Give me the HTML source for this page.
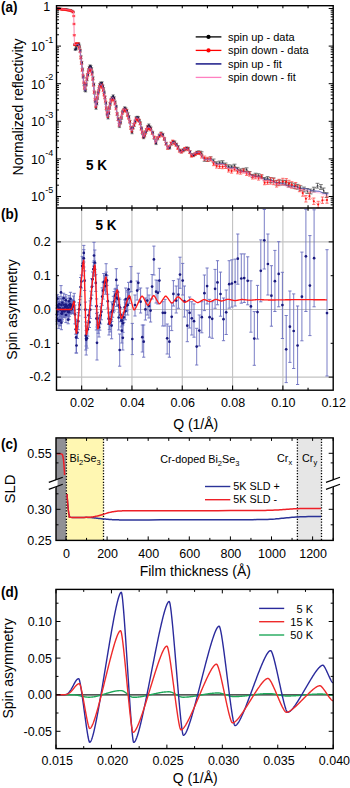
<!DOCTYPE html>
<html><head><meta charset="utf-8"><style>
html,body{margin:0;padding:0;background:#fff;width:350px;height:788px;overflow:hidden}
svg{display:block}
text{font-family:"Liberation Sans", sans-serif}
</style></head><body>
<svg width="350" height="788" viewBox="0 0 350 788">
<line x1="81.65" y1="208" x2="81.65" y2="390.2" stroke="#c2c2c2" stroke-width="1.1" />
<line x1="131.96" y1="208" x2="131.96" y2="390.2" stroke="#c2c2c2" stroke-width="1.1" />
<line x1="182.27" y1="208" x2="182.27" y2="390.2" stroke="#c2c2c2" stroke-width="1.1" />
<line x1="232.58" y1="208" x2="232.58" y2="390.2" stroke="#c2c2c2" stroke-width="1.1" />
<line x1="282.89" y1="208" x2="282.89" y2="390.2" stroke="#c2c2c2" stroke-width="1.1" />
<line x1="56.5" y1="241.9" x2="333.2" y2="241.9" stroke="#c2c2c2" stroke-width="1.1" />
<line x1="56.5" y1="309.5" x2="333.2" y2="309.5" stroke="#c2c2c2" stroke-width="1.1" />
<line x1="56.5" y1="377.1" x2="333.2" y2="377.1" stroke="#c2c2c2" stroke-width="1.1" />
<path d="M74.4,44.6 L74.73,44.59 L75.07,44.57 L75.43,44.55 L75.79,44.51 L76.16,44.47 L76.54,44.43 L76.91,44.39 L77.27,44.35 L77.63,44.33 L77.97,44.31 L78.3,44.3 L78.63,44.67 L78.98,45.73 L79.36,47.39 L79.75,49.58 L80.16,52.21 L80.57,55.21 L81,58.49 L81.42,61.97 L81.84,65.58 L82.25,69.22 L82.65,72.83 L83.03,76.31 L83.4,79.59 L83.73,82.59 L84.04,85.22 L84.32,87.41 L84.55,89.07 L84.75,90.13 L84.9,90.5 L85.04,90.21 L85.22,89.38 L85.44,88.11 L85.69,86.47 L85.97,84.54 L86.28,82.4 L86.62,80.15 L86.98,77.85 L87.37,75.6 L87.78,73.46 L88.21,71.53 L88.66,69.89 L89.13,68.62 L89.61,67.79 L90.1,67.5 L90.58,67.89 L91.04,68.99 L91.5,70.71 L91.94,72.96 L92.37,75.64 L92.78,78.65 L93.17,81.89 L93.54,85.28 L93.89,88.72 L94.22,92.11 L94.53,95.35 L94.81,98.36 L95.07,101.04 L95.3,103.29 L95.49,105.01 L95.66,106.11 L95.8,106.5 L95.94,106.21 L96.12,105.41 L96.33,104.16 L96.57,102.55 L96.85,100.67 L97.15,98.58 L97.49,96.37 L97.84,94.13 L98.22,91.92 L98.63,89.83 L99.05,87.95 L99.49,86.34 L99.94,85.09 L100.42,84.29 L100.9,84 L101.39,84.24 L101.86,84.92 L102.33,86 L102.78,87.43 L103.22,89.16 L103.65,91.13 L104.07,93.3 L104.47,95.62 L104.85,98.03 L105.22,100.5 L105.57,102.97 L105.89,105.38 L106.2,107.7 L106.49,109.87 L106.75,111.84 L106.99,113.57 L107.21,115 L107.4,116.08 L107.56,116.76 L107.7,117 L107.85,116.67 L108.04,115.75 L108.28,114.35 L108.55,112.58 L108.86,110.53 L109.2,108.33 L109.57,106.07 L109.97,103.87 L110.39,101.82 L110.84,100.05 L111.31,98.65 L111.8,97.73 L112.3,97.4 L112.78,97.59 L113.24,98.14 L113.7,99 L114.15,100.15 L114.59,101.53 L115.01,103.13 L115.42,104.89 L115.82,106.79 L116.2,108.77 L116.57,110.82 L116.92,112.88 L117.25,114.93 L117.56,116.91 L117.86,118.81 L118.13,120.57 L118.39,122.17 L118.62,123.55 L118.82,124.7 L119.01,125.56 L119.17,126.11 L119.3,126.3 L119.44,126.08 L119.62,125.45 L119.83,124.48 L120.07,123.23 L120.35,121.76 L120.65,120.14 L120.99,118.42 L121.34,116.68 L121.72,114.96 L122.13,113.34 L122.55,111.87 L122.99,110.62 L123.44,109.65 L123.92,109.02 L124.4,108.8 L124.88,108.93 L125.35,109.32 L125.82,109.93 L126.27,110.73 L126.71,111.72 L127.14,112.85 L127.56,114.11 L127.97,115.47 L128.36,116.91 L128.74,118.39 L129.1,119.9 L129.44,121.41 L129.77,122.89 L130.08,124.33 L130.37,125.69 L130.64,126.95 L130.89,128.08 L131.12,129.07 L131.32,129.87 L131.51,130.48 L131.67,130.87 L131.8,131 L131.94,130.83 L132.12,130.36 L132.34,129.63 L132.59,128.68 L132.87,127.58 L133.18,126.35 L133.52,125.06 L133.88,123.74 L134.27,122.45 L134.68,121.22 L135.11,120.12 L135.56,119.17 L136.03,118.44 L136.51,117.97 L137,117.8 L137.48,117.95 L137.95,118.4 L138.41,119.09 L138.86,120.01 L139.3,121.11 L139.72,122.36 L140.12,123.73 L140.51,125.18 L140.88,126.69 L141.24,128.21 L141.57,129.72 L141.89,131.17 L142.18,132.54 L142.44,133.79 L142.69,134.89 L142.91,135.81 L143.1,136.5 L143.26,136.95 L143.4,137.1 L143.54,136.97 L143.72,136.61 L143.94,136.06 L144.19,135.35 L144.47,134.51 L144.78,133.58 L145.12,132.6 L145.48,131.6 L145.87,130.62 L146.28,129.69 L146.71,128.85 L147.16,128.14 L147.63,127.59 L148.11,127.23 L148.6,127.1 L149.08,127.2 L149.56,127.5 L150.02,127.98 L150.48,128.6 L150.92,129.36 L151.35,130.23 L151.77,131.2 L152.17,132.23 L152.56,133.32 L152.93,134.44 L153.28,135.56 L153.62,136.68 L153.94,137.77 L154.24,138.8 L154.52,139.77 L154.77,140.64 L155.01,141.4 L155.22,142.02 L155.4,142.5 L155.56,142.8 L155.7,142.9 L155.85,142.77 L156.03,142.39 L156.26,141.81 L156.52,141.08 L156.81,140.22 L157.13,139.28 L157.49,138.3 L157.87,137.32 L158.27,136.38 L158.7,135.52 L159.15,134.79 L159.62,134.21 L160.1,133.83 L160.6,133.7 L161.08,133.79 L161.55,134.05 L162.02,134.46 L162.47,135 L162.91,135.66 L163.34,136.42 L163.76,137.27 L164.17,138.18 L164.56,139.14 L164.94,140.14 L165.3,141.15 L165.64,142.16 L165.97,143.16 L166.28,144.12 L166.57,145.03 L166.84,145.88 L167.09,146.64 L167.32,147.3 L167.52,147.84 L167.71,148.25 L167.87,148.51 L168,148.6 L168.15,148.51 L168.33,148.25 L168.56,147.86 L168.82,147.35 L169.11,146.76 L169.43,146.12 L169.79,145.45 L170.17,144.78 L170.57,144.14 L171,143.55 L171.45,143.04 L171.92,142.65 L172.4,142.39 L172.9,142.3 L173.38,142.36 L173.85,142.52 L174.31,142.77 L174.76,143.11 L175.21,143.52 L175.64,144 L176.06,144.54 L176.47,145.12 L176.86,145.73 L177.24,146.37 L177.61,147.02 L177.96,147.68 L178.3,148.33 L178.62,148.97 L178.92,149.58 L179.2,150.16 L179.46,150.7 L179.71,151.18 L179.93,151.59 L180.13,151.93 L180.31,152.18 L180.47,152.34 L180.6,152.4 L180.74,152.36 L180.91,152.25 L181.1,152.09 L181.33,151.87 L181.59,151.61 L181.87,151.31 L182.18,151 L182.51,150.67 L182.86,150.33 L183.23,150 L183.62,149.69 L184.03,149.39 L184.46,149.13 L184.9,148.91 L185.36,148.75 L185.82,148.64 L186.3,148.6 L186.78,148.67 L187.24,148.86 L187.7,149.15 L188.14,149.54 L188.57,150 L188.98,150.51 L189.37,151.07 L189.74,151.65 L190.09,152.25 L190.42,152.83 L190.73,153.39 L191.01,153.9 L191.27,154.36 L191.5,154.75 L191.69,155.04 L191.86,155.23 L192,155.3 L192.14,155.28 L192.31,155.21 L192.51,155.1 L192.73,154.96 L192.99,154.79 L193.26,154.59 L193.56,154.38 L193.88,154.15 L194.23,153.92 L194.59,153.68 L194.98,153.45 L195.38,153.22 L195.8,153.01 L196.23,152.81 L196.68,152.64 L197.14,152.5 L197.62,152.39 L198.1,152.32 L198.6,152.3 L199.07,152.37 L199.51,152.55 L199.92,152.84 L200.31,153.22 L200.68,153.68 L201.04,154.2 L201.37,154.76 L201.69,155.35 L202,155.96 L202.31,156.56 L202.6,157.15 L202.88,157.72 L203.17,158.23 L203.45,158.69 L203.73,159.07 L204.01,159.36 L204.3,159.55 L204.6,159.61 L204.91,159.61 L205.22,159.59 L205.54,159.57 L205.88,159.53 L206.21,159.5 L206.56,159.45 L206.9,159.41 L207.25,159.36 L207.6,159.31 L207.95,159.26 L208.3,159.21 L208.64,159.16 L208.99,159.12 L209.32,159.08 L209.66,159.05 L209.98,159.02 L210.29,159.01 L210.6,159 L210.91,159.05 L211.22,159.18 L211.54,159.38 L211.88,159.65 L212.21,159.97 L212.56,160.33 L212.9,160.73 L213.25,161.14 L213.6,161.57 L213.95,161.99 L214.3,162.41 L214.64,162.8 L214.99,163.16 L215.32,163.48 L215.66,163.75 L215.98,163.96 L216.29,164.09 L216.6,164.13 L216.91,164.13 L217.22,164.11 L217.54,164.09 L217.88,164.07 L218.21,164.04 L218.56,164 L218.9,163.96 L219.25,163.92 L219.6,163.88 L219.95,163.84 L220.3,163.8 L220.64,163.76 L220.99,163.73 L221.32,163.69 L221.66,163.67 L221.98,163.65 L222.29,163.64 L222.6,163.63 L222.91,163.67 L223.22,163.77 L223.54,163.93 L223.88,164.14 L224.21,164.39 L224.56,164.67 L224.9,164.98 L225.25,165.31 L225.6,165.64 L225.95,165.97 L226.3,166.3 L226.64,166.6 L226.99,166.89 L227.32,167.14 L227.66,167.35 L227.98,167.51 L228.29,167.61 L228.6,167.64 L228.91,167.65 L229.22,167.65 L229.54,167.65 L229.88,167.65 L230.21,167.66 L230.56,167.66 L230.9,167.67 L231.25,167.67 L231.6,167.68 L231.95,167.68 L232.3,167.69 L232.64,167.69 L232.99,167.7 L233.32,167.7 L233.66,167.71 L233.98,167.71 L234.29,167.71 L234.6,167.71 L234.91,167.74 L235.22,167.82 L235.54,167.96 L235.88,168.13 L236.21,168.34 L236.56,168.57 L236.9,168.83 L237.25,169.1 L237.6,169.37 L237.95,169.65 L238.3,169.92 L238.64,170.18 L238.99,170.41 L239.32,170.62 L239.66,170.79 L239.98,170.92 L240.29,171.01 L240.6,171.04 L240.91,171.05 L241.22,171.07 L241.54,171.11 L241.88,171.15 L242.21,171.21 L242.56,171.27 L242.9,171.34 L243.25,171.41 L243.6,171.49 L243.95,171.56 L244.3,171.63 L244.64,171.7 L244.99,171.76 L245.32,171.82 L245.66,171.87 L245.98,171.9 L246.29,171.92 L246.6,171.93 L246.91,171.96 L247.22,172.06 L247.54,172.21 L247.88,172.4 L248.21,172.64 L248.56,172.9 L248.9,173.19 L249.25,173.49 L249.6,173.8 L249.95,174.11 L250.3,174.41 L250.64,174.7 L250.99,174.96 L251.32,175.2 L251.66,175.39 L251.98,175.54 L252.29,175.64 L252.6,175.67 L252.91,175.68 L253.22,175.69 L253.54,175.72 L253.88,175.76 L254.21,175.81 L254.56,175.86 L254.9,175.92 L255.25,175.97 L255.6,176.04 L255.95,176.1 L256.3,176.16 L256.64,176.21 L256.99,176.26 L257.32,176.31 L257.66,176.35 L257.98,176.38 L258.29,176.4 L258.6,176.4 L258.91,176.43 L259.22,176.5 L259.54,176.61 L259.88,176.75 L260.21,176.93 L260.56,177.12 L260.9,177.34 L261.25,177.56 L261.6,177.79 L261.95,178.02 L262.3,178.25 L262.64,178.46 L262.99,178.66 L263.32,178.83 L263.66,178.98 L263.98,179.09 L264.29,179.16 L264.6,179.18 L264.91,179.19 L265.22,179.21 L265.54,179.24 L265.88,179.28 L266.21,179.33 L266.56,179.38 L266.9,179.44 L267.25,179.5 L267.6,179.56 L267.95,179.62 L268.3,179.69 L268.64,179.74 L268.99,179.8 L269.32,179.85 L269.66,179.89 L269.98,179.92 L270.29,179.93 L270.6,179.94 L270.91,179.96 L271.22,180.03 L271.54,180.14 L271.88,180.27 L272.21,180.44 L272.56,180.63 L272.9,180.83 L273.25,181.04 L273.6,181.26 L273.95,181.48 L274.3,181.69 L274.64,181.9 L274.99,182.08 L275.32,182.25 L275.66,182.38 L275.98,182.49 L276.29,182.56 L276.6,182.58 L276.91,182.59 L277.22,182.61 L277.54,182.65 L277.88,182.69 L278.21,182.75 L278.56,182.81 L278.9,182.88 L279.25,182.95 L279.6,183.03 L279.95,183.1 L280.3,183.17 L280.64,183.24 L280.99,183.31 L281.32,183.36 L281.66,183.41 L281.98,183.45 L282.29,183.47 L282.6,183.48 L282.91,183.5 L283.22,183.56 L283.54,183.65 L283.88,183.77 L284.21,183.92 L284.56,184.09 L284.9,184.27 L285.25,184.46 L285.6,184.66 L285.95,184.85 L286.3,185.04 L286.64,185.22 L286.99,185.39 L287.32,185.54 L287.66,185.66 L287.98,185.76 L288.29,185.81 L288.6,185.84 L288.91,185.84 L289.22,185.85 L289.54,185.87 L289.88,185.89 L290.21,185.92 L290.56,185.95 L290.9,185.98 L291.25,186.02 L291.6,186.06 L291.95,186.09 L292.3,186.13 L292.64,186.16 L292.99,186.19 L293.32,186.22 L293.66,186.24 L293.98,186.26 L294.29,186.27 L294.6,186.27 L294.91,186.29 L295.22,186.34 L295.54,186.42 L295.88,186.52 L296.21,186.64 L296.56,186.78 L296.9,186.93 L297.25,187.09 L297.6,187.25 L297.95,187.41 L298.3,187.57 L298.64,187.72 L298.99,187.86 L299.32,187.98 L299.66,188.08 L299.98,188.16 L300.29,188.21 L300.6,188.23 L300.91,188.23 L301.22,188.24 L301.54,188.26 L301.88,188.28 L302.21,188.31 L302.56,188.35 L302.9,188.38 L303.25,188.42 L303.6,188.46 L303.95,188.49 L304.3,188.53 L304.64,188.57 L304.99,188.6 L305.32,188.63 L305.66,188.65 L305.98,188.67 L306.29,188.68 L306.6,188.69 L306.91,188.7 L307.22,188.76 L307.54,188.84 L307.88,188.95 L308.21,189.08 L308.56,189.23 L308.9,189.39 L309.25,189.56 L309.6,189.73 L309.95,189.9 L310.3,190.07 L310.64,190.23 L310.99,190.38 L311.32,190.51 L311.66,190.62 L311.98,190.7 L312.29,190.75 L312.6,190.77 L312.91,190.78 L313.22,190.79 L313.54,190.81 L313.88,190.84 L314.21,190.87 L314.56,190.91 L314.9,190.95 L315.25,190.99 L315.6,191.03 L315.95,191.08 L316.3,191.12 L316.64,191.16 L316.99,191.19 L317.32,191.23 L317.66,191.25 L317.98,191.27 L318.29,191.29 L318.6,191.29 L318.91,191.31 L319.22,191.37 L319.54,191.45 L319.88,191.56 L320.21,191.7 L320.56,191.85 L320.9,192.01 L321.25,192.19 L321.6,192.36 L321.95,192.54 L322.3,192.71 L322.64,192.88 L322.99,193.03 L323.32,193.16 L323.66,193.28 L323.98,193.36 L324.29,193.42 L324.6,193.44 L324.91,193.44 L325.22,193.45 L325.54,193.47 L325.88,193.5 L326.21,193.53 L326.56,193.56 L326.9,193.6 L327.25,193.64 L327.6,193.68 L327.95,193.72 L328.3,193.76" fill="none" stroke="#3a3aa8" stroke-width="0.8" stroke-linejoin="round" />
<path d="M57.6,7.72V9.12M56,7.72H59.2M56,9.12H59.2M58.9,7.89V9.29M57.3,7.89H60.5M57.3,9.29H60.5M60.2,8.1V9.5M58.6,8.1H61.8M58.6,9.5H61.8M61.5,8.33V9.73M59.9,8.33H63.1M59.9,9.73H63.1M62.8,8.52V9.92M61.2,8.52H64.4M61.2,9.92H64.4M64.1,8.6V10M62.5,8.6H65.7M62.5,10H65.7M65.4,8.73V10.13M63.8,8.73H67M63.8,10.13H67M66.7,8.95V10.35M65.1,8.95H68.3M65.1,10.35H68.3M68,9.2V10.6M66.4,9.2H69.6M66.4,10.6H69.6M69.3,9.4V10.8M67.7,9.4H70.9M67.7,10.8H70.9M70.6,9.5V10.9M69,9.5H72.2M69,10.9H72.2M71.9,10.25V11.65M70.3,10.25H73.5M70.3,11.65H73.5M73.2,11.18V12.58M71.6,11.18H74.8M71.6,12.58H74.8M74.7,43.89V45.29M73.1,43.89H76.3M73.1,45.29H76.3M75.2,48.8V50.2M73.6,48.8H76.8M73.6,50.2H76.8M75.45,43.84V45.24M73.85,43.84H77.05M73.85,45.24H77.05M76.3,47.3V49.9M74.7,47.3H77.9M74.7,49.9H77.9M76.57,43.71V46.31M74.97,43.71H78.17M74.97,46.31H78.17M77.32,43.87V46.47M75.72,43.87H78.92M75.72,46.47H78.92M78.07,42.52V45.12M76.47,42.52H79.67M76.47,45.12H79.67M78.82,43.27V45.87M77.22,43.27H80.42M77.22,45.87H80.42M79.57,44.91V47.51M77.97,44.91H81.17M77.97,47.51H81.17M80.32,49.21V51.81M78.72,49.21H81.92M78.72,51.81H81.92M81.07,55.75V58.35M79.47,55.75H82.67M79.47,58.35H82.67M81.82,61.32V63.92M80.22,61.32H83.42M80.22,63.92H83.42M82.57,68.1V70.7M80.97,68.1H84.17M80.97,70.7H84.17M83.32,75.59V78.19M81.72,75.59H84.92M81.72,78.19H84.92M84.07,82.84V85.44M82.47,82.84H85.67M82.47,85.44H85.67M84.82,88.59V91.19M83.22,88.59H86.42M83.22,91.19H86.42M85.57,89.35V91.95M83.97,89.35H87.17M83.97,91.95H87.17M86.32,83.32V85.92M84.72,83.32H87.92M84.72,85.92H87.92M87.07,78.15V80.75M85.47,78.15H88.67M85.47,80.75H88.67M87.82,73.34V75.94M86.22,73.34H89.42M86.22,75.94H89.42M88.57,69.09V71.69M86.97,69.09H90.17M86.97,71.69H90.17M89.32,66.33V68.93M87.72,66.33H90.92M87.72,68.93H90.92M90.07,64.85V67.45M88.47,64.85H91.67M88.47,67.45H91.67M90.82,65.52V68.12M89.22,65.52H92.42M89.22,68.12H92.42M91.57,67.57V70.17M89.97,67.57H93.17M89.97,70.17H93.17M92.32,71.25V73.85M90.72,71.25H93.92M90.72,73.85H93.92M93.07,76.84V79.44M91.47,76.84H94.67M91.47,79.44H94.67M93.82,83.05V85.65M92.22,83.05H95.42M92.22,85.65H95.42M94.57,91.56V94.16M92.97,91.56H96.17M92.97,94.16H96.17M95.32,100.12V102.72M93.72,100.12H96.92M93.72,102.72H96.92M96.07,106.72V109.32M94.47,106.72H97.67M94.47,109.32H97.67M96.82,102.38V104.98M95.22,102.38H98.42M95.22,104.98H98.42M97.57,97.04V99.64M95.97,97.04H99.17M95.97,99.64H99.17M98.32,91.18V93.78M96.72,91.18H99.92M96.72,93.78H99.92M99.07,87.58V90.18M97.47,87.58H100.67M97.47,90.18H100.67M99.82,83.58V86.18M98.22,83.58H101.42M98.22,86.18H101.42M100.57,82.03V84.63M98.97,82.03H102.17M98.97,84.63H102.17M101.32,82.57V85.17M99.72,82.57H102.92M99.72,85.17H102.92M102.07,81.81V84.41M100.47,81.81H103.67M100.47,84.41H103.67M102.82,85V87.6M101.22,85H104.42M101.22,87.6H104.42M103.57,87.64V90.24M101.97,87.64H105.17M101.97,90.24H105.17M104.32,91.2V93.8M102.72,91.2H105.92M102.72,93.8H105.92M105.07,96.25V98.85M103.47,96.25H106.67M103.47,98.85H106.67M105.82,101.68V104.28M104.22,101.68H107.42M104.22,104.28H107.42M106.57,107.81V110.41M104.97,107.81H108.17M104.97,110.41H108.17M107.32,113.11V115.71M105.72,113.11H108.92M105.72,115.71H108.92M108.07,116.39V118.99M106.47,116.39H109.67M106.47,118.99H109.67M108.82,112.04V114.64M107.22,112.04H110.42M107.22,114.64H110.42M109.57,106.59V109.19M107.97,106.59H111.17M107.97,109.19H111.17M110.32,102.37V104.97M108.72,102.37H111.92M108.72,104.97H111.92M111.07,98.45V101.05M109.47,98.45H112.67M109.47,101.05H112.67M112.12,96.46V99.06M110.52,96.46H113.72M110.52,99.06H113.72M113.17,94.83V97.43M111.57,94.83H114.77M111.57,97.43H114.77M114.22,96.78V99.38M112.62,96.78H115.82M112.62,99.38H115.82M115.27,100.99V103.59M113.67,100.99H116.87M113.67,103.59H116.87M116.32,105.35V107.95M114.72,105.35H117.92M114.72,107.95H117.92M117.37,113.12V115.72M115.77,113.12H118.97M115.77,115.72H118.97M118.42,117.88V120.48M116.82,117.88H120.02M116.82,120.48H120.02M119.47,124.98V127.58M117.87,124.98H121.07M117.87,127.58H121.07M120.52,121.34V123.94M118.92,121.34H122.12M118.92,123.94H122.12M121.57,116.75V119.35M119.97,116.75H123.17M119.97,119.35H123.17M122.62,110.56V113.16M121.02,110.56H124.22M121.02,113.16H124.22M123.67,108.88V111.48M122.07,108.88H125.27M122.07,111.48H125.27M124.72,106.78V109.38M123.12,106.78H126.32M123.12,109.38H126.32M125.77,107.72V110.32M124.17,107.72H127.37M124.17,110.32H127.37M126.82,109.29V111.89M125.22,109.29H128.42M125.22,111.89H128.42M127.87,112.67V115.27M126.27,112.67H129.47M126.27,115.27H129.47M128.92,115.57V118.17M127.32,115.57H130.52M127.32,118.17H130.52M129.97,120.48V123.08M128.37,120.48H131.57M128.37,123.08H131.57M131.02,126.78V129.38M129.42,126.78H132.62M129.42,129.38H132.62M132.07,131.15V133.75M130.47,131.15H133.67M130.47,133.75H133.67M133.12,126.1V128.7M131.52,126.1H134.72M131.52,128.7H134.72M134.17,123.74V126.34M132.57,123.74H135.77M132.57,126.34H135.77M135.22,120.05V122.65M133.62,120.05H136.82M133.62,122.65H136.82M136.27,116.62V119.22M134.67,116.62H137.87M134.67,119.22H137.87M137.32,116.22V118.82M135.72,116.22H138.92M135.72,118.82H138.92M138.37,116.56V119.16M136.77,116.56H139.97M136.77,119.16H139.97M139.42,119.48V122.08M137.82,119.48H141.02M137.82,122.08H141.02M140.47,121.94V124.54M138.87,121.94H142.07M138.87,124.54H142.07M141.52,126.97V129.57M139.92,126.97H143.12M139.92,129.57H143.12M142.57,131.85V134.45M140.97,131.85H144.17M140.97,134.45H144.17M143.62,136.11V138.71M142.02,136.11H145.22M142.02,138.71H145.22M144.67,134.2V136.8M143.07,134.2H146.27M143.07,136.8H146.27M145.72,130.71V133.31M144.12,130.71H147.32M144.12,133.31H147.32M146.77,128.8V131.4M145.17,128.8H148.37M145.17,131.4H148.37M147.82,125.35V127.95M146.22,125.35H149.42M146.22,127.95H149.42M148.87,123.91V126.51M147.27,123.91H150.47M147.27,126.51H150.47M149.92,125.82V128.42M148.32,125.82H151.52M148.32,128.42H151.52M150.97,127.02V129.62M149.37,127.02H152.57M149.37,129.62H152.57M152.67,131.24V133.84M151.07,131.24H154.27M151.07,133.84H154.27M154.37,136.8V139.4M152.77,136.8H155.97M152.77,139.4H155.97M156.07,141.98V144.58M154.47,141.98H157.67M154.47,144.58H157.67M157.77,137.23V139.83M156.17,137.23H159.37M156.17,139.83H159.37M159.47,134.02V136.62M157.87,134.02H161.07M157.87,136.62H161.07M161.17,131.95V134.55M159.57,131.95H162.77M159.57,134.55H162.77M162.87,133.34V135.94M161.27,133.34H164.47M161.27,135.94H164.47M164.57,137.84V140.44M162.97,137.84H166.17M162.97,140.44H166.17M166.27,142.32V144.92M164.67,142.32H167.87M164.67,144.92H167.87M167.97,146.4V149M166.37,146.4H169.57M166.37,149H169.57M169.67,146.43V149.03M168.07,146.43H171.27M168.07,149.03H171.27M171.37,142.54V145.14M169.77,142.54H172.97M169.77,145.14H172.97M173.07,140.58V143.18M171.47,140.58H174.67M171.47,143.18H174.67M174.77,140.92V143.52M173.17,140.92H176.37M173.17,143.52H176.37M176.47,143.18V145.78M174.87,143.18H178.07M174.87,145.78H178.07M178.17,145.61V148.21M176.57,145.61H179.77M176.57,148.21H179.77M179.87,149.17V151.77M178.27,149.17H181.47M178.27,151.77H181.47M181.57,150.26V152.86M179.97,150.26H183.17M179.97,152.86H183.17M183.27,148.71V151.31M181.67,148.71H184.87M181.67,151.31H184.87M184.97,148.23V150.83M183.37,148.23H186.57M183.37,150.83H186.57M186.67,146.97V149.57M185.07,146.97H188.27M185.07,149.57H188.27M188.37,147.34V149.94M186.77,147.34H189.97M186.77,149.94H189.97M190.07,150.67V153.27M188.47,150.67H191.67M188.47,153.27H191.67M191.77,153.66V156.26M190.17,153.66H193.37M190.17,156.26H193.37M193.47,153.99V156.59M191.87,153.99H195.07M191.87,156.59H195.07M195.17,152.85V155.45M193.57,152.85H196.77M193.57,155.45H196.77M196.87,151.27V153.87M195.27,151.27H198.47M195.27,153.87H198.47M198.57,150.83V153.43M196.97,150.83H200.17M196.97,153.43H200.17" stroke="#555" stroke-width="0.65" fill="none"/>
<path d="M200.27,151.16V154.36M198.37,151.16H202.17M198.37,154.36H202.17M201.6,151.83V155.03M199.7,151.83H203.5M199.7,155.03H203.5M204.6,158.07V161.27M202.7,158.07H206.5M202.7,161.27H206.5M207.6,158.23V161.43M205.7,158.23H209.5M205.7,161.43H209.5M210.6,156.85V160.05M208.7,156.85H212.5M208.7,160.05H212.5M213.6,159.05V162.25M211.7,159.05H215.5M211.7,162.25H215.5M216.6,161.8V165M214.7,161.8H218.5M214.7,165H218.5M219.6,161.07V164.27M217.7,161.07H221.5M217.7,164.27H221.5M222.6,160.72V163.92M220.7,160.72H224.5M220.7,163.92H224.5M225.6,163.02V166.22M223.7,163.02H227.5M223.7,166.22H227.5M228.6,164.83V168.03M226.7,164.83H230.5M226.7,168.03H230.5M231.6,165.13V168.33M229.7,165.13H233.5M229.7,168.33H233.5M234.6,164.2V167.4M232.7,164.2H236.5M232.7,167.4H236.5M237.6,167.37V170.57M235.7,167.37H239.5M235.7,170.57H239.5M240.6,168.91V172.11M238.7,168.91H242.5M238.7,172.11H242.5M243.6,168.34V171.54M241.7,168.34H245.5M241.7,171.54H245.5M246.6,167.85V171.05M244.7,167.85H248.5M244.7,171.05H248.5M249.6,171.5V174.7M247.7,171.5H251.5M247.7,174.7H251.5M252.6,174.39V177.59M250.7,174.39H254.5M250.7,177.59H254.5M255.6,173.23V176.43M253.7,173.23H257.5M253.7,176.43H257.5M258.6,173.78V176.98M256.7,173.78H260.5M256.7,176.98H260.5M261.6,175.07V178.27M259.7,175.07H263.5M259.7,178.27H263.5M264.6,177.53V180.73M262.7,177.53H266.5M262.7,180.73H266.5M267.6,176.61V179.81M265.7,176.61H269.5M265.7,179.81H269.5M270.6,177.7V182.5M268.7,177.7H272.5M268.7,182.5H272.5M273.6,177.95V182.75M271.7,177.95H275.5M271.7,182.75H275.5M276.6,180.34V185.14M274.7,180.34H278.5M274.7,185.14H278.5M279.6,180.03V184.83M277.7,180.03H281.5M277.7,184.83H281.5M282.6,180.27V185.07M280.7,180.27H284.5M280.7,185.07H284.5M285.6,180.42V185.22M283.7,180.42H287.5M283.7,185.22H287.5M288.6,182.31V187.11M286.7,182.31H290.5M286.7,187.11H290.5M291.6,182.84V187.64M289.7,182.84H293.5M289.7,187.64H293.5M294.6,183.78V188.58M292.7,183.78H296.5M292.7,188.58H296.5M297.6,184.4V189.2M295.7,184.4H299.5M295.7,189.2H299.5M300.5,185.8V190.6M298.6,185.8H302.4M298.6,190.6H302.4M304,187.1V191.9M302.1,187.1H305.9M302.1,191.9H305.9M307.3,188.6V193.4M305.4,188.6H309.2M305.4,193.4H309.2M310.6,189.1V193.9M308.7,189.1H312.5M308.7,193.9H312.5M313.8,187.2V192M311.9,187.2H315.7M311.9,192H315.7M317.5,183.3V188.1M315.6,183.3H319.4M315.6,188.1H319.4M320.9,184.6V189.4M319,184.6H322.8M319,189.4H322.8M323.6,188V192.8M321.7,188H325.5M321.7,192.8H325.5M326.6,192.7V197.5M324.7,192.7H328.5M324.7,197.5H328.5" stroke="#444" stroke-width="0.7" fill="none"/>
<path d="M57.6,8.42 L58.9,8.59 L60.2,8.8 L61.5,9.03 L62.8,9.22 L64.1,9.3 L65.4,9.43 L66.7,9.65 L68,9.9 L69.3,10.1 L70.6,10.2 L71.9,10.95 L73.2,11.88" fill="none" stroke="#333" stroke-width="0.45" stroke-linejoin="round" />
<path d="M75.2,49.5 L75.45,44.54 L76.3,48.6 L76.57,45.01 L77.32,45.17 L78.07,43.82 L78.82,44.57 L79.57,46.21 L80.32,50.51 L81.07,57.05 L81.82,62.62 L82.57,69.4 L83.32,76.89 L84.07,84.14 L84.82,89.89 L85.57,90.65 L86.32,84.62 L87.07,79.45 L87.82,74.64 L88.57,70.39 L89.32,67.63 L90.07,66.15 L90.82,66.82 L91.57,68.87 L92.32,72.55 L93.07,78.14 L93.82,84.35 L94.57,92.86 L95.32,101.42 L96.07,108.02 L96.82,103.68 L97.57,98.34 L98.32,92.48 L99.07,88.88 L99.82,84.88 L100.57,83.33 L101.32,83.87 L102.07,83.11 L102.82,86.3 L103.57,88.94 L104.32,92.5 L105.07,97.55 L105.82,102.98 L106.57,109.11 L107.32,114.41 L108.07,117.69 L108.82,113.34 L109.57,107.89 L110.32,103.67 L111.07,99.75 L112.12,97.76 L113.17,96.13 L114.22,98.08 L115.27,102.29 L116.32,106.65 L117.37,114.42 L118.42,119.18 L119.47,126.28 L120.52,122.64 L121.57,118.05 L122.62,111.86 L123.67,110.18 L124.72,108.08 L125.77,109.02 L126.82,110.59 L127.87,113.97 L128.92,116.87 L129.97,121.78 L131.02,128.08 L132.07,132.45 L133.12,127.4 L134.17,125.04 L135.22,121.35 L136.27,117.92 L137.32,117.52 L138.37,117.86 L139.42,120.78 L140.47,123.24 L141.52,128.27 L142.57,133.15 L143.62,137.41 L144.67,135.5 L145.72,132.01 L146.77,130.1 L147.82,126.65 L148.87,125.21 L149.92,127.12 L150.97,128.32 L152.67,132.54 L154.37,138.1 L156.07,143.28 L157.77,138.53 L159.47,135.32 L161.17,133.25 L162.87,134.64 L164.57,139.14 L166.27,143.62 L167.97,147.7 L169.67,147.73 L171.37,143.84 L173.07,141.88 L174.77,142.22 L176.47,144.48 L178.17,146.91 L179.87,150.47 L181.57,151.56 L183.27,150.01 L184.97,149.53 L186.67,148.27 L188.37,148.64 L190.07,151.97 L191.77,154.96 L193.47,155.29 L195.17,154.15 L196.87,152.57 L198.57,152.13 L200.27,152.76 L201.6,153.43 L204.6,159.67 L207.6,159.83 L210.6,158.45 L213.6,160.65 L216.6,163.4 L219.6,162.67 L222.6,162.32 L225.6,164.62 L228.6,166.43 L231.6,166.73 L234.6,165.8 L237.6,168.97 L240.6,170.51 L243.6,169.94 L246.6,169.45 L249.6,173.1 L252.6,175.99 L255.6,174.83 L258.6,175.38 L261.6,176.67 L264.6,179.13 L267.6,178.21 L270.6,180.1 L273.6,180.35 L276.6,182.74 L279.6,182.43 L282.6,182.67 L285.6,182.82 L288.6,184.71 L291.6,185.24 L294.6,186.18 L297.6,186.8 L300.5,188.2 L304,189.5 L307.3,191 L310.6,191.5 L313.8,189.6 L317.5,185.7 L320.9,187 L323.6,190.4 L326.6,195.1" fill="none" stroke="#333" stroke-width="0.45" stroke-linejoin="round" />
<g fill="#161640"><circle cx="57.6" cy="8.42" r="1.05"/><circle cx="58.9" cy="8.59" r="1.05"/><circle cx="60.2" cy="8.8" r="1.05"/><circle cx="61.5" cy="9.03" r="1.05"/><circle cx="62.8" cy="9.22" r="1.05"/><circle cx="64.1" cy="9.3" r="1.05"/><circle cx="65.4" cy="9.43" r="1.05"/><circle cx="66.7" cy="9.65" r="1.05"/><circle cx="68" cy="9.9" r="1.05"/><circle cx="69.3" cy="10.1" r="1.05"/><circle cx="70.6" cy="10.2" r="1.05"/><circle cx="71.9" cy="10.95" r="1.05"/><circle cx="73.2" cy="11.88" r="1.05"/><circle cx="74.7" cy="44.59" r="1.05"/><circle cx="75.2" cy="49.5" r="1.05"/><circle cx="75.45" cy="44.54" r="1.05"/><circle cx="76.3" cy="48.6" r="1.05"/><circle cx="76.57" cy="45.01" r="1.05"/><circle cx="77.32" cy="45.17" r="1.05"/><circle cx="78.07" cy="43.82" r="1.05"/><circle cx="78.82" cy="44.57" r="1.05"/><circle cx="79.57" cy="46.21" r="1.05"/><circle cx="80.32" cy="50.51" r="1.05"/><circle cx="81.07" cy="57.05" r="1.05"/><circle cx="81.82" cy="62.62" r="1.05"/><circle cx="82.57" cy="69.4" r="1.05"/><circle cx="83.32" cy="76.89" r="1.05"/><circle cx="84.07" cy="84.14" r="1.05"/><circle cx="84.82" cy="89.89" r="1.05"/><circle cx="85.57" cy="90.65" r="1.05"/><circle cx="86.32" cy="84.62" r="1.05"/><circle cx="87.07" cy="79.45" r="1.05"/><circle cx="87.82" cy="74.64" r="1.05"/><circle cx="88.57" cy="70.39" r="1.05"/><circle cx="89.32" cy="67.63" r="1.05"/><circle cx="90.07" cy="66.15" r="1.05"/><circle cx="90.82" cy="66.82" r="1.05"/><circle cx="91.57" cy="68.87" r="1.05"/><circle cx="92.32" cy="72.55" r="1.05"/><circle cx="93.07" cy="78.14" r="1.05"/><circle cx="93.82" cy="84.35" r="1.05"/><circle cx="94.57" cy="92.86" r="1.05"/><circle cx="95.32" cy="101.42" r="1.05"/><circle cx="96.07" cy="108.02" r="1.05"/><circle cx="96.82" cy="103.68" r="1.05"/><circle cx="97.57" cy="98.34" r="1.05"/><circle cx="98.32" cy="92.48" r="1.05"/><circle cx="99.07" cy="88.88" r="1.05"/><circle cx="99.82" cy="84.88" r="1.05"/><circle cx="100.57" cy="83.33" r="1.05"/><circle cx="101.32" cy="83.87" r="1.05"/><circle cx="102.07" cy="83.11" r="1.05"/><circle cx="102.82" cy="86.3" r="1.05"/><circle cx="103.57" cy="88.94" r="1.05"/><circle cx="104.32" cy="92.5" r="1.05"/><circle cx="105.07" cy="97.55" r="1.05"/><circle cx="105.82" cy="102.98" r="1.05"/><circle cx="106.57" cy="109.11" r="1.05"/><circle cx="107.32" cy="114.41" r="1.05"/><circle cx="108.07" cy="117.69" r="1.05"/><circle cx="108.82" cy="113.34" r="1.05"/><circle cx="109.57" cy="107.89" r="1.05"/><circle cx="110.32" cy="103.67" r="1.05"/><circle cx="111.07" cy="99.75" r="1.05"/><circle cx="112.12" cy="97.76" r="1.05"/><circle cx="113.17" cy="96.13" r="1.05"/><circle cx="114.22" cy="98.08" r="1.05"/><circle cx="115.27" cy="102.29" r="1.05"/><circle cx="116.32" cy="106.65" r="1.05"/><circle cx="117.37" cy="114.42" r="1.05"/><circle cx="118.42" cy="119.18" r="1.05"/><circle cx="119.47" cy="126.28" r="1.05"/><circle cx="120.52" cy="122.64" r="1.05"/><circle cx="121.57" cy="118.05" r="1.05"/><circle cx="122.62" cy="111.86" r="1.05"/><circle cx="123.67" cy="110.18" r="1.05"/><circle cx="124.72" cy="108.08" r="1.05"/><circle cx="125.77" cy="109.02" r="1.05"/><circle cx="126.82" cy="110.59" r="1.05"/><circle cx="127.87" cy="113.97" r="1.05"/><circle cx="128.92" cy="116.87" r="1.05"/><circle cx="129.97" cy="121.78" r="1.05"/><circle cx="131.02" cy="128.08" r="1.05"/><circle cx="132.07" cy="132.45" r="1.05"/><circle cx="133.12" cy="127.4" r="1.05"/><circle cx="134.17" cy="125.04" r="1.05"/><circle cx="135.22" cy="121.35" r="1.05"/><circle cx="136.27" cy="117.92" r="1.05"/><circle cx="137.32" cy="117.52" r="1.05"/><circle cx="138.37" cy="117.86" r="1.05"/><circle cx="139.42" cy="120.78" r="1.05"/><circle cx="140.47" cy="123.24" r="1.05"/><circle cx="141.52" cy="128.27" r="1.05"/><circle cx="142.57" cy="133.15" r="1.05"/><circle cx="143.62" cy="137.41" r="1.05"/><circle cx="144.67" cy="135.5" r="1.05"/><circle cx="145.72" cy="132.01" r="1.05"/><circle cx="146.77" cy="130.1" r="1.05"/><circle cx="147.82" cy="126.65" r="1.05"/><circle cx="148.87" cy="125.21" r="1.05"/><circle cx="149.92" cy="127.12" r="1.05"/><circle cx="150.97" cy="128.32" r="1.05"/><circle cx="152.67" cy="132.54" r="1.05"/><circle cx="154.37" cy="138.1" r="1.05"/><circle cx="156.07" cy="143.28" r="1.05"/><circle cx="157.77" cy="138.53" r="1.05"/><circle cx="159.47" cy="135.32" r="1.05"/><circle cx="161.17" cy="133.25" r="1.05"/><circle cx="162.87" cy="134.64" r="1.05"/><circle cx="164.57" cy="139.14" r="1.05"/><circle cx="166.27" cy="143.62" r="1.05"/><circle cx="167.97" cy="147.7" r="1.05"/><circle cx="169.67" cy="147.73" r="1.05"/><circle cx="171.37" cy="143.84" r="1.05"/><circle cx="173.07" cy="141.88" r="1.05"/><circle cx="174.77" cy="142.22" r="1.05"/><circle cx="176.47" cy="144.48" r="1.05"/><circle cx="178.17" cy="146.91" r="1.05"/><circle cx="179.87" cy="150.47" r="1.05"/><circle cx="181.57" cy="151.56" r="1.05"/><circle cx="183.27" cy="150.01" r="1.05"/><circle cx="184.97" cy="149.53" r="1.05"/><circle cx="186.67" cy="148.27" r="1.05"/><circle cx="188.37" cy="148.64" r="1.05"/><circle cx="190.07" cy="151.97" r="1.05"/><circle cx="191.77" cy="154.96" r="1.05"/><circle cx="193.47" cy="155.29" r="1.05"/><circle cx="195.17" cy="154.15" r="1.05"/><circle cx="196.87" cy="152.57" r="1.05"/><circle cx="198.57" cy="152.13" r="1.05"/></g>
<g fill="#333340"><circle cx="200.27" cy="152.76" r="0.75"/><circle cx="201.6" cy="153.43" r="0.75"/><circle cx="204.6" cy="159.67" r="0.75"/><circle cx="207.6" cy="159.83" r="0.75"/><circle cx="210.6" cy="158.45" r="0.75"/><circle cx="213.6" cy="160.65" r="0.75"/><circle cx="216.6" cy="163.4" r="0.75"/><circle cx="219.6" cy="162.67" r="0.75"/><circle cx="222.6" cy="162.32" r="0.75"/><circle cx="225.6" cy="164.62" r="0.75"/><circle cx="228.6" cy="166.43" r="0.75"/><circle cx="231.6" cy="166.73" r="0.75"/><circle cx="234.6" cy="165.8" r="0.75"/><circle cx="237.6" cy="168.97" r="0.75"/><circle cx="240.6" cy="170.51" r="0.75"/><circle cx="243.6" cy="169.94" r="0.75"/><circle cx="246.6" cy="169.45" r="0.75"/><circle cx="249.6" cy="173.1" r="0.75"/><circle cx="252.6" cy="175.99" r="0.75"/><circle cx="255.6" cy="174.83" r="0.75"/><circle cx="258.6" cy="175.38" r="0.75"/><circle cx="261.6" cy="176.67" r="0.75"/><circle cx="264.6" cy="179.13" r="0.75"/><circle cx="267.6" cy="178.21" r="0.75"/><circle cx="270.6" cy="180.1" r="0.75"/><circle cx="273.6" cy="180.35" r="0.75"/><circle cx="276.6" cy="182.74" r="0.75"/><circle cx="279.6" cy="182.43" r="0.75"/><circle cx="282.6" cy="182.67" r="0.75"/><circle cx="285.6" cy="182.82" r="0.75"/><circle cx="288.6" cy="184.71" r="0.75"/><circle cx="291.6" cy="185.24" r="0.75"/><circle cx="294.6" cy="186.18" r="0.75"/><circle cx="297.6" cy="186.8" r="0.75"/><circle cx="300.5" cy="188.2" r="0.75"/><circle cx="304" cy="189.5" r="0.75"/><circle cx="307.3" cy="191" r="0.75"/><circle cx="310.6" cy="191.5" r="0.75"/><circle cx="313.8" cy="189.6" r="0.75"/><circle cx="317.5" cy="185.7" r="0.75"/><circle cx="320.9" cy="187" r="0.75"/><circle cx="323.6" cy="190.4" r="0.75"/><circle cx="326.6" cy="195.1" r="0.75"/></g>
<path d="M57.6,8.02V9.42M56,8.02H59.2M56,9.42H59.2M58.9,8.19V9.59M57.3,8.19H60.5M57.3,9.59H60.5M60.2,8.4V9.8M58.6,8.4H61.8M58.6,9.8H61.8M61.5,8.63V10.03M59.9,8.63H63.1M59.9,10.03H63.1M62.8,8.82V10.22M61.2,8.82H64.4M61.2,10.22H64.4M64.1,8.9V10.3M62.5,8.9H65.7M62.5,10.3H65.7M65.4,9.03V10.43M63.8,9.03H67M63.8,10.43H67M66.7,9.25V10.65M65.1,9.25H68.3M65.1,10.65H68.3M68,9.5V10.9M66.4,9.5H69.6M66.4,10.9H69.6M69.3,9.7V11.1M67.7,9.7H70.9M67.7,11.1H70.9M70.6,9.8V11.2M69,9.8H72.2M69,11.2H72.2M71.9,10.55V11.95M70.3,10.55H73.5M70.3,11.95H73.5M73.2,11.48V12.88M71.6,11.48H74.8M71.6,12.88H74.8M73.7,15.3V16.7M72.1,15.3H75.3M72.1,16.7H75.3M74,23.3V24.7M72.4,23.3H75.6M72.4,24.7H75.6M74.3,34.5V35.9M72.7,34.5H75.9M72.7,35.9H75.9M74.7,44.19V45.59M73.1,44.19H76.3M73.1,45.59H76.3M75.45,44.14V45.54M73.85,44.14H77.05M73.85,45.54H77.05M76.2,42.5V45.1M74.6,42.5H77.8M74.6,45.1H77.8M76.95,42.67V45.27M75.35,42.67H78.55M75.35,45.27H78.55M77.7,43.69V46.29M76.1,43.69H79.3M76.1,46.29H79.3M78.45,42.84V45.44M76.85,42.84H80.05M76.85,45.44H80.05M79.2,46.36V48.96M77.6,46.36H80.8M77.6,48.96H80.8M79.95,49.67V52.27M78.35,49.67H81.55M78.35,52.27H81.55M80.7,56.39V58.99M79.1,56.39H82.3M79.1,58.99H82.3M81.45,61.86V64.46M79.85,61.86H83.05M79.85,64.46H83.05M82.2,68.66V71.26M80.6,68.66H83.8M80.6,71.26H83.8M82.95,74.31V76.91M81.35,74.31H84.55M81.35,76.91H84.55M83.7,81.13V83.73M82.1,81.13H85.3M82.1,83.73H85.3M84.45,86.52V89.12M82.85,86.52H86.05M82.85,89.12H86.05M85.2,86.91V89.51M83.6,86.91H86.8M83.6,89.51H86.8M85.95,82.78V85.38M84.35,82.78H87.55M84.35,85.38H87.55M86.7,77.5V80.1M85.1,77.5H88.3M85.1,80.1H88.3M87.45,73.84V76.44M85.85,73.84H89.05M85.85,76.44H89.05M88.2,71.06V73.66M86.6,71.06H89.8M86.6,73.66H89.8M88.95,68.55V71.15M87.35,68.55H90.55M87.35,71.15H90.55M89.7,67.23V69.83M88.1,67.23H91.3M88.1,69.83H91.3M90.45,68.58V71.18M88.85,68.58H92.05M88.85,71.18H92.05M91.2,69.5V72.1M89.6,69.5H92.8M89.6,72.1H92.8M91.95,72.62V75.22M90.35,72.62H93.55M90.35,75.22H93.55M92.7,77.82V80.42M91.1,77.82H94.3M91.1,80.42H94.3M93.45,83.64V86.24M91.85,83.64H95.05M91.85,86.24H95.05M94.2,90.8V93.4M92.6,90.8H95.8M92.6,93.4H95.8M94.95,98.34V100.94M93.35,98.34H96.55M93.35,100.94H96.55M95.7,105.13V107.73M94.1,105.13H97.3M94.1,107.73H97.3M96.45,101.19V103.79M94.85,101.19H98.05M94.85,103.79H98.05M97.2,96.53V99.13M95.6,96.53H98.8M95.6,99.13H98.8M97.95,92.37V94.97M96.35,92.37H99.55M96.35,94.97H99.55M98.7,89.33V91.93M97.1,89.33H100.3M97.1,91.93H100.3M99.45,85.58V88.18M97.85,85.58H101.05M97.85,88.18H101.05M100.2,83.81V86.41M98.6,83.81H101.8M98.6,86.41H101.8M100.95,84.74V87.34M99.35,84.74H102.55M99.35,87.34H102.55M101.7,83.68V86.28M100.1,83.68H103.3M100.1,86.28H103.3M102.45,85.9V88.5M100.85,85.9H104.05M100.85,88.5H104.05M103.2,88.98V91.58M101.6,88.98H104.8M101.6,91.58H104.8M103.95,93.22V95.82M102.35,93.22H105.55M102.35,95.82H105.55M104.7,96.01V98.61M103.1,96.01H106.3M103.1,98.61H106.3M105.45,100.2V102.8M103.85,100.2H107.05M103.85,102.8H107.05M106.2,106.88V109.48M104.6,106.88H107.8M104.6,109.48H107.8M106.95,111.61V114.21M105.35,111.61H108.55M105.35,114.21H108.55M107.7,114.8V117.4M106.1,114.8H109.3M106.1,117.4H109.3M108.45,111.48V114.08M106.85,111.48H110.05M106.85,114.08H110.05M109.2,106.83V109.43M107.6,106.83H110.8M107.6,109.43H110.8M109.95,102.87V105.47M108.35,102.87H111.55M108.35,105.47H111.55M110.7,99.48V102.08M109.1,99.48H112.3M109.1,102.08H112.3M111.75,97.87V100.47M110.15,97.87H113.35M110.15,100.47H113.35M112.8,97.78V100.38M111.2,97.78H114.4M111.2,100.38H114.4M113.85,98.62V101.22M112.25,98.62H115.45M112.25,101.22H115.45M114.9,102.21V104.81M113.3,102.21H116.5M113.3,104.81H116.5M115.95,107.17V109.77M114.35,107.17H117.55M114.35,109.77H117.55M117,112.45V115.05M115.4,112.45H118.6M115.4,115.05H118.6M118.05,117.78V120.38M116.45,117.78H119.65M116.45,120.38H119.65M119.1,123.56V126.16M117.5,123.56H120.7M117.5,126.16H120.7M120.15,121.27V123.87M118.55,121.27H121.75M118.55,123.87H121.75M121.2,115.94V118.54M119.6,115.94H122.8M119.6,118.54H122.8M122.25,111.89V114.49M120.65,111.89H123.85M120.65,114.49H123.85M123.3,109.48V112.08M121.7,109.48H124.9M121.7,112.08H124.9M124.35,108.25V110.85M122.75,108.25H125.95M122.75,110.85H125.95M125.4,108.87V111.47M123.8,108.87H127M123.8,111.47H127M126.45,109.68V112.28M124.85,109.68H128.05M124.85,112.28H128.05M127.5,113.92V116.52M125.9,113.92H129.1M125.9,116.52H129.1M128.55,116.6V119.2M126.95,116.6H130.15M126.95,119.2H130.15M129.6,120.14V122.74M128,120.14H131.2M128,122.74H131.2M130.65,126.47V129.07M129.05,126.47H132.25M129.05,129.07H132.25M131.7,129.51V132.11M130.1,129.51H133.3M130.1,132.11H133.3M132.75,126.69V129.29M131.15,126.69H134.35M131.15,129.29H134.35M133.8,123.59V126.19M132.2,123.59H135.4M132.2,126.19H135.4M134.85,121.17V123.77M133.25,121.17H136.45M133.25,123.77H136.45M135.9,118.02V120.62M134.3,118.02H137.5M134.3,120.62H137.5M136.95,117.87V120.47M135.35,117.87H138.55M135.35,120.47H138.55M138,118.79V121.39M136.4,118.79H139.6M136.4,121.39H139.6M139.05,119.18V121.78M137.45,119.18H140.65M137.45,121.78H140.65M140.1,122.22V124.82M138.5,122.22H141.7M138.5,124.82H141.7M141.15,127.52V130.12M139.55,127.52H142.75M139.55,130.12H142.75M142.2,130.8V133.4M140.6,130.8H143.8M140.6,133.4H143.8M143.25,135.28V137.88M141.65,135.28H144.85M141.65,137.88H144.85M144.3,134.39V136.99M142.7,134.39H145.9M142.7,136.99H145.9M145.35,131.57V134.17M143.75,131.57H146.95M143.75,134.17H146.95M146.4,128.61V131.21M144.8,128.61H148M144.8,131.21H148M147.45,126.08V128.68M145.85,126.08H149.05M145.85,128.68H149.05M148.5,127.44V130.04M146.9,127.44H150.1M146.9,130.04H150.1M149.55,126.96V129.56M147.95,126.96H151.15M147.95,129.56H151.15M150.6,128.21V130.81M149,128.21H152.2M149,130.81H152.2M152.3,131.75V134.35M150.7,131.75H153.9M150.7,134.35H153.9M154,136.02V138.62M152.4,136.02H155.6M152.4,138.62H155.6M155.7,140.79V143.39M154.1,140.79H157.3M154.1,143.39H157.3M157.4,136.63V139.23M155.8,136.63H159M155.8,139.23H159M159.1,135.03V137.63M157.5,135.03H160.7M157.5,137.63H160.7M160.8,132.59V135.19M159.2,132.59H162.4M159.2,135.19H162.4M162.5,134.14V136.74M160.9,134.14H164.1M160.9,136.74H164.1M164.2,137.35V139.95M162.6,137.35H165.8M162.6,139.95H165.8M165.9,142.39V144.99M164.3,142.39H167.5M164.3,144.99H167.5M167.6,146.69V149.29M166,146.69H169.2M166,149.29H169.2M169.3,145.44V148.04M167.7,145.44H170.9M167.7,148.04H170.9M171,142.04V144.64M169.4,142.04H172.6M169.4,144.64H172.6M172.7,140.07V142.67M171.1,140.07H174.3M171.1,142.67H174.3M174.4,142.13V144.73M172.8,142.13H176M172.8,144.73H176M176.1,143.68V146.28M174.5,143.68H177.7M174.5,146.28H177.7M177.8,146.83V149.43M176.2,146.83H179.4M176.2,149.43H179.4M179.5,149.57V152.17M177.9,149.57H181.1M177.9,152.17H181.1M181.2,150.5V153.1M179.6,150.5H182.8M179.6,153.1H182.8M182.9,149.37V151.97M181.3,149.37H184.5M181.3,151.97H184.5M184.6,147.48V150.08M183,147.48H186.2M183,150.08H186.2M186.3,147.26V149.86M184.7,147.26H187.9M184.7,149.86H187.9M188,148.06V150.66M186.4,148.06H189.6M186.4,150.66H189.6M189.7,150.8V153.4M188.1,150.8H191.3M188.1,153.4H191.3M191.4,154.55V157.15M189.8,154.55H193M189.8,157.15H193M193.1,154V156.6M191.5,154H194.7M191.5,156.6H194.7M194.8,153.08V155.68M193.2,153.08H196.4M193.2,155.68H196.4M196.5,151.87V154.47M194.9,151.87H198.1M194.9,154.47H198.1M198.2,151.55V154.15M196.6,151.55H199.8M196.6,154.15H199.8M199.9,151.84V154.44M198.3,151.84H201.5M198.3,154.44H201.5M201.6,154.03V158.03M200,154.03H203.2M200,158.03H203.2M204.6,156.09V160.09M203,156.09H206.2M203,160.09H206.2M207.6,157.29V161.29M206,157.29H209.2M206,161.29H209.2M210.6,156.97V160.97M209,156.97H212.2M209,160.97H212.2M213.6,161.67V165.67M212,161.67H215.2M212,165.67H215.2M216.6,164.07V168.07M215,164.07H218.2M215,168.07H218.2M219.6,164.44V168.44M218,164.44H221.2M218,168.44H221.2M222.6,164.71V168.71M221,164.71H224.2M221,168.71H224.2M225.6,164.51V168.51M224,164.51H227.2M224,168.51H227.2M228.6,168.04V172.04M227,168.04H230.2M227,172.04H230.2M231.6,169.12V173.12M230,169.12H233.2M230,173.12H233.2M234.6,167.04V171.04M233,167.04H236.2M233,171.04H236.2M237.6,169.8V173.8M236,169.8H239.2M236,173.8H239.2M240.6,170.11V174.11M239,170.11H242.2M239,174.11H242.2M243.6,168.99V172.99M242,168.99H245.2M242,172.99H245.2M246.6,171.4V175.4M245,171.4H248.2M245,175.4H248.2M249.6,172.11V176.11M248,172.11H251.2M248,176.11H251.2M252.6,175.03V179.03M251,175.03H254.2M251,179.03H254.2M255.6,174.81V178.81M254,174.81H257.2M254,178.81H257.2M258.6,176.08V180.08M257,176.08H260.2M257,180.08H260.2M261.6,174.68V178.68M260,174.68H263.2M260,178.68H263.2M264.6,180.74V184.74M263,180.74H266.2M263,184.74H266.2M267.6,180.34V184.34M266,180.34H269.2M266,184.34H269.2M270.6,177.68V184.08M269,177.68H272.2M269,184.08H272.2M273.6,178.3V184.7M272,178.3H275.2M272,184.7H275.2M276.6,180.65V187.05M275,180.65H278.2M275,187.05H278.2M279,179.3V185.7M277.4,179.3H280.6M277.4,185.7H280.6M282.8,178.3V184.7M281.2,178.3H284.4M281.2,184.7H284.4M286.3,178.6V185M284.7,178.6H287.9M284.7,185H287.9M289,180.3V186.7M287.4,180.3H290.6M287.4,186.7H290.6M291.8,181.7V188.1M290.2,181.7H293.4M290.2,188.1H293.4M295.7,182.5V188.9M294.1,182.5H297.3M294.1,188.9H297.3M299.5,185.3V191.7M297.9,185.3H301.1M297.9,191.7H301.1M302.7,189.8V196.2M301.1,189.8H304.3M301.1,196.2H304.3M305.9,195.6V202M304.3,195.6H307.5M304.3,202H307.5M309.5,192.8V199.2M307.9,192.8H311.1M307.9,199.2H311.1M313.8,198V204.4M312.2,198H315.4M312.2,204.4H315.4M318.2,201.3V207.7M316.6,201.3H319.8M316.6,207.7H319.8M322.4,197V203.4M320.8,197H324M320.8,203.4H324M327,196.8V203.2M325.4,196.8H328.6M325.4,203.2H328.6" stroke="#ff3838" stroke-width="0.7" fill="none"/>
<path d="M57.6,8.72 L58.9,8.89 L60.2,9.1 L61.5,9.33 L62.8,9.52 L64.1,9.6 L65.4,9.73 L66.7,9.95 L68,10.2 L69.3,10.4 L70.6,10.5 L71.9,11.25 L73.2,12.18 L73.7,16 L74,24 L74.3,35.2 L74.7,44.89 L75.45,44.84 L76.2,43.8 L76.95,43.97 L77.7,44.99 L78.45,44.14 L79.2,47.66 L79.95,50.97 L80.7,57.69 L81.45,63.16 L82.2,69.96 L82.95,75.61 L83.7,82.43 L84.45,87.82 L85.2,88.21 L85.95,84.08 L86.7,78.8 L87.45,75.14 L88.2,72.36 L88.95,69.85 L89.7,68.53 L90.45,69.88 L91.2,70.8 L91.95,73.92 L92.7,79.12 L93.45,84.94 L94.2,92.1 L94.95,99.64 L95.7,106.43 L96.45,102.49 L97.2,97.83 L97.95,93.67 L98.7,90.63 L99.45,86.88 L100.2,85.11 L100.95,86.04 L101.7,84.98 L102.45,87.2 L103.2,90.28 L103.95,94.52 L104.7,97.31 L105.45,101.5 L106.2,108.18 L106.95,112.91 L107.7,116.1 L108.45,112.78 L109.2,108.13 L109.95,104.17 L110.7,100.78 L111.75,99.17 L112.8,99.08 L113.85,99.92 L114.9,103.51 L115.95,108.47 L117,113.75 L118.05,119.08 L119.1,124.86 L120.15,122.57 L121.2,117.24 L122.25,113.19 L123.3,110.78 L124.35,109.55 L125.4,110.17 L126.45,110.98 L127.5,115.22 L128.55,117.9 L129.6,121.44 L130.65,127.77 L131.7,130.81 L132.75,127.99 L133.8,124.89 L134.85,122.47 L135.9,119.32 L136.95,119.17 L138,120.09 L139.05,120.48 L140.1,123.52 L141.15,128.82 L142.2,132.1 L143.25,136.58 L144.3,135.69 L145.35,132.87 L146.4,129.91 L147.45,127.38 L148.5,128.74 L149.55,128.26 L150.6,129.51 L152.3,133.05 L154,137.32 L155.7,142.09 L157.4,137.93 L159.1,136.33 L160.8,133.89 L162.5,135.44 L164.2,138.65 L165.9,143.69 L167.6,147.99 L169.3,146.74 L171,143.34 L172.7,141.37 L174.4,143.43 L176.1,144.98 L177.8,148.13 L179.5,150.87 L181.2,151.8 L182.9,150.67 L184.6,148.78 L186.3,148.56 L188,149.36 L189.7,152.1 L191.4,155.85 L193.1,155.3 L194.8,154.38 L196.5,153.17 L198.2,152.85 L199.9,153.14 L201.6,156.03 L204.6,158.09 L207.6,159.29 L210.6,158.97 L213.6,163.67 L216.6,166.07 L219.6,166.44 L222.6,166.71 L225.6,166.51 L228.6,170.04 L231.6,171.12 L234.6,169.04 L237.6,171.8 L240.6,172.11 L243.6,170.99 L246.6,173.4 L249.6,174.11 L252.6,177.03 L255.6,176.81 L258.6,178.08 L261.6,176.68 L264.6,182.74 L267.6,182.34 L270.6,180.88 L273.6,181.5 L276.6,183.85 L279,182.5 L282.8,181.5 L286.3,181.8 L289,183.5 L291.8,184.9 L295.7,185.7 L299.5,188.5 L302.7,193 L305.9,198.8 L309.5,196 L313.8,201.2 L318.2,204.5 L322.4,200.2 L327,200" fill="none" stroke="#ff5a5a" stroke-width="0.5" stroke-linejoin="round" />
<g fill="#ff1010"><circle cx="57.6" cy="8.72" r="1.05"/><circle cx="58.9" cy="8.89" r="1.05"/><circle cx="60.2" cy="9.1" r="1.05"/><circle cx="61.5" cy="9.33" r="1.05"/><circle cx="62.8" cy="9.52" r="1.05"/><circle cx="64.1" cy="9.6" r="1.05"/><circle cx="65.4" cy="9.73" r="1.05"/><circle cx="66.7" cy="9.95" r="1.05"/><circle cx="68" cy="10.2" r="1.05"/><circle cx="69.3" cy="10.4" r="1.05"/><circle cx="70.6" cy="10.5" r="1.05"/><circle cx="71.9" cy="11.25" r="1.05"/><circle cx="73.2" cy="12.18" r="1.05"/><circle cx="73.7" cy="16" r="1.05"/><circle cx="74" cy="24" r="1.05"/><circle cx="74.3" cy="35.2" r="1.05"/><circle cx="74.7" cy="44.89" r="1.05"/><circle cx="75.45" cy="44.84" r="1.05"/><circle cx="76.2" cy="43.8" r="1.05"/><circle cx="76.95" cy="43.97" r="1.05"/><circle cx="77.7" cy="44.99" r="1.05"/><circle cx="78.45" cy="44.14" r="1.05"/><circle cx="79.2" cy="47.66" r="1.05"/><circle cx="79.95" cy="50.97" r="1.05"/><circle cx="80.7" cy="57.69" r="1.05"/><circle cx="81.45" cy="63.16" r="1.05"/><circle cx="82.2" cy="69.96" r="1.05"/><circle cx="82.95" cy="75.61" r="1.05"/><circle cx="83.7" cy="82.43" r="1.05"/><circle cx="84.45" cy="87.82" r="1.05"/><circle cx="85.2" cy="88.21" r="1.05"/><circle cx="85.95" cy="84.08" r="1.05"/><circle cx="86.7" cy="78.8" r="1.05"/><circle cx="87.45" cy="75.14" r="1.05"/><circle cx="88.2" cy="72.36" r="1.05"/><circle cx="88.95" cy="69.85" r="1.05"/><circle cx="89.7" cy="68.53" r="1.05"/><circle cx="90.45" cy="69.88" r="1.05"/><circle cx="91.2" cy="70.8" r="1.05"/><circle cx="91.95" cy="73.92" r="1.05"/><circle cx="92.7" cy="79.12" r="1.05"/><circle cx="93.45" cy="84.94" r="1.05"/><circle cx="94.2" cy="92.1" r="1.05"/><circle cx="94.95" cy="99.64" r="1.05"/><circle cx="95.7" cy="106.43" r="1.05"/><circle cx="96.45" cy="102.49" r="1.05"/><circle cx="97.2" cy="97.83" r="1.05"/><circle cx="97.95" cy="93.67" r="1.05"/><circle cx="98.7" cy="90.63" r="1.05"/><circle cx="99.45" cy="86.88" r="1.05"/><circle cx="100.2" cy="85.11" r="1.05"/><circle cx="100.95" cy="86.04" r="1.05"/><circle cx="101.7" cy="84.98" r="1.05"/><circle cx="102.45" cy="87.2" r="1.05"/><circle cx="103.2" cy="90.28" r="1.05"/><circle cx="103.95" cy="94.52" r="1.05"/><circle cx="104.7" cy="97.31" r="1.05"/><circle cx="105.45" cy="101.5" r="1.05"/><circle cx="106.2" cy="108.18" r="1.05"/><circle cx="106.95" cy="112.91" r="1.05"/><circle cx="107.7" cy="116.1" r="1.05"/><circle cx="108.45" cy="112.78" r="1.05"/><circle cx="109.2" cy="108.13" r="1.05"/><circle cx="109.95" cy="104.17" r="1.05"/><circle cx="110.7" cy="100.78" r="1.05"/><circle cx="111.75" cy="99.17" r="1.05"/><circle cx="112.8" cy="99.08" r="1.05"/><circle cx="113.85" cy="99.92" r="1.05"/><circle cx="114.9" cy="103.51" r="1.05"/><circle cx="115.95" cy="108.47" r="1.05"/><circle cx="117" cy="113.75" r="1.05"/><circle cx="118.05" cy="119.08" r="1.05"/><circle cx="119.1" cy="124.86" r="1.05"/><circle cx="120.15" cy="122.57" r="1.05"/><circle cx="121.2" cy="117.24" r="1.05"/><circle cx="122.25" cy="113.19" r="1.05"/><circle cx="123.3" cy="110.78" r="1.05"/><circle cx="124.35" cy="109.55" r="1.05"/><circle cx="125.4" cy="110.17" r="1.05"/><circle cx="126.45" cy="110.98" r="1.05"/><circle cx="127.5" cy="115.22" r="1.05"/><circle cx="128.55" cy="117.9" r="1.05"/><circle cx="129.6" cy="121.44" r="1.05"/><circle cx="130.65" cy="127.77" r="1.05"/><circle cx="131.7" cy="130.81" r="1.05"/><circle cx="132.75" cy="127.99" r="1.05"/><circle cx="133.8" cy="124.89" r="1.05"/><circle cx="134.85" cy="122.47" r="1.05"/><circle cx="135.9" cy="119.32" r="1.05"/><circle cx="136.95" cy="119.17" r="1.05"/><circle cx="138" cy="120.09" r="1.05"/><circle cx="139.05" cy="120.48" r="1.05"/><circle cx="140.1" cy="123.52" r="1.05"/><circle cx="141.15" cy="128.82" r="1.05"/><circle cx="142.2" cy="132.1" r="1.05"/><circle cx="143.25" cy="136.58" r="1.05"/><circle cx="144.3" cy="135.69" r="1.05"/><circle cx="145.35" cy="132.87" r="1.05"/><circle cx="146.4" cy="129.91" r="1.05"/><circle cx="147.45" cy="127.38" r="1.05"/><circle cx="148.5" cy="128.74" r="1.05"/><circle cx="149.55" cy="128.26" r="1.05"/><circle cx="150.6" cy="129.51" r="1.05"/><circle cx="152.3" cy="133.05" r="1.05"/><circle cx="154" cy="137.32" r="1.05"/><circle cx="155.7" cy="142.09" r="1.05"/><circle cx="157.4" cy="137.93" r="1.05"/><circle cx="159.1" cy="136.33" r="1.05"/><circle cx="160.8" cy="133.89" r="1.05"/><circle cx="162.5" cy="135.44" r="1.05"/><circle cx="164.2" cy="138.65" r="1.05"/><circle cx="165.9" cy="143.69" r="1.05"/><circle cx="167.6" cy="147.99" r="1.05"/><circle cx="169.3" cy="146.74" r="1.05"/><circle cx="171" cy="143.34" r="1.05"/><circle cx="172.7" cy="141.37" r="1.05"/><circle cx="174.4" cy="143.43" r="1.05"/><circle cx="176.1" cy="144.98" r="1.05"/><circle cx="177.8" cy="148.13" r="1.05"/><circle cx="179.5" cy="150.87" r="1.05"/><circle cx="181.2" cy="151.8" r="1.05"/><circle cx="182.9" cy="150.67" r="1.05"/><circle cx="184.6" cy="148.78" r="1.05"/><circle cx="186.3" cy="148.56" r="1.05"/><circle cx="188" cy="149.36" r="1.05"/><circle cx="189.7" cy="152.1" r="1.05"/><circle cx="191.4" cy="155.85" r="1.05"/><circle cx="193.1" cy="155.3" r="1.05"/><circle cx="194.8" cy="154.38" r="1.05"/><circle cx="196.5" cy="153.17" r="1.05"/><circle cx="198.2" cy="152.85" r="1.05"/><circle cx="199.9" cy="153.14" r="1.05"/><circle cx="201.6" cy="156.03" r="1.05"/><circle cx="204.6" cy="158.09" r="1.05"/><circle cx="207.6" cy="159.29" r="1.05"/><circle cx="210.6" cy="158.97" r="1.05"/><circle cx="213.6" cy="163.67" r="1.05"/><circle cx="216.6" cy="166.07" r="1.05"/><circle cx="219.6" cy="166.44" r="1.05"/><circle cx="222.6" cy="166.71" r="1.05"/><circle cx="225.6" cy="166.51" r="1.05"/><circle cx="228.6" cy="170.04" r="1.05"/><circle cx="231.6" cy="171.12" r="1.05"/><circle cx="234.6" cy="169.04" r="1.05"/><circle cx="237.6" cy="171.8" r="1.05"/><circle cx="240.6" cy="172.11" r="1.05"/><circle cx="243.6" cy="170.99" r="1.05"/><circle cx="246.6" cy="173.4" r="1.05"/><circle cx="249.6" cy="174.11" r="1.05"/><circle cx="252.6" cy="177.03" r="1.05"/><circle cx="255.6" cy="176.81" r="1.05"/><circle cx="258.6" cy="178.08" r="1.05"/><circle cx="261.6" cy="176.68" r="1.05"/><circle cx="264.6" cy="182.74" r="1.05"/><circle cx="267.6" cy="182.34" r="1.05"/><circle cx="270.6" cy="180.88" r="1.05"/><circle cx="273.6" cy="181.5" r="1.05"/><circle cx="276.6" cy="183.85" r="1.05"/><circle cx="279" cy="182.5" r="1.05"/><circle cx="282.8" cy="181.5" r="1.05"/><circle cx="286.3" cy="181.8" r="1.05"/><circle cx="289" cy="183.5" r="1.05"/><circle cx="291.8" cy="184.9" r="1.05"/><circle cx="295.7" cy="185.7" r="1.05"/><circle cx="299.5" cy="188.5" r="1.05"/><circle cx="302.7" cy="193" r="1.05"/><circle cx="305.9" cy="198.8" r="1.05"/><circle cx="309.5" cy="196" r="1.05"/><circle cx="313.8" cy="201.2" r="1.05"/><circle cx="318.2" cy="204.5" r="1.05"/><circle cx="322.4" cy="200.2" r="1.05"/><circle cx="327" cy="200" r="1.05"/></g>
<g fill="#1c1c50"><circle cx="76.3" cy="48.6" r="0.95"/><circle cx="77.32" cy="45.17" r="0.95"/><circle cx="78.82" cy="44.57" r="0.95"/><circle cx="80.32" cy="50.51" r="0.95"/><circle cx="81.82" cy="62.62" r="0.95"/><circle cx="83.32" cy="76.89" r="0.95"/><circle cx="84.82" cy="89.89" r="0.95"/><circle cx="86.32" cy="84.62" r="0.95"/><circle cx="87.82" cy="74.64" r="0.95"/><circle cx="89.32" cy="67.63" r="0.95"/><circle cx="90.82" cy="66.82" r="0.95"/><circle cx="92.32" cy="72.55" r="0.95"/><circle cx="93.82" cy="84.35" r="0.95"/><circle cx="95.32" cy="101.42" r="0.95"/><circle cx="96.82" cy="103.68" r="0.95"/><circle cx="98.32" cy="92.48" r="0.95"/><circle cx="99.82" cy="84.88" r="0.95"/><circle cx="101.32" cy="83.87" r="0.95"/><circle cx="102.82" cy="86.3" r="0.95"/><circle cx="104.32" cy="92.5" r="0.95"/><circle cx="105.82" cy="102.98" r="0.95"/><circle cx="107.32" cy="114.41" r="0.95"/><circle cx="108.82" cy="113.34" r="0.95"/><circle cx="110.32" cy="103.67" r="0.95"/><circle cx="112.12" cy="97.76" r="0.95"/><circle cx="114.22" cy="98.08" r="0.95"/><circle cx="116.32" cy="106.65" r="0.95"/><circle cx="118.42" cy="119.18" r="0.95"/><circle cx="120.52" cy="122.64" r="0.95"/><circle cx="122.62" cy="111.86" r="0.95"/><circle cx="124.72" cy="108.08" r="0.95"/><circle cx="126.82" cy="110.59" r="0.95"/><circle cx="128.92" cy="116.87" r="0.95"/><circle cx="131.02" cy="128.08" r="0.95"/><circle cx="133.12" cy="127.4" r="0.95"/><circle cx="135.22" cy="121.35" r="0.95"/><circle cx="137.32" cy="117.52" r="0.95"/><circle cx="139.42" cy="120.78" r="0.95"/><circle cx="141.52" cy="128.27" r="0.95"/><circle cx="143.62" cy="137.41" r="0.95"/><circle cx="145.72" cy="132.01" r="0.95"/><circle cx="147.82" cy="126.65" r="0.95"/><circle cx="149.92" cy="127.12" r="0.95"/><circle cx="152.67" cy="132.54" r="0.95"/><circle cx="156.07" cy="143.28" r="0.95"/><circle cx="159.47" cy="135.32" r="0.95"/><circle cx="162.87" cy="134.64" r="0.95"/><circle cx="166.27" cy="143.62" r="0.95"/><circle cx="169.67" cy="147.73" r="0.95"/><circle cx="173.07" cy="141.88" r="0.95"/><circle cx="176.47" cy="144.48" r="0.95"/><circle cx="179.87" cy="150.47" r="0.95"/><circle cx="183.27" cy="150.01" r="0.95"/><circle cx="186.67" cy="148.27" r="0.95"/><circle cx="190.07" cy="151.97" r="0.95"/><circle cx="193.47" cy="155.29" r="0.95"/><circle cx="196.87" cy="152.57" r="0.95"/></g>
<path d="M57,8.4 L57.3,8.41 L57.62,8.42 L57.94,8.45 L58.27,8.49 L58.6,8.53 L58.94,8.58 L59.28,8.63 L59.63,8.69 L59.98,8.75 L60.33,8.82 L60.67,8.88 L61.02,8.95 L61.37,9.01 L61.72,9.07 L62.06,9.12 L62.4,9.17 L62.73,9.21 L63.06,9.25 L63.38,9.28 L63.7,9.29 L64,9.3 L64.31,9.31 L64.64,9.33 L64.97,9.36 L65.31,9.4 L65.65,9.45 L66,9.51 L66.35,9.58 L66.71,9.64 L67.07,9.71 L67.43,9.79 L67.79,9.86 L68.15,9.92 L68.5,9.99 L68.85,10.05 L69.19,10.1 L69.53,10.14 L69.86,10.17 L70.19,10.19 L70.5,10.2 L70.82,10.28 L71.17,10.48 L71.53,10.72 L71.88,10.92 L72.2,11 L72.51,11.16 L72.85,11.5 L73.19,11.84 L73.5,12 L73.72,17.09 L73.95,28.3 L74.18,39.51 L74.4,44.6 L74.73,44.59 L75.07,44.57 L75.43,44.55 L75.79,44.51 L76.16,44.47 L76.54,44.43 L76.91,44.39 L77.27,44.35 L77.63,44.33 L77.97,44.31 L78.3,44.3 L78.63,44.67 L78.98,45.73 L79.36,47.39 L79.75,49.58 L80.16,52.21 L80.57,55.21 L81,58.49 L81.42,61.97 L81.84,65.58 L82.25,69.22 L82.65,72.83 L83.03,76.31 L83.4,79.59 L83.73,82.59 L84.04,85.22 L84.32,87.41 L84.55,89.07 L84.75,90.13 L84.9,90.5 L85.04,90.21 L85.22,89.38 L85.44,88.11 L85.69,86.47 L85.97,84.54 L86.28,82.4 L86.62,80.15 L86.98,77.85 L87.37,75.6 L87.78,73.46 L88.21,71.53 L88.66,69.89 L89.13,68.62 L89.61,67.79 L90.1,67.5 L90.58,67.89 L91.04,68.99 L91.5,70.71 L91.94,72.96 L92.37,75.64 L92.78,78.65 L93.17,81.89 L93.54,85.28 L93.89,88.72 L94.22,92.11 L94.53,95.35 L94.81,98.36 L95.07,101.04 L95.3,103.29 L95.49,105.01 L95.66,106.11 L95.8,106.5 L95.94,106.21 L96.12,105.41 L96.33,104.16 L96.57,102.55 L96.85,100.67 L97.15,98.58 L97.49,96.37 L97.84,94.13 L98.22,91.92 L98.63,89.83 L99.05,87.95 L99.49,86.34 L99.94,85.09 L100.42,84.29 L100.9,84 L101.39,84.24 L101.86,84.92 L102.33,86 L102.78,87.43 L103.22,89.16 L103.65,91.13 L104.07,93.3 L104.47,95.62 L104.85,98.03 L105.22,100.5 L105.57,102.97 L105.89,105.38 L106.2,107.7 L106.49,109.87 L106.75,111.84 L106.99,113.57 L107.21,115 L107.4,116.08 L107.56,116.76 L107.7,117 L107.85,116.67 L108.04,115.75 L108.28,114.35 L108.55,112.58 L108.86,110.53 L109.2,108.33 L109.57,106.07 L109.97,103.87 L110.39,101.82 L110.84,100.05 L111.31,98.65 L111.8,97.73 L112.3,97.4 L112.78,97.59 L113.24,98.14 L113.7,99 L114.15,100.15 L114.59,101.53 L115.01,103.13 L115.42,104.89 L115.82,106.79 L116.2,108.77 L116.57,110.82 L116.92,112.88 L117.25,114.93 L117.56,116.91 L117.86,118.81 L118.13,120.57 L118.39,122.17 L118.62,123.55 L118.82,124.7 L119.01,125.56 L119.17,126.11 L119.3,126.3 L119.44,126.08 L119.62,125.45 L119.83,124.48 L120.07,123.23 L120.35,121.76 L120.65,120.14 L120.99,118.42 L121.34,116.68 L121.72,114.96 L122.13,113.34 L122.55,111.87 L122.99,110.62 L123.44,109.65 L123.92,109.02 L124.4,108.8 L124.88,108.93 L125.35,109.32 L125.82,109.93 L126.27,110.73 L126.71,111.72 L127.14,112.85 L127.56,114.11 L127.97,115.47 L128.36,116.91 L128.74,118.39 L129.1,119.9 L129.44,121.41 L129.77,122.89 L130.08,124.33 L130.37,125.69 L130.64,126.95 L130.89,128.08 L131.12,129.07 L131.32,129.87 L131.51,130.48 L131.67,130.87 L131.8,131 L131.94,130.83 L132.12,130.36 L132.34,129.63 L132.59,128.68 L132.87,127.58 L133.18,126.35 L133.52,125.06 L133.88,123.74 L134.27,122.45 L134.68,121.22 L135.11,120.12 L135.56,119.17 L136.03,118.44 L136.51,117.97 L137,117.8 L137.48,117.95 L137.95,118.4 L138.41,119.09 L138.86,120.01 L139.3,121.11 L139.72,122.36 L140.12,123.73 L140.51,125.18 L140.88,126.69 L141.24,128.21 L141.57,129.72 L141.89,131.17 L142.18,132.54 L142.44,133.79 L142.69,134.89 L142.91,135.81 L143.1,136.5 L143.26,136.95 L143.4,137.1 L143.54,136.97 L143.72,136.61 L143.94,136.06 L144.19,135.35 L144.47,134.51 L144.78,133.58 L145.12,132.6 L145.48,131.6 L145.87,130.62 L146.28,129.69 L146.71,128.85 L147.16,128.14 L147.63,127.59 L148.11,127.23 L148.6,127.1 L149.08,127.2 L149.56,127.5 L150.02,127.98 L150.48,128.6 L150.92,129.36 L151.35,130.23 L151.77,131.2 L152.17,132.23 L152.56,133.32 L152.93,134.44 L153.28,135.56 L153.62,136.68 L153.94,137.77 L154.24,138.8 L154.52,139.77 L154.77,140.64 L155.01,141.4 L155.22,142.02 L155.4,142.5 L155.56,142.8 L155.7,142.9 L155.85,142.77 L156.03,142.39 L156.26,141.81 L156.52,141.08 L156.81,140.22 L157.13,139.28 L157.49,138.3 L157.87,137.32 L158.27,136.38 L158.7,135.52 L159.15,134.79 L159.62,134.21 L160.1,133.83 L160.6,133.7 L161.08,133.79 L161.55,134.05 L162.02,134.46 L162.47,135 L162.91,135.66 L163.34,136.42 L163.76,137.27 L164.17,138.18 L164.56,139.14 L164.94,140.14 L165.3,141.15 L165.64,142.16 L165.97,143.16 L166.28,144.12 L166.57,145.03 L166.84,145.88 L167.09,146.64 L167.32,147.3 L167.52,147.84 L167.71,148.25 L167.87,148.51 L168,148.6 L168.15,148.51 L168.33,148.25 L168.56,147.86 L168.82,147.35 L169.11,146.76 L169.43,146.12 L169.79,145.45 L170.17,144.78 L170.57,144.14 L171,143.55 L171.45,143.04 L171.92,142.65 L172.4,142.39 L172.9,142.3 L173.38,142.36 L173.85,142.52 L174.31,142.77 L174.76,143.11 L175.21,143.52 L175.64,144 L176.06,144.54 L176.47,145.12 L176.86,145.73 L177.24,146.37 L177.61,147.02 L177.96,147.68 L178.3,148.33 L178.62,148.97 L178.92,149.58 L179.2,150.16 L179.46,150.7 L179.71,151.18 L179.93,151.59 L180.13,151.93 L180.31,152.18 L180.47,152.34 L180.6,152.4 L180.74,152.36 L180.91,152.25 L181.1,152.09 L181.33,151.87 L181.59,151.61 L181.87,151.31 L182.18,151 L182.51,150.67 L182.86,150.33 L183.23,150 L183.62,149.69 L184.03,149.39 L184.46,149.13 L184.9,148.91 L185.36,148.75 L185.82,148.64 L186.3,148.6 L186.78,148.67 L187.24,148.86 L187.7,149.15 L188.14,149.54 L188.57,150 L188.98,150.51 L189.37,151.07 L189.74,151.65 L190.09,152.25 L190.42,152.83 L190.73,153.39 L191.01,153.9 L191.27,154.36 L191.5,154.75 L191.69,155.04 L191.86,155.23 L192,155.3 L192.14,155.28 L192.31,155.21 L192.51,155.1 L192.73,154.96 L192.99,154.79 L193.26,154.59 L193.56,154.38 L193.88,154.15 L194.23,153.92 L194.59,153.68 L194.98,153.45 L195.38,153.22 L195.8,153.01 L196.23,152.81 L196.68,152.64 L197.14,152.5 L197.62,152.39 L198.1,152.32 L198.6,152.3 L199.07,152.37 L199.51,152.55 L199.92,152.84 L200.31,153.23 L200.68,153.7 L201.04,154.22 L201.37,154.79 L201.69,155.39 L202,156.01 L202.31,156.62 L202.6,157.22 L202.88,157.79 L203.17,158.31 L203.45,158.77 L203.73,159.16 L204.01,159.46 L204.3,159.65 L204.6,159.73 L204.91,159.73 L205.22,159.72 L205.54,159.7 L205.88,159.68 L206.21,159.65 L206.56,159.62 L206.9,159.58 L207.25,159.54 L207.6,159.5 L207.95,159.46 L208.3,159.42 L208.64,159.38 L208.99,159.34 L209.32,159.31 L209.66,159.29 L209.98,159.27 L210.29,159.27 L210.6,159.27 L210.91,159.32 L211.22,159.46 L211.54,159.67 L211.88,159.95 L212.21,160.28 L212.56,160.65 L212.9,161.05 L213.25,161.47 L213.6,161.91 L213.95,162.34 L214.3,162.77 L214.64,163.17 L214.99,163.54 L215.32,163.87 L215.66,164.14 L215.98,164.36 L216.29,164.49 L216.6,164.55 L216.91,164.55 L217.22,164.54 L217.54,164.53 L217.88,164.52 L218.21,164.49 L218.56,164.47 L218.9,164.44 L219.25,164.4 L219.6,164.37 L219.95,164.34 L220.3,164.31 L220.64,164.28 L220.99,164.25 L221.32,164.23 L221.66,164.21 L221.98,164.2 L222.29,164.19 L222.6,164.2 L222.91,164.24 L223.22,164.35 L223.54,164.52 L223.88,164.74 L224.21,164.99 L224.56,165.29 L224.9,165.6 L225.25,165.94 L225.6,166.28 L225.95,166.62 L226.3,166.95 L226.64,167.27 L226.99,167.56 L227.32,167.82 L227.66,168.04 L227.98,168.21 L228.29,168.32 L228.6,168.36 L228.91,168.37 L229.22,168.38 L229.54,168.39 L229.88,168.4 L230.21,168.41 L230.56,168.43 L230.9,168.44 L231.25,168.45 L231.6,168.47 L231.95,168.48 L232.3,168.5 L232.64,168.51 L232.99,168.52 L233.32,168.54 L233.66,168.55 L233.98,168.56 L234.29,168.57 L234.6,168.58 L234.91,168.61 L235.22,168.71 L235.54,168.85 L235.88,169.03 L236.21,169.24 L236.56,169.49 L236.9,169.75 L237.25,170.03 L237.6,170.31 L237.95,170.6 L238.3,170.88 L238.64,171.14 L238.99,171.39 L239.32,171.6 L239.66,171.78 L239.98,171.92 L240.29,172.02 L240.6,172.05 L240.91,172.07 L241.22,172.1 L241.54,172.14 L241.88,172.2 L242.21,172.26 L242.56,172.33 L242.9,172.41 L243.25,172.49 L243.6,172.58 L243.95,172.66 L244.3,172.74 L244.64,172.82 L244.99,172.89 L245.32,172.95 L245.66,173.01 L245.98,173.05 L246.29,173.08 L246.6,173.1 L246.91,173.14 L247.22,173.24 L247.54,173.4 L247.88,173.6 L248.21,173.84 L248.56,174.11 L248.9,174.41 L249.25,174.72 L249.6,175.04 L249.95,175.36 L250.3,175.67 L250.64,175.97 L250.99,176.24 L251.32,176.48 L251.66,176.68 L251.98,176.84 L252.29,176.94 L252.6,176.98 L252.91,177 L253.22,177.02 L253.54,177.06 L253.88,177.11 L254.21,177.16 L254.56,177.22 L254.9,177.29 L255.25,177.36 L255.6,177.43 L255.95,177.5 L256.3,177.56 L256.64,177.63 L256.99,177.69 L257.32,177.74 L257.66,177.79 L257.98,177.83 L258.29,177.85 L258.6,177.87 L258.91,177.9 L259.22,177.98 L259.54,178.1 L259.88,178.25 L260.21,178.43 L260.56,178.62 L260.9,178.84 L261.25,179.06 L261.6,179.29 L261.95,179.52 L262.3,179.75 L262.64,179.96 L262.99,180.16 L263.32,180.33 L263.66,180.48 L263.98,180.59 L264.29,180.66 L264.6,180.68 L264.91,180.69 L265.22,180.71 L265.54,180.74 L265.88,180.78 L266.21,180.83 L266.56,180.88 L266.9,180.94 L267.25,181 L267.6,181.06 L267.95,181.12 L268.3,181.19 L268.64,181.24 L268.99,181.3 L269.32,181.35 L269.66,181.39 L269.98,181.42 L270.29,181.43 L270.6,181.44 L270.91,181.46 L271.22,181.53 L271.54,181.64 L271.88,181.77 L272.21,181.94 L272.56,182.13 L272.9,182.33 L273.25,182.54 L273.6,182.76 L273.95,182.98 L274.3,183.19 L274.64,183.4 L274.99,183.58 L275.32,183.75 L275.66,183.88 L275.98,183.99 L276.29,184.06 L276.6,184.08 L276.91,184.09 L277.22,184.11 L277.54,184.15 L277.88,184.19 L278.21,184.25 L278.56,184.31 L278.9,184.38 L279.25,184.45 L279.6,184.53 L279.95,184.6 L280.3,184.67 L280.64,184.74 L280.99,184.81 L281.32,184.86 L281.66,184.91 L281.98,184.95 L282.29,184.97 L282.6,184.98 L282.91,185 L283.22,185.06 L283.54,185.15 L283.88,185.27 L284.21,185.42 L284.56,185.59 L284.9,185.77 L285.25,185.96 L285.6,186.16 L285.95,186.35 L286.3,186.54 L286.64,186.72 L286.99,186.89 L287.32,187.04 L287.66,187.16 L287.98,187.26 L288.29,187.31 L288.6,187.34 L288.91,187.34 L289.22,187.35 L289.54,187.37 L289.88,187.39 L290.21,187.42 L290.56,187.45 L290.9,187.48 L291.25,187.52 L291.6,187.56 L291.95,187.59 L292.3,187.63 L292.64,187.66 L292.99,187.69 L293.32,187.72 L293.66,187.74 L293.98,187.76 L294.29,187.77 L294.6,187.77 L294.91,187.79 L295.22,187.84 L295.54,187.92 L295.88,188.02 L296.21,188.14 L296.56,188.28 L296.9,188.43 L297.25,188.59 L297.6,188.75 L297.95,188.91 L298.3,189.07 L298.64,189.22 L298.99,189.36 L299.32,189.48 L299.66,189.58 L299.98,189.66 L300.29,189.71 L300.6,189.73 L300.91,189.73 L301.22,189.74 L301.54,189.76 L301.88,189.78 L302.21,189.81 L302.56,189.85 L302.9,189.88 L303.25,189.92 L303.6,189.96 L303.95,189.99 L304.3,190.03 L304.64,190.07 L304.99,190.1 L305.32,190.13 L305.66,190.15 L305.98,190.17 L306.29,190.18 L306.6,190.19 L306.91,190.2 L307.22,190.26 L307.54,190.34 L307.88,190.45 L308.21,190.58 L308.56,190.73 L308.9,190.89 L309.25,191.06 L309.6,191.23 L309.95,191.4 L310.3,191.57 L310.64,191.73 L310.99,191.88 L311.32,192.01 L311.66,192.12 L311.98,192.2 L312.29,192.25 L312.6,192.27 L312.91,192.28 L313.22,192.29 L313.54,192.31 L313.88,192.34 L314.21,192.37 L314.56,192.41 L314.9,192.45 L315.25,192.49 L315.6,192.53 L315.95,192.58 L316.3,192.62 L316.64,192.66 L316.99,192.69 L317.32,192.73 L317.66,192.75 L317.98,192.77 L318.29,192.79 L318.6,192.79 L318.91,192.81 L319.22,192.87 L319.54,192.95 L319.88,193.06 L320.21,193.2 L320.56,193.35 L320.9,193.51 L321.25,193.69 L321.6,193.86 L321.95,194.04 L322.3,194.21 L322.64,194.38 L322.99,194.53 L323.32,194.66 L323.66,194.78 L323.98,194.86 L324.29,194.92 L324.6,194.94 L324.91,194.94 L325.22,194.95 L325.54,194.97 L325.88,195 L326.21,195.03 L326.56,195.06 L326.9,195.1 L327.25,195.14 L327.6,195.18 L327.95,195.22 L328.3,195.26" fill="none" stroke="#ff90cc" stroke-width="0.8" stroke-linejoin="round" opacity="0.8"/>
<path d="M76.16,44.47 L76.54,44.43 L76.91,44.39 L77.27,44.35 L77.63,44.33 L77.97,44.31 L78.3,44.3 L78.63,44.67 L78.98,45.73 L79.36,47.39 L79.75,49.58 L80.16,52.21 L80.57,55.21 L81,58.49 L81.42,61.97 L81.84,65.58 L82.25,69.22 L82.65,72.83 L83.03,76.31 L83.4,79.59 L83.73,82.59 L84.04,85.22 L84.32,87.41 L84.55,89.07 L84.75,90.13 L84.9,90.5 L85.04,90.21 L85.22,89.38 L85.44,88.11 L85.69,86.47 L85.97,84.54 L86.28,82.4 L86.62,80.15 L86.98,77.85 L87.37,75.6 L87.78,73.46 L88.21,71.53 L88.66,69.89 L89.13,68.62 L89.61,67.79 L90.1,67.5 L90.58,67.89 L91.04,68.99 L91.5,70.71 L91.94,72.96 L92.37,75.64 L92.78,78.65 L93.17,81.89 L93.54,85.28 L93.89,88.72 L94.22,92.11 L94.53,95.35 L94.81,98.36 L95.07,101.04 L95.3,103.29 L95.49,105.01 L95.66,106.11 L95.8,106.5 L95.94,106.21 L96.12,105.41 L96.33,104.16 L96.57,102.55 L96.85,100.67 L97.15,98.58 L97.49,96.37 L97.84,94.13 L98.22,91.92 L98.63,89.83 L99.05,87.95 L99.49,86.34 L99.94,85.09 L100.42,84.29 L100.9,84 L101.39,84.24 L101.86,84.92 L102.33,86 L102.78,87.43 L103.22,89.16 L103.65,91.13 L104.07,93.3 L104.47,95.62 L104.85,98.03 L105.22,100.5 L105.57,102.97 L105.89,105.38 L106.2,107.7 L106.49,109.87 L106.75,111.84 L106.99,113.57 L107.21,115 L107.4,116.08 L107.56,116.76 L107.7,117 L107.85,116.67 L108.04,115.75 L108.28,114.35 L108.55,112.58 L108.86,110.53 L109.2,108.33 L109.57,106.07 L109.97,103.87 L110.39,101.82 L110.84,100.05 L111.31,98.65 L111.8,97.73 L112.3,97.4 L112.78,97.59 L113.24,98.14 L113.7,99 L114.15,100.15 L114.59,101.53 L115.01,103.13 L115.42,104.89 L115.82,106.79 L116.2,108.77 L116.57,110.82 L116.92,112.88 L117.25,114.93 L117.56,116.91 L117.86,118.81 L118.13,120.57 L118.39,122.17 L118.62,123.55 L118.82,124.7 L119.01,125.56 L119.17,126.11 L119.3,126.3 L119.44,126.08 L119.62,125.45 L119.83,124.48 L120.07,123.23 L120.35,121.76 L120.65,120.14 L120.99,118.42 L121.34,116.68 L121.72,114.96 L122.13,113.34 L122.55,111.87 L122.99,110.62 L123.44,109.65 L123.92,109.02 L124.4,108.8 L124.88,108.93 L125.35,109.32 L125.82,109.93 L126.27,110.73 L126.71,111.72 L127.14,112.85 L127.56,114.11 L127.97,115.47 L128.36,116.91 L128.74,118.39 L129.1,119.9 L129.44,121.41 L129.77,122.89 L130.08,124.33 L130.37,125.69 L130.64,126.95 L130.89,128.08 L131.12,129.07 L131.32,129.87 L131.51,130.48 L131.67,130.87 L131.8,131 L131.94,130.83 L132.12,130.36 L132.34,129.63 L132.59,128.68 L132.87,127.58 L133.18,126.35 L133.52,125.06 L133.88,123.74 L134.27,122.45 L134.68,121.22 L135.11,120.12 L135.56,119.17 L136.03,118.44 L136.51,117.97 L137,117.8 L137.48,117.95 L137.95,118.4 L138.41,119.09 L138.86,120.01 L139.3,121.11 L139.72,122.36 L140.12,123.73 L140.51,125.18 L140.88,126.69 L141.24,128.21 L141.57,129.72 L141.89,131.17 L142.18,132.54 L142.44,133.79 L142.69,134.89 L142.91,135.81 L143.1,136.5 L143.26,136.95 L143.4,137.1 L143.54,136.97 L143.72,136.61 L143.94,136.06 L144.19,135.35 L144.47,134.51 L144.78,133.58 L145.12,132.6 L145.48,131.6 L145.87,130.62 L146.28,129.69 L146.71,128.85 L147.16,128.14 L147.63,127.59 L148.11,127.23 L148.6,127.1 L149.08,127.2 L149.56,127.5 L150.02,127.98 L150.48,128.6 L150.92,129.36 L151.35,130.23 L151.77,131.2 L152.17,132.23 L152.56,133.32 L152.93,134.44 L153.28,135.56 L153.62,136.68 L153.94,137.77 L154.24,138.8 L154.52,139.77 L154.77,140.64 L155.01,141.4 L155.22,142.02 L155.4,142.5 L155.56,142.8 L155.7,142.9 L155.85,142.77 L156.03,142.39 L156.26,141.81 L156.52,141.08 L156.81,140.22 L157.13,139.28 L157.49,138.3 L157.87,137.32 L158.27,136.38 L158.7,135.52 L159.15,134.79 L159.62,134.21 L160.1,133.83 L160.6,133.7 L161.08,133.79 L161.55,134.05 L162.02,134.46 L162.47,135 L162.91,135.66 L163.34,136.42 L163.76,137.27 L164.17,138.18 L164.56,139.14 L164.94,140.14 L165.3,141.15 L165.64,142.16 L165.97,143.16 L166.28,144.12 L166.57,145.03 L166.84,145.88 L167.09,146.64 L167.32,147.3 L167.52,147.84 L167.71,148.25 L167.87,148.51 L168,148.6 L168.15,148.51 L168.33,148.25 L168.56,147.86 L168.82,147.35 L169.11,146.76 L169.43,146.12 L169.79,145.45 L170.17,144.78 L170.57,144.14 L171,143.55 L171.45,143.04 L171.92,142.65 L172.4,142.39 L172.9,142.3 L173.38,142.36 L173.85,142.52 L174.31,142.77 L174.76,143.11 L175.21,143.52 L175.64,144 L176.06,144.54 L176.47,145.12 L176.86,145.73 L177.24,146.37 L177.61,147.02 L177.96,147.68 L178.3,148.33 L178.62,148.97 L178.92,149.58 L179.2,150.16 L179.46,150.7 L179.71,151.18 L179.93,151.59 L180.13,151.93 L180.31,152.18 L180.47,152.34 L180.6,152.4 L180.74,152.36 L180.91,152.25 L181.1,152.09 L181.33,151.87 L181.59,151.61 L181.87,151.31 L182.18,151 L182.51,150.67 L182.86,150.33 L183.23,150 L183.62,149.69 L184.03,149.39 L184.46,149.13 L184.9,148.91 L185.36,148.75 L185.82,148.64 L186.3,148.6 L186.78,148.67 L187.24,148.86 L187.7,149.15 L188.14,149.54 L188.57,150 L188.98,150.51 L189.37,151.07 L189.74,151.65 L190.09,152.25 L190.42,152.83 L190.73,153.39 L191.01,153.9 L191.27,154.36 L191.5,154.75 L191.69,155.04 L191.86,155.23 L192,155.3 L192.14,155.28 L192.31,155.21 L192.51,155.1 L192.73,154.96 L192.99,154.79 L193.26,154.59 L193.56,154.38 L193.88,154.15 L194.23,153.92 L194.59,153.68 L194.98,153.45 L195.38,153.22 L195.8,153.01 L196.23,152.81 L196.68,152.64 L197.14,152.5 L197.62,152.39 L198.1,152.32 L198.6,152.3 L199.07,152.37 L199.51,152.55 L199.92,152.84 L200.31,153.22 L200.68,153.68 L201.04,154.2 L201.37,154.76 L201.69,155.35 L202,155.96 L202.31,156.56 L202.6,157.15 L202.88,157.72 L203.17,158.23 L203.45,158.69 L203.73,159.07 L204.01,159.36 L204.3,159.55 L204.6,159.61 L204.91,159.61 L205.22,159.59 L205.54,159.57 L205.88,159.53 L206.21,159.5 L206.56,159.45 L206.9,159.41 L207.25,159.36 L207.6,159.31 L207.95,159.26 L208.3,159.21 L208.64,159.16 L208.99,159.12 L209.32,159.08 L209.66,159.05 L209.98,159.02 L210.29,159.01 L210.6,159 L210.91,159.05 L211.22,159.18 L211.54,159.38 L211.88,159.65 L212.21,159.97 L212.56,160.33 L212.9,160.73 L213.25,161.14 L213.6,161.57 L213.95,161.99 L214.3,162.41 L214.64,162.8 L214.99,163.16 L215.32,163.48 L215.66,163.75 L215.98,163.96 L216.29,164.09 L216.6,164.13 L216.91,164.13 L217.22,164.11 L217.54,164.09 L217.88,164.07 L218.21,164.04 L218.56,164 L218.9,163.96 L219.25,163.92 L219.6,163.88 L219.95,163.84 L220.3,163.8 L220.64,163.76 L220.99,163.73 L221.32,163.69 L221.66,163.67 L221.98,163.65 L222.29,163.64 L222.6,163.63 L222.91,163.67 L223.22,163.77 L223.54,163.93 L223.88,164.14 L224.21,164.39 L224.56,164.67 L224.9,164.98 L225.25,165.31 L225.6,165.64 L225.95,165.97 L226.3,166.3 L226.64,166.6 L226.99,166.89 L227.32,167.14 L227.66,167.35 L227.98,167.51 L228.29,167.61 L228.6,167.64 L228.91,167.65 L229.22,167.65 L229.54,167.65 L229.88,167.65 L230.21,167.66 L230.56,167.66 L230.9,167.67 L231.25,167.67 L231.6,167.68 L231.95,167.68 L232.3,167.69 L232.64,167.69 L232.99,167.7 L233.32,167.7 L233.66,167.71 L233.98,167.71 L234.29,167.71 L234.6,167.71 L234.91,167.74 L235.22,167.82 L235.54,167.96 L235.88,168.13 L236.21,168.34 L236.56,168.57 L236.9,168.83 L237.25,169.1 L237.6,169.37 L237.95,169.65 L238.3,169.92 L238.64,170.18 L238.99,170.41 L239.32,170.62 L239.66,170.79 L239.98,170.92 L240.29,171.01 L240.6,171.04 L240.91,171.05 L241.22,171.07 L241.54,171.11 L241.88,171.15 L242.21,171.21 L242.56,171.27 L242.9,171.34 L243.25,171.41 L243.6,171.49 L243.95,171.56 L244.3,171.63 L244.64,171.7 L244.99,171.76 L245.32,171.82 L245.66,171.87 L245.98,171.9 L246.29,171.92 L246.6,171.93 L246.91,171.96 L247.22,172.06 L247.54,172.21 L247.88,172.4 L248.21,172.64 L248.56,172.9 L248.9,173.19 L249.25,173.49 L249.6,173.8 L249.95,174.11 L250.3,174.41 L250.64,174.7 L250.99,174.96 L251.32,175.2 L251.66,175.39 L251.98,175.54 L252.29,175.64 L252.6,175.67 L252.91,175.68 L253.22,175.69 L253.54,175.72 L253.88,175.76 L254.21,175.81 L254.56,175.86 L254.9,175.92 L255.25,175.97 L255.6,176.04 L255.95,176.1 L256.3,176.16 L256.64,176.21 L256.99,176.26 L257.32,176.31 L257.66,176.35 L257.98,176.38 L258.29,176.4 L258.6,176.4 L258.91,176.43 L259.22,176.5 L259.54,176.61 L259.88,176.75 L260.21,176.93 L260.56,177.12 L260.9,177.34 L261.25,177.56 L261.6,177.79 L261.95,178.02 L262.3,178.25 L262.64,178.46 L262.99,178.66 L263.32,178.83 L263.66,178.98 L263.98,179.09 L264.29,179.16 L264.6,179.18 L264.91,179.19 L265.22,179.21 L265.54,179.24 L265.88,179.28 L266.21,179.33 L266.56,179.38 L266.9,179.44 L267.25,179.5 L267.6,179.56 L267.95,179.62 L268.3,179.69 L268.64,179.74 L268.99,179.8 L269.32,179.85 L269.66,179.89 L269.98,179.92 L270.29,179.93 L270.6,179.94 L270.91,179.96 L271.22,180.03 L271.54,180.14 L271.88,180.27 L272.21,180.44 L272.56,180.63 L272.9,180.83 L273.25,181.04 L273.6,181.26 L273.95,181.48 L274.3,181.69 L274.64,181.9 L274.99,182.08 L275.32,182.25 L275.66,182.38 L275.98,182.49 L276.29,182.56 L276.6,182.58 L276.91,182.59 L277.22,182.61 L277.54,182.65 L277.88,182.69 L278.21,182.75 L278.56,182.81 L278.9,182.88 L279.25,182.95 L279.6,183.03 L279.95,183.1 L280.3,183.17 L280.64,183.24 L280.99,183.31 L281.32,183.36 L281.66,183.41 L281.98,183.45 L282.29,183.47 L282.6,183.48 L282.91,183.5 L283.22,183.56 L283.54,183.65 L283.88,183.77 L284.21,183.92 L284.56,184.09 L284.9,184.27 L285.25,184.46 L285.6,184.66 L285.95,184.85 L286.3,185.04 L286.64,185.22 L286.99,185.39 L287.32,185.54 L287.66,185.66 L287.98,185.76 L288.29,185.81 L288.6,185.84 L288.91,185.84 L289.22,185.85 L289.54,185.87 L289.88,185.89 L290.21,185.92 L290.56,185.95 L290.9,185.98 L291.25,186.02 L291.6,186.06 L291.95,186.09 L292.3,186.13 L292.64,186.16 L292.99,186.19 L293.32,186.22 L293.66,186.24 L293.98,186.26 L294.29,186.27 L294.6,186.27 L294.91,186.29 L295.22,186.34 L295.54,186.42 L295.88,186.52 L296.21,186.64 L296.56,186.78 L296.9,186.93 L297.25,187.09 L297.6,187.25 L297.95,187.41 L298.3,187.57 L298.64,187.72 L298.99,187.86 L299.32,187.98 L299.66,188.08 L299.98,188.16 L300.29,188.21 L300.6,188.23 L300.91,188.23 L301.22,188.24 L301.54,188.26 L301.88,188.28 L302.21,188.31 L302.56,188.35 L302.9,188.38 L303.25,188.42 L303.6,188.46 L303.95,188.49 L304.3,188.53 L304.64,188.57 L304.99,188.6 L305.32,188.63 L305.66,188.65 L305.98,188.67 L306.29,188.68 L306.6,188.69 L306.91,188.7 L307.22,188.76 L307.54,188.84 L307.88,188.95 L308.21,189.08 L308.56,189.23 L308.9,189.39 L309.25,189.56 L309.6,189.73 L309.95,189.9 L310.3,190.07 L310.64,190.23 L310.99,190.38 L311.32,190.51 L311.66,190.62 L311.98,190.7 L312.29,190.75 L312.6,190.77 L312.91,190.78 L313.22,190.79 L313.54,190.81 L313.88,190.84 L314.21,190.87 L314.56,190.91 L314.9,190.95 L315.25,190.99 L315.6,191.03 L315.95,191.08 L316.3,191.12 L316.64,191.16 L316.99,191.19 L317.32,191.23 L317.66,191.25 L317.98,191.27 L318.29,191.29 L318.6,191.29 L318.91,191.31 L319.22,191.37 L319.54,191.45 L319.88,191.56 L320.21,191.7 L320.56,191.85 L320.9,192.01 L321.25,192.19 L321.6,192.36 L321.95,192.54 L322.3,192.71 L322.64,192.88 L322.99,193.03 L323.32,193.16 L323.66,193.28 L323.98,193.36 L324.29,193.42 L324.6,193.44 L324.91,193.44 L325.22,193.45 L325.54,193.47 L325.88,193.5 L326.21,193.53 L326.56,193.56 L326.9,193.6 L327.25,193.64 L327.6,193.68 L327.95,193.72 L328.3,193.76" fill="none" stroke="#5a5ac8" stroke-width="0.7" stroke-linejoin="round" opacity="0.6"/>
<path d="M56.98,308.08V321.16M55.38,308.08H58.58M55.38,321.16H58.58M57.23,314.33V324.06M55.63,314.33H58.83M55.63,324.06H58.83M57.39,305.52V317.56M55.79,305.52H58.99M55.79,317.56H58.99M57.5,294.69V302.72M55.9,294.69H59.1M55.9,302.72H59.1M57.99,298.19V312.54M56.39,298.19H59.59M56.39,312.54H59.59M57.83,301.5V311.36M56.23,301.5H59.43M56.23,311.36H59.43M58.89,313.42V328.42M57.29,313.42H60.49M57.29,328.42H60.49M58.66,303.67V311.94M57.06,303.67H60.26M57.06,311.94H60.26M59.29,296.38V312M57.69,296.38H60.89M57.69,312H60.89M59.65,303.44V312.68M58.05,303.44H61.25M58.05,312.68H61.25M60.04,314.33V325.95M58.44,314.33H61.64M58.44,325.95H61.64M59.99,314.75V325.49M58.39,314.75H61.59M58.39,325.49H61.59M60.39,301.31V316.24M58.79,301.31H61.99M58.79,316.24H61.99M60.37,302.73V316.97M58.77,302.73H61.97M58.77,316.97H61.97M61.41,315.68V329.71M59.81,315.68H63.01M59.81,329.71H63.01M61.38,298.76V311.4M59.78,298.76H62.98M59.78,311.4H62.98M61.56,306.3V320.92M59.96,306.3H63.16M59.96,320.92H63.16M62.11,305.74V321.13M60.51,305.74H63.71M60.51,321.13H63.71M62.31,296.84V308.45M60.71,296.84H63.91M60.71,308.45H63.91M62.31,303.44V319.4M60.71,303.44H63.91M60.71,319.4H63.91M63.39,303.95V317.69M61.79,303.95H64.99M61.79,317.69H64.99M62.99,302.5V314.46M61.39,302.5H64.59M61.39,314.46H64.59M63.69,293.24V303.02M62.09,293.24H65.29M62.09,303.02H65.29M63.7,298.54V310.99M62.1,298.54H65.3M62.1,310.99H65.3M64.54,304.17V314.95M62.94,304.17H66.14M62.94,314.95H66.14M64.28,305.96V316.74M62.68,305.96H65.88M62.68,316.74H65.88M65.05,302.79V311.31M63.45,302.79H66.65M63.45,311.31H66.65M64.7,303.45V317.67M63.1,303.45H66.3M63.1,317.67H66.3M65.77,296.96V312.15M64.17,296.96H67.37M64.17,312.15H67.37M65.79,294.63V305.89M64.19,294.63H67.39M64.19,305.89H67.39M65.99,307.52V322.59M64.39,307.52H67.59M64.39,322.59H67.59M65.8,300.75V311.76M64.2,300.75H67.4M64.2,311.76H67.4M66.84,305.94V314.5M65.24,305.94H68.44M65.24,314.5H68.44M66.59,298.72V312.91M64.99,298.72H68.19M64.99,312.91H68.19M67.03,303.82V313.89M65.43,303.82H68.63M65.43,313.89H68.63M66.94,300.91V312.27M65.34,300.91H68.54M65.34,312.27H68.54M68.19,304.38V319.57M66.59,304.38H69.79M66.59,319.57H69.79M67.78,302.87V316.84M66.18,302.87H69.38M66.18,316.84H69.38M68.58,301.73V313.94M66.98,301.73H70.18M66.98,313.94H70.18M68.17,315.57V323.79M66.57,315.57H69.77M66.57,323.79H69.77M69.08,304.62V319.67M67.48,304.62H70.68M67.48,319.67H70.68M69.06,295.6V307.01M67.46,295.6H70.66M67.46,307.01H70.66M69.42,303.98V316.25M67.82,303.98H71.02M67.82,316.25H71.02M69.21,297.99V312.14M67.61,297.99H70.81M67.61,312.14H70.81M70.27,299.97V308.16M68.67,299.97H71.87M68.67,308.16H71.87M70.48,292.28V305.43M68.88,292.28H72.08M68.88,305.43H72.08M71.17,299.84V311.09M69.57,299.84H72.77M69.57,311.09H72.77M70.51,298.89V314.14M68.91,298.89H72.11M68.91,314.14H72.11M71.36,305.22V313.43M69.76,305.22H72.96M69.76,313.43H72.96M71.69,304.34V313.46M70.09,304.34H73.29M70.09,313.46H73.29M71.86,300.85V313.16M70.26,300.85H73.46M70.26,313.16H73.46M71.78,300.56V312.51M70.18,300.56H73.38M70.18,312.51H73.38M61,285.6V299M59.4,285.6H62.6M59.4,299H62.6M72.6,299.87V313.65M71,299.87H74.2M71,313.65H74.2M73.4,296.08V313.18M71.8,296.08H75M71.8,313.18H75M74.2,293.35V310.46M72.6,293.35H75.8M72.6,310.46H75.8M75,305.08V323.82M73.4,305.08H76.6M73.4,323.82H76.6M75.8,324.11V334.19M74.2,324.11H77.4M74.2,334.19H77.4M76.6,319.22V333.86M75,319.22H78.2M75,333.86H78.2M77.4,326.69V338.45M75.8,326.69H79M75.8,338.45H79M78.2,312.57V329.69M76.6,312.57H79.8M76.6,329.69H79.8M79,302.7V315.84M77.4,302.7H80.6M77.4,315.84H80.6M79.8,299.58V309.99M78.2,299.58H81.4M78.2,309.99H81.4M80.6,277.48V296.48M79,277.48H82.2M79,296.48H82.2M81.4,274.97V287.92M79.8,274.97H83M79.8,287.92H83M82.2,256.38V275.86M80.6,256.38H83.8M80.6,275.86H83.8M83,257.78V268.77M81.4,257.78H84.6M81.4,268.77H84.6M83.8,249.67V267.02M82.2,249.67H85.4M82.2,267.02H85.4M84.6,270.86V290.53M83,270.86H86.2M83,290.53H86.2M85.4,302.09V317.35M83.8,302.09H87M83.8,317.35H87M86.2,330.44V346.05M84.6,330.44H87.8M84.6,346.05H87.8M87,328.37V348.14M85.4,328.37H88.6M85.4,348.14H88.6M87.8,322.58V336.13M86.2,322.58H89.4M86.2,336.13H89.4M88.6,309.72V320.8M87,309.72H90.2M87,320.8H90.2M89.4,316.75V327.51M87.8,316.75H91M87.8,327.51H91M90.2,300.85V318.45M88.6,300.85H91.8M88.6,318.45H91.8M91,291.22V305.7M89.4,291.22H92.6M89.4,305.7H92.6M91.8,278.7V295.15M90.2,278.7H93.4M90.2,295.15H93.4M92.6,271.96V286.38M91,271.96H94.2M91,286.38H94.2M93.4,262.19V276.2M91.8,262.19H95M91.8,276.2H95M94.2,260.66V272.91M92.6,260.66H95.8M92.6,272.91H95.8M95,263.2V275.67M93.4,263.2H96.6M93.4,275.67H96.6M95.8,274.41V291.45M94.2,274.41H97.4M94.2,291.45H97.4M96.6,298.91V313.47M95,298.91H98.2M95,313.47H98.2M97.4,312.4V324.77M95.8,312.4H99M95.8,324.77H99M98.2,316.98V333.3M96.6,316.98H99.8M96.6,333.3H99.8M99,317.35V336.98M97.4,317.35H100.6M97.4,336.98H100.6M99.8,315.26V330.18M98.2,315.26H101.4M98.2,330.18H101.4M100.6,306.77V323.94M99,306.77H102.2M99,323.94H102.2M101.4,303.52V319.79M99.8,303.52H103M99.8,319.79H103M102.2,287.81V305.39M100.6,287.81H103.8M100.6,305.39H103.8M103,282.15V299.14M101.4,282.15H104.6M101.4,299.14H104.6M103.8,273.51V290.34M102.2,273.51H105.4M102.2,290.34H105.4M104.6,275.79V289.65M103,275.79H106.2M103,289.65H106.2M105.4,278.04V294.19M103.8,278.04H107M103.8,294.19H107M106.2,272.07V291.96M104.6,272.07H107.8M104.6,291.96H107.8M107,275.37V285.44M105.4,275.37H108.6M105.4,285.44H108.6M107.8,294.26V308.17M106.2,294.26H109.4M106.2,308.17H109.4M108.6,312.97V324.43M107,312.97H110.2M107,324.43H110.2M109.4,316.44V329.47M107.8,316.44H111M107.8,329.47H111M110.2,312.53V331.96M108.6,312.53H111.8M108.6,331.96H111.8M111,313.75V324.83M109.4,313.75H112.6M109.4,324.83H112.6M111.8,301.88V321.44M110.2,301.88H113.4M110.2,321.44H113.4M112.6,303.91V317.26M111,303.91H114.2M111,317.26H114.2M113.4,296.34V312.75M111.8,296.34H115M111.8,312.75H115M114.2,291.5V311.01M112.6,291.5H115.8M112.6,311.01H115.8M115,289.05V302.27M113.4,289.05H116.6M113.4,302.27H116.6M115.8,288.31V299.85M114.2,288.31H117.4M114.2,299.85H117.4M116.6,289.55V306.36M115,289.55H118.2M115,306.36H118.2M117.4,285.2V297.98M115.8,285.2H119M115.8,297.98H119M118.2,292.19V305.98M116.6,292.19H119.8M116.6,305.98H119.8M119,297.94V312.31M117.4,297.94H120.6M117.4,312.31H120.6M119.8,299.21V315.38M118.2,299.21H121.4M118.2,315.38H121.4M120.6,307.92V321.76M119,307.92H122.2M119,321.76H122.2M121.4,314.21V326.94M119.8,314.21H123M119.8,326.94H123M122.2,315.41V325.75M120.6,315.41H123.8M120.6,325.75H123.8M123,314.24V332.34M121.4,314.24H124.6M121.4,332.34H124.6M123.8,312.33V322.52M122.2,312.33H125.4M122.2,322.52H125.4M124.6,299.88V314.9M123,299.88H126.2M123,314.9H126.2M125.4,302.77V319.78M123.8,302.77H127M123.8,319.78H127M126.2,298.68V311.08M124.6,298.68H127.8M124.6,311.08H127.8M127,299.82V310.76M125.4,299.82H128.6M125.4,310.76H128.6M127.8,292.03V305.12M126.2,292.03H129.4M126.2,305.12H129.4M128.6,282.38V296.08M127,282.38H130.2M127,296.08H130.2M129.4,292.02V303.37M127.8,292.02H131M127.8,303.37H131M76.1,329.6V353M74.5,329.6H77.7M74.5,353H77.7M76.5,329.6V353M74.9,329.6H78.1M74.9,353H78.1M83.8,245.4V262M82.2,245.4H85.4M82.2,262H85.4M85.8,322V350M84.2,322H87.4M84.2,350H87.4M86.2,326V355M84.6,326H87.8M84.6,355H87.8M94,242.3V266M92.4,242.3H95.6M92.4,266H95.6M94.8,250V272M93.2,250H96.4M93.2,272H96.4M96.4,306V330M94.8,306H98M94.8,330H98M97,327V360M95.4,327H98.6M95.4,360H98.6M106.1,263.7V286M104.5,263.7H107.7M104.5,286H107.7M109,312V335M107.4,312H110.6M107.4,335H110.6M111.6,312V338.8M110,312H113.2M110,338.8H113.2M116.3,268.7V291M114.7,268.7H117.9M114.7,291H117.9M118.7,305V330M117.1,305H120.3M117.1,330H120.3M119.7,334V366.2M118.1,334H121.3M118.1,366.2H121.3M121.8,318V343M120.2,318H123.4M120.2,343H123.4M122.8,325V350M121.2,325H124.4M121.2,350H124.4M125.8,288V310M124.2,288H127.4M124.2,310H127.4M127.7,290.6V315M126.1,290.6H129.3M126.1,315H129.3M131,266.6V291.7M129.4,266.6H132.6M129.4,291.7H132.6M132.3,323.4V354.6M130.7,323.4H133.9M130.7,354.6H133.9M135,295V316M133.4,295H136.6M133.4,316H136.6M137.2,281V300M135.6,281H138.8M135.6,300H138.8M138.3,273.2V289.4M136.7,273.2H139.9M136.7,289.4H139.9M140.6,288V313M139,288H142.2M139,313H142.2M142.3,325V352M140.7,325H143.9M140.7,352H143.9M143.7,325V357.2M142.1,325H145.3M142.1,357.2H145.3M145.4,298V320M143.8,298H147M143.8,320H147M147.2,288V315M145.6,288H148.8M145.6,315H148.8M149,295V318M147.4,295H150.6M147.4,318H150.6M150.6,299V322M149,299H152.2M149,322H152.2M152.1,274.5V299M150.5,274.5H153.7M150.5,299H153.7M153.9,246.1V275M152.3,246.1H155.5M152.3,275H155.5M156.1,280V303M154.5,280H157.7M154.5,303H157.7M157.9,280.5V304M156.3,280.5H159.5M156.3,304H159.5M159.4,268.3V291.7M157.8,268.3H161M157.8,291.7H161M162.8,301.7V326M161.2,301.7H164.4M161.2,326H164.4M165,299.4V326M163.4,299.4H166.6M163.4,326H166.6M167.2,324V354M165.6,324H168.8M165.6,354H168.8M169.4,326.1V357.2M167.8,326.1H171M167.8,357.2H171M171.7,302.8V330.6M170.1,302.8H173.3M170.1,330.6H173.3M173.4,280.6V306M171.8,280.6H175M171.8,306H175M176.2,286V313M174.6,286H177.8M174.6,313H177.8M178.4,279V308.3M176.8,279H180M176.8,308.3H180M180,257.2V288.3M178.4,257.2H181.6M178.4,288.3H181.6M182.7,263.4V295M181.1,263.4H184.3M181.1,295H184.3M184.4,286V317M182.8,286H186M182.8,317H186M187.3,310.6V341.7M185.7,310.6H188.9M185.7,341.7H188.9M189.6,297V328M188,297H191.2M188,328H191.2M191.8,301.7V335M190.2,301.7H193.4M190.2,335H193.4M194,303.9V337.2M192.4,303.9H195.6M192.4,337.2H195.6M196.7,328.3V365M195.1,328.3H198.3M195.1,365H198.3M199.3,315V346M197.7,315H200.9M197.7,346H200.9M201.8,301.7V332.8M200.2,301.7H203.4M200.2,332.8H203.4M204.4,275V310.6M202.8,275H206M202.8,310.6H206M207.1,268V304M205.5,268H208.7M205.5,304H208.7M209.6,299.4V337.2M208,299.4H211.2M208,337.2H211.2M212.2,301.7V338.3M210.6,301.7H213.8M210.6,338.3H213.8M215.1,269.4V308.3M213.5,269.4H216.7M213.5,308.3H216.7M217.5,260.7V304.8M215.9,260.7H219.1M215.9,304.8H219.1M220.5,272.1V316.2M218.9,272.1H222.1M218.9,316.2H222.1M223.5,298V340.7M221.9,298H225.1M221.9,340.7H225.1M226.2,290V334.5M224.6,290H227.8M224.6,334.5H227.8M229.2,260.7V308.2M227.6,260.7H230.8M227.6,308.2H230.8M231.9,259.8V307.1M230.3,259.8H233.5M230.3,307.1H233.5M235.1,259.1V306M233.5,259.1H236.7M233.5,306H236.7M237.8,234V284.2M236.2,234H239.4M236.2,284.2H239.4M241.3,253.9V303.2M239.7,253.9H242.9M239.7,303.2H242.9M244.2,253.9V302.5M242.6,253.9H245.8M242.6,302.5H245.8M247.7,256.8V304.8M246.1,256.8H249.3M246.1,304.8H249.3M250.9,280.8V332.2M249.3,280.8H252.5M249.3,332.2H252.5M254.3,311.6V365.3M252.7,311.6H255.9M252.7,365.3H255.9M257.5,285.4V339M255.9,285.4H259.1M255.9,339H259.1M260.8,239.9V301.8M259.2,239.9H262.4M259.2,301.8H262.4M264.3,209.5V269M262.7,209.5H265.9M262.7,269H265.9M267.9,234V295M266.3,234H269.5M266.3,295H269.5M271.4,265.7V326.2M269.8,265.7H273M269.8,326.2H273M274.9,250.4V311.5M273.3,250.4H276.5M273.3,311.5H276.5M278.7,241.7V306.8M277.1,241.7H280.3M277.1,306.8H280.3M282.4,272.3V338.5M280.8,272.3H284M280.8,338.5H284M286.2,315.5V382.6M284.6,315.5H287.8M284.6,382.6H287.8M289.9,291V362.4M288.3,291H291.5M288.3,362.4H291.5M293.7,293.9V368.5M292.1,293.9H295.3M292.1,368.5H295.3M297.6,306V384.5M296,306H299.2M296,384.5H299.2M301.9,252.1V340.8M300.3,252.1H303.5M300.3,340.8H303.5M305.9,209.3V311.5M304.3,209.3H307.5M304.3,311.5H307.5M309.9,235.6V335.6M308.3,235.6H311.5M308.3,335.6H311.5M314.1,209.8V306.8M312.5,209.8H315.7M312.5,306.8H315.7M327,249.7V376M325.4,249.7H328.6M325.4,376H328.6" stroke="#6a6ec0" stroke-width="0.9" fill="none"/>
<g fill="#1a1a80"><circle cx="56.98" cy="314.62" r="1.35"/><circle cx="57.23" cy="319.19" r="1.35"/><circle cx="57.39" cy="311.54" r="1.35"/><circle cx="57.5" cy="298.71" r="1.35"/><circle cx="57.99" cy="305.36" r="1.35"/><circle cx="57.83" cy="306.43" r="1.35"/><circle cx="58.89" cy="320.92" r="1.35"/><circle cx="58.66" cy="307.8" r="1.35"/><circle cx="59.29" cy="304.19" r="1.35"/><circle cx="59.65" cy="308.06" r="1.35"/><circle cx="60.04" cy="320.14" r="1.35"/><circle cx="59.99" cy="320.12" r="1.35"/><circle cx="60.39" cy="308.77" r="1.35"/><circle cx="60.37" cy="309.85" r="1.35"/><circle cx="61.41" cy="322.69" r="1.35"/><circle cx="61.38" cy="305.08" r="1.35"/><circle cx="61.56" cy="313.61" r="1.35"/><circle cx="62.11" cy="313.44" r="1.35"/><circle cx="62.31" cy="302.64" r="1.35"/><circle cx="62.31" cy="311.42" r="1.35"/><circle cx="63.39" cy="310.82" r="1.35"/><circle cx="62.99" cy="308.48" r="1.35"/><circle cx="63.69" cy="298.13" r="1.35"/><circle cx="63.7" cy="304.76" r="1.35"/><circle cx="64.54" cy="309.56" r="1.35"/><circle cx="64.28" cy="311.35" r="1.35"/><circle cx="65.05" cy="307.05" r="1.35"/><circle cx="64.7" cy="310.56" r="1.35"/><circle cx="65.77" cy="304.55" r="1.35"/><circle cx="65.79" cy="300.26" r="1.35"/><circle cx="65.99" cy="315.06" r="1.35"/><circle cx="65.8" cy="306.26" r="1.35"/><circle cx="66.84" cy="310.22" r="1.35"/><circle cx="66.59" cy="305.81" r="1.35"/><circle cx="67.03" cy="308.86" r="1.35"/><circle cx="66.94" cy="306.59" r="1.35"/><circle cx="68.19" cy="311.97" r="1.35"/><circle cx="67.78" cy="309.85" r="1.35"/><circle cx="68.58" cy="307.84" r="1.35"/><circle cx="68.17" cy="319.68" r="1.35"/><circle cx="69.08" cy="312.15" r="1.35"/><circle cx="69.06" cy="301.31" r="1.35"/><circle cx="69.42" cy="310.11" r="1.35"/><circle cx="69.21" cy="305.06" r="1.35"/><circle cx="70.27" cy="304.06" r="1.35"/><circle cx="70.48" cy="298.86" r="1.35"/><circle cx="71.17" cy="305.47" r="1.35"/><circle cx="70.51" cy="306.52" r="1.35"/><circle cx="71.36" cy="309.32" r="1.35"/><circle cx="71.69" cy="308.9" r="1.35"/><circle cx="71.86" cy="307.01" r="1.35"/><circle cx="71.78" cy="306.54" r="1.35"/><circle cx="61" cy="292.4" r="1.35"/><circle cx="72.6" cy="306.76" r="1.35"/><circle cx="73.4" cy="304.63" r="1.35"/><circle cx="74.2" cy="301.9" r="1.35"/><circle cx="75" cy="314.45" r="1.35"/><circle cx="75.8" cy="329.15" r="1.35"/><circle cx="76.6" cy="326.54" r="1.35"/><circle cx="77.4" cy="332.57" r="1.35"/><circle cx="78.2" cy="321.13" r="1.35"/><circle cx="79" cy="309.27" r="1.35"/><circle cx="79.8" cy="304.78" r="1.35"/><circle cx="80.6" cy="286.98" r="1.35"/><circle cx="81.4" cy="281.44" r="1.35"/><circle cx="82.2" cy="266.12" r="1.35"/><circle cx="83" cy="263.28" r="1.35"/><circle cx="83.8" cy="258.34" r="1.35"/><circle cx="84.6" cy="280.7" r="1.35"/><circle cx="85.4" cy="309.72" r="1.35"/><circle cx="86.2" cy="338.24" r="1.35"/><circle cx="87" cy="338.25" r="1.35"/><circle cx="87.8" cy="329.35" r="1.35"/><circle cx="88.6" cy="315.26" r="1.35"/><circle cx="89.4" cy="322.13" r="1.35"/><circle cx="90.2" cy="309.65" r="1.35"/><circle cx="91" cy="298.46" r="1.35"/><circle cx="91.8" cy="286.92" r="1.35"/><circle cx="92.6" cy="279.17" r="1.35"/><circle cx="93.4" cy="269.19" r="1.35"/><circle cx="94.2" cy="266.79" r="1.35"/><circle cx="95" cy="269.44" r="1.35"/><circle cx="95.8" cy="282.93" r="1.35"/><circle cx="96.6" cy="306.19" r="1.35"/><circle cx="97.4" cy="318.58" r="1.35"/><circle cx="98.2" cy="325.14" r="1.35"/><circle cx="99" cy="327.17" r="1.35"/><circle cx="99.8" cy="322.72" r="1.35"/><circle cx="100.6" cy="315.35" r="1.35"/><circle cx="101.4" cy="311.65" r="1.35"/><circle cx="102.2" cy="296.6" r="1.35"/><circle cx="103" cy="290.64" r="1.35"/><circle cx="103.8" cy="281.92" r="1.35"/><circle cx="104.6" cy="282.72" r="1.35"/><circle cx="105.4" cy="286.12" r="1.35"/><circle cx="106.2" cy="282.02" r="1.35"/><circle cx="107" cy="280.41" r="1.35"/><circle cx="107.8" cy="301.21" r="1.35"/><circle cx="108.6" cy="318.7" r="1.35"/><circle cx="109.4" cy="322.95" r="1.35"/><circle cx="110.2" cy="322.24" r="1.35"/><circle cx="111" cy="319.29" r="1.35"/><circle cx="111.8" cy="311.66" r="1.35"/><circle cx="112.6" cy="310.58" r="1.35"/><circle cx="113.4" cy="304.54" r="1.35"/><circle cx="114.2" cy="301.26" r="1.35"/><circle cx="115" cy="295.66" r="1.35"/><circle cx="115.8" cy="294.08" r="1.35"/><circle cx="116.6" cy="297.95" r="1.35"/><circle cx="117.4" cy="291.59" r="1.35"/><circle cx="118.2" cy="299.09" r="1.35"/><circle cx="119" cy="305.12" r="1.35"/><circle cx="119.8" cy="307.3" r="1.35"/><circle cx="120.6" cy="314.84" r="1.35"/><circle cx="121.4" cy="320.58" r="1.35"/><circle cx="122.2" cy="320.58" r="1.35"/><circle cx="123" cy="323.29" r="1.35"/><circle cx="123.8" cy="317.43" r="1.35"/><circle cx="124.6" cy="307.39" r="1.35"/><circle cx="125.4" cy="311.28" r="1.35"/><circle cx="126.2" cy="304.88" r="1.35"/><circle cx="127" cy="305.29" r="1.35"/><circle cx="127.8" cy="298.57" r="1.35"/><circle cx="128.6" cy="289.23" r="1.35"/><circle cx="129.4" cy="297.69" r="1.35"/><circle cx="76.1" cy="337.4" r="1.35"/><circle cx="76.5" cy="345.5" r="1.35"/><circle cx="83.8" cy="252.9" r="1.35"/><circle cx="85.8" cy="335.7" r="1.35"/><circle cx="86.2" cy="339.8" r="1.35"/><circle cx="94" cy="255.5" r="1.35"/><circle cx="94.8" cy="262.6" r="1.35"/><circle cx="96.4" cy="318.5" r="1.35"/><circle cx="97" cy="342.8" r="1.35"/><circle cx="106.1" cy="274.8" r="1.35"/><circle cx="109" cy="323.6" r="1.35"/><circle cx="111.6" cy="325.6" r="1.35"/><circle cx="116.3" cy="279.9" r="1.35"/><circle cx="118.7" cy="317.5" r="1.35"/><circle cx="119.7" cy="350" r="1.35"/><circle cx="121.8" cy="330.7" r="1.35"/><circle cx="122.8" cy="337.8" r="1.35"/><circle cx="125.8" cy="299.2" r="1.35"/><circle cx="127.7" cy="305" r="1.35"/><circle cx="131" cy="281.7" r="1.35"/><circle cx="132.3" cy="339" r="1.35"/><circle cx="135" cy="305" r="1.35"/><circle cx="137.2" cy="290.6" r="1.35"/><circle cx="138.3" cy="282.8" r="1.35"/><circle cx="140.6" cy="301.7" r="1.35"/><circle cx="142.3" cy="337.2" r="1.35"/><circle cx="143.7" cy="341.7" r="1.35"/><circle cx="145.4" cy="309.4" r="1.35"/><circle cx="147.2" cy="300.6" r="1.35"/><circle cx="149" cy="306.1" r="1.35"/><circle cx="150.6" cy="310.6" r="1.35"/><circle cx="152.1" cy="286.6" r="1.35"/><circle cx="153.9" cy="259.4" r="1.35"/><circle cx="156.1" cy="291.7" r="1.35"/><circle cx="157.9" cy="292.8" r="1.35"/><circle cx="159.4" cy="280.6" r="1.35"/><circle cx="162.8" cy="312.8" r="1.35"/><circle cx="165" cy="312.8" r="1.35"/><circle cx="167.2" cy="338.3" r="1.35"/><circle cx="169.4" cy="341.7" r="1.35"/><circle cx="171.7" cy="316.8" r="1.35"/><circle cx="173.4" cy="293.9" r="1.35"/><circle cx="176.2" cy="300.6" r="1.35"/><circle cx="178.4" cy="294.6" r="1.35"/><circle cx="180" cy="274.6" r="1.35"/><circle cx="182.7" cy="280.6" r="1.35"/><circle cx="184.4" cy="301.2" r="1.35"/><circle cx="187.3" cy="325.7" r="1.35"/><circle cx="189.6" cy="312.8" r="1.35"/><circle cx="191.8" cy="318.3" r="1.35"/><circle cx="194" cy="321.2" r="1.35"/><circle cx="196.7" cy="346.6" r="1.35"/><circle cx="199.3" cy="330.6" r="1.35"/><circle cx="201.8" cy="317.2" r="1.35"/><circle cx="204.4" cy="293.2" r="1.35"/><circle cx="207.1" cy="286.1" r="1.35"/><circle cx="209.6" cy="317.2" r="1.35"/><circle cx="212.2" cy="318.8" r="1.35"/><circle cx="215.1" cy="288.8" r="1.35"/><circle cx="217.5" cy="282.4" r="1.35"/><circle cx="220.5" cy="294" r="1.35"/><circle cx="223.5" cy="319.2" r="1.35"/><circle cx="226.2" cy="312.3" r="1.35"/><circle cx="229.2" cy="284.2" r="1.35"/><circle cx="231.9" cy="283.5" r="1.35"/><circle cx="235.1" cy="282" r="1.35"/><circle cx="237.8" cy="258.7" r="1.35"/><circle cx="241.3" cy="278.5" r="1.35"/><circle cx="244.2" cy="278.1" r="1.35"/><circle cx="247.7" cy="280.8" r="1.35"/><circle cx="250.9" cy="306.4" r="1.35"/><circle cx="254.3" cy="338.6" r="1.35"/><circle cx="257.5" cy="312.1" r="1.35"/><circle cx="260.8" cy="270.8" r="1.35"/><circle cx="264.3" cy="240.3" r="1.35"/><circle cx="267.9" cy="264" r="1.35"/><circle cx="271.4" cy="295.7" r="1.35"/><circle cx="274.9" cy="281.2" r="1.35"/><circle cx="278.7" cy="273.9" r="1.35"/><circle cx="282.4" cy="305.1" r="1.35"/><circle cx="286.2" cy="349.3" r="1.35"/><circle cx="289.9" cy="326.7" r="1.35"/><circle cx="293.7" cy="331" r="1.35"/><circle cx="297.6" cy="345.5" r="1.35"/><circle cx="301.9" cy="296.7" r="1.35"/><circle cx="305.9" cy="256.3" r="1.35"/><circle cx="309.9" cy="285.6" r="1.35"/><circle cx="314.1" cy="258.2" r="1.35"/><circle cx="327" cy="313.1" r="1.35"/></g>
<rect x="56.5" y="5.7" width="276.7" height="384.5" fill="none" stroke="#000" stroke-width="1.4"/>
<line x1="56.5" y1="208" x2="333.2" y2="208" stroke="#000" stroke-width="1.4" />
<line x1="56.5" y1="8.5" x2="61" y2="8.5" stroke="#000" stroke-width="1" />
<line x1="333.2" y1="8.5" x2="328.7" y2="8.5" stroke="#000" stroke-width="1" />
<line x1="56.5" y1="46.1" x2="61" y2="46.1" stroke="#000" stroke-width="1" />
<line x1="333.2" y1="46.1" x2="328.7" y2="46.1" stroke="#000" stroke-width="1" />
<line x1="56.5" y1="34.78" x2="59" y2="34.78" stroke="#000" stroke-width="1" />
<line x1="333.2" y1="34.78" x2="330.7" y2="34.78" stroke="#000" stroke-width="1" />
<line x1="56.5" y1="28.16" x2="59" y2="28.16" stroke="#000" stroke-width="1" />
<line x1="333.2" y1="28.16" x2="330.7" y2="28.16" stroke="#000" stroke-width="1" />
<line x1="56.5" y1="23.46" x2="59" y2="23.46" stroke="#000" stroke-width="1" />
<line x1="333.2" y1="23.46" x2="330.7" y2="23.46" stroke="#000" stroke-width="1" />
<line x1="56.5" y1="19.82" x2="59" y2="19.82" stroke="#000" stroke-width="1" />
<line x1="333.2" y1="19.82" x2="330.7" y2="19.82" stroke="#000" stroke-width="1" />
<line x1="56.5" y1="16.84" x2="59" y2="16.84" stroke="#000" stroke-width="1" />
<line x1="333.2" y1="16.84" x2="330.7" y2="16.84" stroke="#000" stroke-width="1" />
<line x1="56.5" y1="14.32" x2="59" y2="14.32" stroke="#000" stroke-width="1" />
<line x1="333.2" y1="14.32" x2="330.7" y2="14.32" stroke="#000" stroke-width="1" />
<line x1="56.5" y1="12.14" x2="59" y2="12.14" stroke="#000" stroke-width="1" />
<line x1="333.2" y1="12.14" x2="330.7" y2="12.14" stroke="#000" stroke-width="1" />
<line x1="56.5" y1="10.22" x2="59" y2="10.22" stroke="#000" stroke-width="1" />
<line x1="333.2" y1="10.22" x2="330.7" y2="10.22" stroke="#000" stroke-width="1" />
<line x1="56.5" y1="83.7" x2="61" y2="83.7" stroke="#000" stroke-width="1" />
<line x1="333.2" y1="83.7" x2="328.7" y2="83.7" stroke="#000" stroke-width="1" />
<line x1="56.5" y1="72.38" x2="59" y2="72.38" stroke="#000" stroke-width="1" />
<line x1="333.2" y1="72.38" x2="330.7" y2="72.38" stroke="#000" stroke-width="1" />
<line x1="56.5" y1="65.76" x2="59" y2="65.76" stroke="#000" stroke-width="1" />
<line x1="333.2" y1="65.76" x2="330.7" y2="65.76" stroke="#000" stroke-width="1" />
<line x1="56.5" y1="61.06" x2="59" y2="61.06" stroke="#000" stroke-width="1" />
<line x1="333.2" y1="61.06" x2="330.7" y2="61.06" stroke="#000" stroke-width="1" />
<line x1="56.5" y1="57.42" x2="59" y2="57.42" stroke="#000" stroke-width="1" />
<line x1="333.2" y1="57.42" x2="330.7" y2="57.42" stroke="#000" stroke-width="1" />
<line x1="56.5" y1="54.44" x2="59" y2="54.44" stroke="#000" stroke-width="1" />
<line x1="333.2" y1="54.44" x2="330.7" y2="54.44" stroke="#000" stroke-width="1" />
<line x1="56.5" y1="51.92" x2="59" y2="51.92" stroke="#000" stroke-width="1" />
<line x1="333.2" y1="51.92" x2="330.7" y2="51.92" stroke="#000" stroke-width="1" />
<line x1="56.5" y1="49.74" x2="59" y2="49.74" stroke="#000" stroke-width="1" />
<line x1="333.2" y1="49.74" x2="330.7" y2="49.74" stroke="#000" stroke-width="1" />
<line x1="56.5" y1="47.82" x2="59" y2="47.82" stroke="#000" stroke-width="1" />
<line x1="333.2" y1="47.82" x2="330.7" y2="47.82" stroke="#000" stroke-width="1" />
<line x1="56.5" y1="121.3" x2="61" y2="121.3" stroke="#000" stroke-width="1" />
<line x1="333.2" y1="121.3" x2="328.7" y2="121.3" stroke="#000" stroke-width="1" />
<line x1="56.5" y1="109.98" x2="59" y2="109.98" stroke="#000" stroke-width="1" />
<line x1="333.2" y1="109.98" x2="330.7" y2="109.98" stroke="#000" stroke-width="1" />
<line x1="56.5" y1="103.36" x2="59" y2="103.36" stroke="#000" stroke-width="1" />
<line x1="333.2" y1="103.36" x2="330.7" y2="103.36" stroke="#000" stroke-width="1" />
<line x1="56.5" y1="98.66" x2="59" y2="98.66" stroke="#000" stroke-width="1" />
<line x1="333.2" y1="98.66" x2="330.7" y2="98.66" stroke="#000" stroke-width="1" />
<line x1="56.5" y1="95.02" x2="59" y2="95.02" stroke="#000" stroke-width="1" />
<line x1="333.2" y1="95.02" x2="330.7" y2="95.02" stroke="#000" stroke-width="1" />
<line x1="56.5" y1="92.04" x2="59" y2="92.04" stroke="#000" stroke-width="1" />
<line x1="333.2" y1="92.04" x2="330.7" y2="92.04" stroke="#000" stroke-width="1" />
<line x1="56.5" y1="89.52" x2="59" y2="89.52" stroke="#000" stroke-width="1" />
<line x1="333.2" y1="89.52" x2="330.7" y2="89.52" stroke="#000" stroke-width="1" />
<line x1="56.5" y1="87.34" x2="59" y2="87.34" stroke="#000" stroke-width="1" />
<line x1="333.2" y1="87.34" x2="330.7" y2="87.34" stroke="#000" stroke-width="1" />
<line x1="56.5" y1="85.42" x2="59" y2="85.42" stroke="#000" stroke-width="1" />
<line x1="333.2" y1="85.42" x2="330.7" y2="85.42" stroke="#000" stroke-width="1" />
<line x1="56.5" y1="158.9" x2="61" y2="158.9" stroke="#000" stroke-width="1" />
<line x1="333.2" y1="158.9" x2="328.7" y2="158.9" stroke="#000" stroke-width="1" />
<line x1="56.5" y1="147.58" x2="59" y2="147.58" stroke="#000" stroke-width="1" />
<line x1="333.2" y1="147.58" x2="330.7" y2="147.58" stroke="#000" stroke-width="1" />
<line x1="56.5" y1="140.96" x2="59" y2="140.96" stroke="#000" stroke-width="1" />
<line x1="333.2" y1="140.96" x2="330.7" y2="140.96" stroke="#000" stroke-width="1" />
<line x1="56.5" y1="136.26" x2="59" y2="136.26" stroke="#000" stroke-width="1" />
<line x1="333.2" y1="136.26" x2="330.7" y2="136.26" stroke="#000" stroke-width="1" />
<line x1="56.5" y1="132.62" x2="59" y2="132.62" stroke="#000" stroke-width="1" />
<line x1="333.2" y1="132.62" x2="330.7" y2="132.62" stroke="#000" stroke-width="1" />
<line x1="56.5" y1="129.64" x2="59" y2="129.64" stroke="#000" stroke-width="1" />
<line x1="333.2" y1="129.64" x2="330.7" y2="129.64" stroke="#000" stroke-width="1" />
<line x1="56.5" y1="127.12" x2="59" y2="127.12" stroke="#000" stroke-width="1" />
<line x1="333.2" y1="127.12" x2="330.7" y2="127.12" stroke="#000" stroke-width="1" />
<line x1="56.5" y1="124.94" x2="59" y2="124.94" stroke="#000" stroke-width="1" />
<line x1="333.2" y1="124.94" x2="330.7" y2="124.94" stroke="#000" stroke-width="1" />
<line x1="56.5" y1="123.02" x2="59" y2="123.02" stroke="#000" stroke-width="1" />
<line x1="333.2" y1="123.02" x2="330.7" y2="123.02" stroke="#000" stroke-width="1" />
<line x1="56.5" y1="196.5" x2="61" y2="196.5" stroke="#000" stroke-width="1" />
<line x1="333.2" y1="196.5" x2="328.7" y2="196.5" stroke="#000" stroke-width="1" />
<line x1="56.5" y1="185.18" x2="59" y2="185.18" stroke="#000" stroke-width="1" />
<line x1="333.2" y1="185.18" x2="330.7" y2="185.18" stroke="#000" stroke-width="1" />
<line x1="56.5" y1="178.56" x2="59" y2="178.56" stroke="#000" stroke-width="1" />
<line x1="333.2" y1="178.56" x2="330.7" y2="178.56" stroke="#000" stroke-width="1" />
<line x1="56.5" y1="173.86" x2="59" y2="173.86" stroke="#000" stroke-width="1" />
<line x1="333.2" y1="173.86" x2="330.7" y2="173.86" stroke="#000" stroke-width="1" />
<line x1="56.5" y1="170.22" x2="59" y2="170.22" stroke="#000" stroke-width="1" />
<line x1="333.2" y1="170.22" x2="330.7" y2="170.22" stroke="#000" stroke-width="1" />
<line x1="56.5" y1="167.24" x2="59" y2="167.24" stroke="#000" stroke-width="1" />
<line x1="333.2" y1="167.24" x2="330.7" y2="167.24" stroke="#000" stroke-width="1" />
<line x1="56.5" y1="164.72" x2="59" y2="164.72" stroke="#000" stroke-width="1" />
<line x1="333.2" y1="164.72" x2="330.7" y2="164.72" stroke="#000" stroke-width="1" />
<line x1="56.5" y1="162.54" x2="59" y2="162.54" stroke="#000" stroke-width="1" />
<line x1="333.2" y1="162.54" x2="330.7" y2="162.54" stroke="#000" stroke-width="1" />
<line x1="56.5" y1="160.62" x2="59" y2="160.62" stroke="#000" stroke-width="1" />
<line x1="333.2" y1="160.62" x2="330.7" y2="160.62" stroke="#000" stroke-width="1" />
<line x1="56.5" y1="204.84" x2="59" y2="204.84" stroke="#000" stroke-width="1" />
<line x1="333.2" y1="204.84" x2="330.7" y2="204.84" stroke="#000" stroke-width="1" />
<line x1="56.5" y1="202.32" x2="59" y2="202.32" stroke="#000" stroke-width="1" />
<line x1="333.2" y1="202.32" x2="330.7" y2="202.32" stroke="#000" stroke-width="1" />
<line x1="56.5" y1="200.14" x2="59" y2="200.14" stroke="#000" stroke-width="1" />
<line x1="333.2" y1="200.14" x2="330.7" y2="200.14" stroke="#000" stroke-width="1" />
<line x1="56.5" y1="198.22" x2="59" y2="198.22" stroke="#000" stroke-width="1" />
<line x1="333.2" y1="198.22" x2="330.7" y2="198.22" stroke="#000" stroke-width="1" />
<line x1="81.65" y1="5.7" x2="81.65" y2="8.3" stroke="#000" stroke-width="1.1" />
<line x1="81.65" y1="205.3" x2="81.65" y2="210.7" stroke="#000" stroke-width="1.1" />
<line x1="106.81" y1="5.7" x2="106.81" y2="8.3" stroke="#000" stroke-width="1.1" />
<line x1="106.81" y1="205.3" x2="106.81" y2="210.7" stroke="#000" stroke-width="1.1" />
<line x1="131.96" y1="5.7" x2="131.96" y2="8.3" stroke="#000" stroke-width="1.1" />
<line x1="131.96" y1="205.3" x2="131.96" y2="210.7" stroke="#000" stroke-width="1.1" />
<line x1="157.12" y1="5.7" x2="157.12" y2="8.3" stroke="#000" stroke-width="1.1" />
<line x1="157.12" y1="205.3" x2="157.12" y2="210.7" stroke="#000" stroke-width="1.1" />
<line x1="182.27" y1="5.7" x2="182.27" y2="8.3" stroke="#000" stroke-width="1.1" />
<line x1="182.27" y1="205.3" x2="182.27" y2="210.7" stroke="#000" stroke-width="1.1" />
<line x1="207.43" y1="5.7" x2="207.43" y2="8.3" stroke="#000" stroke-width="1.1" />
<line x1="207.43" y1="205.3" x2="207.43" y2="210.7" stroke="#000" stroke-width="1.1" />
<line x1="232.58" y1="5.7" x2="232.58" y2="8.3" stroke="#000" stroke-width="1.1" />
<line x1="232.58" y1="205.3" x2="232.58" y2="210.7" stroke="#000" stroke-width="1.1" />
<line x1="257.74" y1="5.7" x2="257.74" y2="8.3" stroke="#000" stroke-width="1.1" />
<line x1="257.74" y1="205.3" x2="257.74" y2="210.7" stroke="#000" stroke-width="1.1" />
<line x1="282.89" y1="5.7" x2="282.89" y2="8.3" stroke="#000" stroke-width="1.1" />
<line x1="282.89" y1="205.3" x2="282.89" y2="210.7" stroke="#000" stroke-width="1.1" />
<line x1="308.05" y1="5.7" x2="308.05" y2="8.3" stroke="#000" stroke-width="1.1" />
<line x1="308.05" y1="205.3" x2="308.05" y2="210.7" stroke="#000" stroke-width="1.1" />
<line x1="81.65" y1="390.2" x2="81.65" y2="385.6" stroke="#000" stroke-width="1.1" />
<line x1="106.81" y1="390.2" x2="106.81" y2="387.8" stroke="#000" stroke-width="1.1" />
<line x1="131.96" y1="390.2" x2="131.96" y2="385.6" stroke="#000" stroke-width="1.1" />
<line x1="157.12" y1="390.2" x2="157.12" y2="387.8" stroke="#000" stroke-width="1.1" />
<line x1="182.27" y1="390.2" x2="182.27" y2="385.6" stroke="#000" stroke-width="1.1" />
<line x1="207.43" y1="390.2" x2="207.43" y2="387.8" stroke="#000" stroke-width="1.1" />
<line x1="232.58" y1="390.2" x2="232.58" y2="385.6" stroke="#000" stroke-width="1.1" />
<line x1="257.74" y1="390.2" x2="257.74" y2="387.8" stroke="#000" stroke-width="1.1" />
<line x1="282.89" y1="390.2" x2="282.89" y2="385.6" stroke="#000" stroke-width="1.1" />
<line x1="308.05" y1="390.2" x2="308.05" y2="387.8" stroke="#000" stroke-width="1.1" />
<line x1="56.5" y1="241.9" x2="61" y2="241.9" stroke="#000" stroke-width="1" />
<line x1="333.2" y1="241.9" x2="328.7" y2="241.9" stroke="#000" stroke-width="1" />
<line x1="56.5" y1="275.7" x2="59" y2="275.7" stroke="#000" stroke-width="1" />
<line x1="333.2" y1="275.7" x2="330.7" y2="275.7" stroke="#000" stroke-width="1" />
<line x1="56.5" y1="309.5" x2="61" y2="309.5" stroke="#000" stroke-width="1" />
<line x1="333.2" y1="309.5" x2="328.7" y2="309.5" stroke="#000" stroke-width="1" />
<line x1="56.5" y1="343.3" x2="59" y2="343.3" stroke="#000" stroke-width="1" />
<line x1="333.2" y1="343.3" x2="330.7" y2="343.3" stroke="#000" stroke-width="1" />
<line x1="56.5" y1="377.1" x2="61" y2="377.1" stroke="#000" stroke-width="1" />
<line x1="333.2" y1="377.1" x2="328.7" y2="377.1" stroke="#000" stroke-width="1" />
<path d="M56.5,309.5 L56.73,309.5 L56.97,309.5 L57.23,309.5 L57.51,309.5 L57.79,309.5 L58.09,309.5 L58.4,309.5 L58.71,309.5 L59.04,309.5 L59.38,309.5 L59.73,309.5 L60.08,309.5 L60.44,309.5 L60.81,309.5 L61.19,309.5 L61.56,309.5 L61.95,309.5 L62.33,309.5 L62.72,309.5 L63.11,309.5 L63.51,309.5 L63.9,309.5 L64.29,309.5 L64.69,309.5 L65.08,309.5 L65.47,309.5 L65.85,309.5 L66.24,309.5 L66.61,309.5 L66.99,309.5 L67.36,309.5 L67.72,309.5 L68.07,309.5 L68.42,309.5 L68.76,309.5 L69.09,309.5 L69.4,309.5 L69.71,309.5 L70.01,309.5 L70.29,309.5 L70.57,309.5 L70.83,309.5 L71.07,309.5 L71.3,309.5 L71.56,309.15 L71.89,308.23 L72.26,306.94 L72.65,305.45 L73.04,303.96 L73.41,302.67 L73.74,301.75 L74,301.4 L74.31,303.77 L74.71,309.7 L75.15,317.4 L75.59,325.1 L75.99,331.03 L76.3,333.4 L76.54,332.96 L76.8,331.7 L77.09,329.69 L77.41,327.03 L77.74,323.79 L78.09,320.05 L78.46,315.91 L78.83,311.43 L79.22,306.71 L79.61,301.82 L80,296.85 L80.39,291.88 L80.78,286.99 L81.17,282.27 L81.54,277.79 L81.91,273.65 L82.26,269.91 L82.59,266.67 L82.91,264.01 L83.2,262 L83.46,260.74 L83.7,260.3 L83.99,264.42 L84.37,275.03 L84.78,289.54 L85.22,305.36 L85.63,319.87 L86.01,330.48 L86.3,334.6 L86.54,334.27 L86.81,333.33 L87.1,331.83 L87.41,329.82 L87.74,327.35 L88.09,324.48 L88.45,321.27 L88.82,317.76 L89.21,314 L89.6,310.07 L90,305.99 L90.4,301.84 L90.8,297.66 L91.2,293.51 L91.6,289.43 L91.99,285.5 L92.38,281.74 L92.75,278.23 L93.11,275.02 L93.46,272.15 L93.79,269.68 L94.1,267.67 L94.39,266.17 L94.66,265.23 L94.9,264.9 L95.18,267.65 L95.53,274.9 L95.93,285.15 L96.35,296.9 L96.77,308.65 L97.17,318.9 L97.52,326.15 L97.8,328.9 L98.04,328.64 L98.31,327.88 L98.6,326.67 L98.91,325.05 L99.24,323.07 L99.59,320.77 L99.95,318.21 L100.33,315.42 L100.71,312.45 L101.1,309.34 L101.5,306.14 L101.9,302.9 L102.3,299.66 L102.7,296.46 L103.09,293.35 L103.47,290.38 L103.85,287.59 L104.21,285.02 L104.56,282.73 L104.89,280.75 L105.2,279.13 L105.49,277.92 L105.76,277.16 L106,276.9 L106.26,278.23 L106.57,281.83 L106.92,287.14 L107.3,293.58 L107.7,300.6 L108.1,307.62 L108.48,314.06 L108.83,319.37 L109.14,322.97 L109.4,324.3 L109.64,324.11 L109.91,323.56 L110.21,322.7 L110.52,321.54 L110.86,320.13 L111.21,318.5 L111.58,316.68 L111.96,314.71 L112.35,312.62 L112.75,310.45 L113.15,308.22 L113.55,305.98 L113.95,303.75 L114.35,301.58 L114.74,299.49 L115.12,297.52 L115.49,295.7 L115.84,294.07 L116.18,292.66 L116.49,291.5 L116.79,290.64 L117.06,290.09 L117.3,289.9 L117.55,290.46 L117.84,292.02 L118.17,294.37 L118.53,297.31 L118.91,300.66 L119.3,304.2 L119.69,307.74 L120.07,311.09 L120.43,314.03 L120.76,316.38 L121.05,317.94 L121.3,318.5 L121.53,318.38 L121.79,318.05 L122.08,317.51 L122.38,316.8 L122.7,315.92 L123.05,314.91 L123.4,313.77 L123.77,312.54 L124.14,311.22 L124.52,309.85 L124.91,308.43 L125.3,307 L125.69,305.57 L126.08,304.15 L126.46,302.78 L126.83,301.46 L127.2,300.23 L127.56,299.09 L127.9,298.08 L128.22,297.2 L128.52,296.49 L128.81,295.95 L129.07,295.62 L129.3,295.5 L129.55,295.71 L129.84,296.3 L130.17,297.2 L130.53,298.35 L130.91,299.7 L131.3,301.17 L131.7,302.7 L132.1,304.23 L132.49,305.7 L132.87,307.05 L133.23,308.2 L133.56,309.1 L133.85,309.69 L134.1,309.9 L134.33,309.83 L134.59,309.63 L134.88,309.31 L135.18,308.88 L135.5,308.35 L135.84,307.74 L136.2,307.06 L136.57,306.32 L136.94,305.53 L137.32,304.71 L137.71,303.86 L138.1,303 L138.49,302.14 L138.88,301.29 L139.26,300.47 L139.63,299.68 L140,298.94 L140.36,298.26 L140.7,297.65 L141.02,297.12 L141.32,296.69 L141.61,296.37 L141.87,296.17 L142.1,296.1 L142.34,296.19 L142.63,296.45 L142.94,296.86 L143.28,297.39 L143.64,298.02 L144.01,298.73 L144.4,299.49 L144.8,300.29 L145.2,301.11 L145.6,301.91 L145.99,302.67 L146.36,303.38 L146.72,304.01 L147.06,304.54 L147.37,304.95 L147.66,305.21 L147.9,305.3 L148.14,305.2 L148.42,304.92 L148.72,304.49 L149.06,303.93 L149.41,303.26 L149.78,302.5 L150.16,301.68 L150.55,300.83 L150.95,299.97 L151.34,299.12 L151.72,298.3 L152.09,297.54 L152.44,296.87 L152.78,296.31 L153.08,295.88 L153.36,295.6 L153.6,295.5 L153.85,295.58 L154.13,295.81 L154.45,296.18 L154.8,296.65 L155.16,297.21 L155.55,297.84 L155.94,298.53 L156.35,299.24 L156.75,299.96 L157.16,300.67 L157.55,301.36 L157.94,301.99 L158.3,302.55 L158.65,303.02 L158.97,303.39 L159.25,303.62 L159.5,303.7 L159.75,303.63 L160.03,303.44 L160.34,303.14 L160.68,302.74 L161.03,302.27 L161.41,301.73 L161.8,301.15 L162.2,300.53 L162.6,299.9 L163,299.27 L163.4,298.65 L163.79,298.07 L164.17,297.53 L164.52,297.06 L164.86,296.66 L165.17,296.36 L165.45,296.17 L165.7,296.1 L165.95,296.16 L166.23,296.34 L166.54,296.61 L166.88,296.97 L167.23,297.4 L167.61,297.89 L168,298.42 L168.4,298.98 L168.8,299.55 L169.2,300.12 L169.6,300.68 L169.99,301.21 L170.37,301.7 L170.72,302.13 L171.06,302.49 L171.37,302.76 L171.65,302.94 L171.9,303 L172.14,302.94 L172.42,302.79 L172.72,302.54 L173.06,302.22 L173.41,301.83 L173.78,301.39 L174.16,300.92 L174.55,300.41 L174.95,299.9 L175.35,299.39 L175.74,298.88 L176.12,298.41 L176.49,297.97 L176.84,297.58 L177.18,297.26 L177.48,297.01 L177.76,296.86 L178,296.8 L178.24,296.84 L178.52,296.95 L178.83,297.13 L179.15,297.37 L179.51,297.66 L179.87,297.99 L180.25,298.35 L180.65,298.74 L181.05,299.14 L181.45,299.55 L181.85,299.96 L182.25,300.36 L182.65,300.75 L183.03,301.11 L183.39,301.44 L183.75,301.73 L184.07,301.97 L184.38,302.15 L184.66,302.26 L184.9,302.3 L185.14,302.27 L185.41,302.2 L185.71,302.09 L186.04,301.93 L186.38,301.75 L186.75,301.54 L187.12,301.32 L187.51,301.08 L187.9,300.83 L188.3,300.57 L188.69,300.32 L189.08,300.08 L189.45,299.86 L189.82,299.65 L190.16,299.47 L190.49,299.31 L190.79,299.2 L191.06,299.13 L191.3,299.1 L191.54,299.13 L191.81,299.21 L192.11,299.33 L192.44,299.5 L192.78,299.7 L193.15,299.93 L193.52,300.18 L193.91,300.44 L194.3,300.71 L194.7,300.99 L195.09,301.26 L195.48,301.52 L195.85,301.77 L196.22,302 L196.56,302.2 L196.89,302.37 L197.19,302.49 L197.46,302.57 L197.7,302.6 L197.95,302.57 L198.24,302.5 L198.55,302.38 L198.89,302.22 L199.26,302.03 L199.64,301.82 L200.04,301.59 L200.44,301.35 L200.85,301.1 L201.26,300.85 L201.66,300.61 L202.06,300.38 L202.44,300.17 L202.81,299.98 L203.15,299.82 L203.46,299.7 L203.75,299.63 L204,299.6 L204.24,299.62 L204.51,299.67 L204.81,299.75 L205.14,299.85 L205.48,299.98 L205.85,300.12 L206.23,300.27 L206.61,300.43 L207,300.6 L207.39,300.77 L207.77,300.93 L208.15,301.08 L208.52,301.22 L208.86,301.35 L209.19,301.45 L209.49,301.53 L209.76,301.58 L210,301.6 L210.24,301.58 L210.51,301.52 L210.81,301.44 L211.14,301.32 L211.48,301.19 L211.85,301.03 L212.23,300.86 L212.61,300.68 L213,300.5 L213.39,300.32 L213.77,300.14 L214.15,299.97 L214.52,299.81 L214.86,299.68 L215.19,299.56 L215.49,299.48 L215.76,299.42 L216,299.4 L216.25,299.42 L216.53,299.47 L216.85,299.55 L217.2,299.65 L217.57,299.77 L217.95,299.91 L218.35,300.05 L218.75,300.2 L219.15,300.35 L219.55,300.49 L219.93,300.63 L220.3,300.75 L220.65,300.85 L220.97,300.93 L221.25,300.98 L221.5,301 L221.74,300.99 L222.02,300.95 L222.33,300.89 L222.66,300.81 L223.01,300.71 L223.38,300.6 L223.76,300.48 L224.15,300.35 L224.55,300.22 L224.95,300.08 L225.35,299.95 L225.74,299.82 L226.12,299.7 L226.49,299.59 L226.84,299.49 L227.17,299.41 L227.48,299.35 L227.76,299.31 L228,299.3 L228.24,299.31 L228.5,299.33 L228.79,299.37 L229.11,299.42 L229.44,299.49 L229.79,299.56 L230.16,299.64 L230.53,299.72 L230.92,299.81 L231.31,299.9 L231.69,300 L232.08,300.09 L232.47,300.18 L232.84,300.26 L233.21,300.34 L233.56,300.41 L233.89,300.48 L234.21,300.53 L234.5,300.57 L234.76,300.59 L235,300.6 L235.24,300.59 L235.5,300.57 L235.79,300.54 L236.11,300.5 L236.44,300.44 L236.79,300.38 L237.16,300.31 L237.53,300.24 L237.92,300.17 L238.31,300.09 L238.69,300.01 L239.08,299.93 L239.47,299.86 L239.84,299.79 L240.21,299.72 L240.56,299.66 L240.89,299.6 L241.21,299.56 L241.5,299.53 L241.76,299.51 L242,299.5 L242.23,299.5 L242.49,299.51 L242.78,299.53 L243.08,299.55 L243.4,299.58 L243.75,299.61 L244.1,299.64 L244.47,299.68 L244.84,299.72 L245.22,299.76 L245.61,299.81 L246,299.85 L246.39,299.89 L246.78,299.94 L247.16,299.98 L247.53,300.02 L247.9,300.06 L248.25,300.09 L248.6,300.12 L248.92,300.15 L249.22,300.17 L249.51,300.19 L249.77,300.2 L250,300.2 L250.23,300.2 L250.49,300.19 L250.78,300.17 L251.08,300.16 L251.4,300.13 L251.75,300.11 L252.1,300.08 L252.47,300.04 L252.84,300.01 L253.22,299.97 L253.61,299.94 L254,299.9 L254.39,299.86 L254.78,299.83 L255.16,299.79 L255.53,299.76 L255.9,299.72 L256.25,299.69 L256.6,299.67 L256.92,299.64 L257.22,299.63 L257.51,299.61 L257.77,299.6 L258,299.6 L258.23,299.6 L258.48,299.6 L258.74,299.61 L259.02,299.61 L259.31,299.62 L259.62,299.63 L259.94,299.64 L260.27,299.65 L260.62,299.66 L260.97,299.68 L261.33,299.69 L261.7,299.7 L262.07,299.72 L262.45,299.73 L262.83,299.75 L263.22,299.77 L263.61,299.78 L264,299.8 L264.39,299.82 L264.78,299.83 L265.17,299.85 L265.55,299.87 L265.93,299.88 L266.3,299.9 L266.67,299.91 L267.03,299.92 L267.38,299.94 L267.73,299.95 L268.06,299.96 L268.38,299.97 L268.69,299.98 L268.98,299.99 L269.26,299.99 L269.52,300 L269.77,300 L270,300 L270.22,300 L270.45,300 L270.69,300 L270.94,300 L271.19,300 L271.45,299.99 L271.72,299.99 L271.99,299.99 L272.27,299.99 L272.55,299.99 L272.84,299.98 L273.14,299.98 L273.44,299.98 L273.74,299.97 L274.06,299.97 L274.37,299.97 L274.69,299.96 L275.02,299.96 L275.35,299.95 L275.69,299.95 L276.03,299.94 L276.37,299.94 L276.72,299.93 L277.07,299.93 L277.42,299.92 L277.78,299.92 L278.14,299.91 L278.51,299.91 L278.87,299.9 L279.24,299.9 L279.62,299.89 L279.99,299.88 L280.37,299.88 L280.75,299.87 L281.13,299.87 L281.51,299.86 L281.89,299.85 L282.28,299.85 L282.67,299.84 L283.05,299.83 L283.44,299.83 L283.83,299.82 L284.22,299.81 L284.61,299.81 L285,299.8 L285.39,299.79 L285.78,299.79 L286.17,299.78 L286.56,299.77 L286.95,299.77 L287.33,299.76 L287.72,299.75 L288.11,299.75 L288.49,299.74 L288.87,299.73 L289.25,299.73 L289.63,299.72 L290.01,299.72 L290.38,299.71 L290.76,299.7 L291.13,299.7 L291.49,299.69 L291.86,299.69 L292.22,299.68 L292.58,299.68 L292.93,299.67 L293.28,299.67 L293.63,299.66 L293.97,299.66 L294.31,299.65 L294.65,299.65 L294.98,299.64 L295.31,299.64 L295.63,299.63 L295.94,299.63 L296.26,299.63 L296.56,299.62 L296.86,299.62 L297.16,299.62 L297.45,299.61 L297.73,299.61 L298.01,299.61 L298.28,299.61 L298.55,299.61 L298.81,299.6 L299.06,299.6 L299.31,299.6 L299.55,299.6 L299.78,299.6 L300,299.6 L300.22,299.6 L300.46,299.6 L300.7,299.6 L300.94,299.6 L301.2,299.6 L301.46,299.6 L301.73,299.6 L302.01,299.61 L302.29,299.61 L302.59,299.61 L302.88,299.61 L303.18,299.61 L303.49,299.61 L303.81,299.62 L304.13,299.62 L304.45,299.62 L304.78,299.62 L305.12,299.63 L305.46,299.63 L305.8,299.63 L306.15,299.63 L306.5,299.64 L306.86,299.64 L307.22,299.64 L307.58,299.65 L307.95,299.65 L308.32,299.65 L308.69,299.66 L309.07,299.66 L309.44,299.66 L309.82,299.67 L310.21,299.67 L310.59,299.67 L310.97,299.68 L311.36,299.68 L311.75,299.68 L312.14,299.69 L312.53,299.69 L312.92,299.69 L313.31,299.7 L313.69,299.7 L314.08,299.71 L314.47,299.71 L314.86,299.71 L315.25,299.72 L315.64,299.72 L316.03,299.72 L316.41,299.73 L316.79,299.73 L317.18,299.73 L317.56,299.74 L317.93,299.74 L318.31,299.74 L318.68,299.75 L319.05,299.75 L319.42,299.75 L319.78,299.76 L320.14,299.76 L320.5,299.76 L320.85,299.77 L321.2,299.77 L321.54,299.77 L321.88,299.77 L322.22,299.78 L322.55,299.78 L322.87,299.78 L323.19,299.78 L323.51,299.79 L323.82,299.79 L324.12,299.79 L324.41,299.79 L324.71,299.79 L324.99,299.79 L325.27,299.8 L325.54,299.8 L325.8,299.8 L326.06,299.8 L326.3,299.8 L326.54,299.8 L326.78,299.8 L327,299.8" fill="none" stroke="#ff1a1a" stroke-width="1.35" stroke-linejoin="round" />
<text transform="translate(1,12.3) scale(1,1.08)" font-size="13.5" font-weight="bold">(a)</text>
<text x="50.3" y="11" font-size="12.5" text-anchor="end" font-weight="normal" fill="#000" >1</text>
<text x="45" y="51" font-size="12.5" text-anchor="end" font-weight="normal" fill="#000" >10</text>
<text x="45.2" y="42.8" font-size="9" text-anchor="start" font-weight="normal" fill="#000" >-1</text>
<text x="45" y="88.6" font-size="12.5" text-anchor="end" font-weight="normal" fill="#000" >10</text>
<text x="45.2" y="80.4" font-size="9" text-anchor="start" font-weight="normal" fill="#000" >-2</text>
<text x="45" y="126.2" font-size="12.5" text-anchor="end" font-weight="normal" fill="#000" >10</text>
<text x="45.2" y="118" font-size="9" text-anchor="start" font-weight="normal" fill="#000" >-3</text>
<text x="45" y="163.8" font-size="12.5" text-anchor="end" font-weight="normal" fill="#000" >10</text>
<text x="45.2" y="155.6" font-size="9" text-anchor="start" font-weight="normal" fill="#000" >-4</text>
<text x="45" y="201.4" font-size="12.5" text-anchor="end" font-weight="normal" fill="#000" >10</text>
<text x="45.2" y="193.2" font-size="9" text-anchor="start" font-weight="normal" fill="#000" >-5</text>
<text transform="translate(22.8,107) rotate(-90)" font-size="14" text-anchor="middle">Normalized reflectivity</text>
<text transform="translate(86,170) scale(1,1.08)" font-size="13.5" font-weight="bold">5 K</text>
<line x1="195.7" y1="36.9" x2="221.4" y2="36.9" stroke="#000" stroke-width="1.3" />
<circle cx="208.5" cy="36.9" r="2.1" fill="#000"/>
<text x="228" y="40.7" font-size="11" text-anchor="start" font-weight="normal" fill="#000" >spin up - data</text>
<line x1="195.7" y1="50.4" x2="221.4" y2="50.4" stroke="#ff0000" stroke-width="1.3" />
<circle cx="208.5" cy="50.4" r="2.1" fill="#ff0000"/>
<text x="228" y="54.2" font-size="11" text-anchor="start" font-weight="normal" fill="#000" >spin down - data</text>
<line x1="195.7" y1="63.9" x2="221.4" y2="63.9" stroke="#27278f" stroke-width="1.6" />
<text x="228" y="67.7" font-size="11" text-anchor="start" font-weight="normal" fill="#000" >spin up - fit</text>
<line x1="195.7" y1="77.4" x2="221.4" y2="77.4" stroke="#ff80c0" stroke-width="1.3" />
<text x="228" y="81.2" font-size="11" text-anchor="start" font-weight="normal" fill="#000" >spin down - fit</text>
<text transform="translate(1,218.5) scale(1,1.08)" font-size="13.5" font-weight="bold">(b)</text>
<text transform="translate(95.5,229.6) scale(1,1.08)" font-size="13.5" font-weight="bold">5 K</text>
<text x="50.8" y="246.2" font-size="12.5" text-anchor="end" font-weight="normal" fill="#000" >0.2</text>
<text x="50.8" y="280" font-size="12.5" text-anchor="end" font-weight="normal" fill="#000" >0.1</text>
<text x="50.8" y="313.8" font-size="12.5" text-anchor="end" font-weight="normal" fill="#000" >0.0</text>
<text x="50.8" y="347.6" font-size="12.5" text-anchor="end" font-weight="normal" fill="#000" >-0.1</text>
<text x="50.8" y="381.4" font-size="12.5" text-anchor="end" font-weight="normal" fill="#000" >-0.2</text>
<text transform="translate(16.8,309.5) rotate(-90)" font-size="14" text-anchor="middle">Spin asymmetry</text>
<text x="82.15" y="407.1" font-size="12.5" text-anchor="middle" font-weight="normal" fill="#000" >0.02</text>
<text x="132.46" y="407.1" font-size="12.5" text-anchor="middle" font-weight="normal" fill="#000" >0.04</text>
<text x="182.77" y="407.1" font-size="12.5" text-anchor="middle" font-weight="normal" fill="#000" >0.06</text>
<text x="233.08" y="407.1" font-size="12.5" text-anchor="middle" font-weight="normal" fill="#000" >0.08</text>
<text x="283.39" y="407.1" font-size="12.5" text-anchor="middle" font-weight="normal" fill="#000" >0.10</text>
<text x="333.7" y="407.1" font-size="12.5" text-anchor="middle" font-weight="normal" fill="#000" >0.12</text>
<text x="195.7" y="428.6" font-size="14" text-anchor="middle" font-weight="normal" fill="#000" >Q (1/Å)</text>
<rect x="56" y="437.9" width="10.4" height="102.5" fill="#909095" />
<rect x="66.4" y="437.9" width="37.1" height="102.5" fill="#fff7b2" />
<rect x="297.4" y="437.9" width="24.1" height="102.5" fill="#e6e6e6" />
<line x1="66.4" y1="438.9" x2="66.4" y2="540.4" stroke="#000" stroke-width="1.3" stroke-dasharray="1.25 1.6"/>
<line x1="103.5" y1="438.9" x2="103.5" y2="540.4" stroke="#000" stroke-width="1.3" stroke-dasharray="1.25 1.6"/>
<line x1="297.4" y1="438.9" x2="297.4" y2="540.4" stroke="#000" stroke-width="1.3" stroke-dasharray="1.25 1.6"/>
<line x1="321.5" y1="438.9" x2="321.5" y2="540.4" stroke="#000" stroke-width="1.3" stroke-dasharray="1.25 1.6"/>
<path d="M67,494 L67.04,494.53 L67.08,495.21 L67.14,496.02 L67.2,496.94 L67.27,497.92 L67.34,498.95 L67.42,499.98 L67.5,501 L67.58,502.05 L67.67,503.19 L67.77,504.38 L67.87,505.59 L67.97,506.79 L68.08,507.94 L68.19,509.02 L68.3,510 L68.41,510.89 L68.52,511.73 L68.64,512.52 L68.76,513.26 L68.88,513.94 L69.01,514.55 L69.15,515.11 L69.3,515.6 L69.36,516.01 L69.27,516.34 L69.14,516.59 L69.04,516.79 L69.07,516.95 L69.31,517.08 L69.86,517.19 L70.8,517.3 L72.27,517.39 L74.24,517.43 L76.55,517.43 L79.06,517.42 L81.61,517.4 L84.05,517.38 L86.23,517.37 L88,517.4 L89.36,517.45 L90.47,517.51 L91.37,517.58 L92.14,517.66 L92.82,517.74 L93.49,517.82 L94.19,517.91 L95,518 L95.88,518.09 L96.75,518.19 L97.62,518.29 L98.5,518.4 L99.38,518.51 L100.25,518.61 L101.12,518.71 L102,518.8 L102.88,518.89 L103.75,518.97 L104.62,519.05 L105.5,519.12 L106.38,519.2 L107.25,519.27 L108.12,519.34 L109,519.4 L109.87,519.46 L110.73,519.52 L111.58,519.58 L112.44,519.63 L113.3,519.68 L114.18,519.73 L115.08,519.77 L116,519.8 L116.9,519.83 L117.74,519.85 L118.58,519.86 L119.44,519.88 L120.37,519.88 L121.41,519.89 L122.61,519.89 L124,519.9 L125.04,519.91 L125.47,519.91 L125.72,519.92 L126.25,519.92 L127.5,519.92 L129.91,519.92 L133.93,519.91 L140,519.9 L148.96,519.89 L160.73,519.87 L174.42,519.85 L189.12,519.83 L203.94,519.8 L217.95,519.77 L230.28,519.74 L240,519.7 L247.2,519.67 L252.77,519.64 L257.04,519.6 L260.31,519.57 L262.92,519.52 L265.2,519.47 L267.45,519.39 L270,519.3 L272.59,519.18 L274.8,519.04 L276.72,518.87 L278.44,518.7 L280.03,518.52 L281.6,518.34 L283.23,518.16 L285,518 L286.83,517.84 L288.61,517.67 L290.36,517.51 L292.12,517.34 L293.94,517.19 L295.83,517.04 L297.84,516.91 L300,516.8 L302.48,516.71 L305.32,516.63 L308.36,516.57 L311.44,516.52 L314.4,516.49 L317.09,516.45 L319.34,516.43 L321,516.4" fill="none" stroke="#2b3398" stroke-width="1.5" stroke-linejoin="round" />
<path d="M67,494 L67.04,494.53 L67.08,495.21 L67.14,496.02 L67.2,496.94 L67.27,497.92 L67.34,498.95 L67.42,499.98 L67.5,501 L67.58,502.05 L67.67,503.19 L67.77,504.38 L67.87,505.59 L67.97,506.79 L68.08,507.94 L68.19,509.02 L68.3,510 L68.41,510.89 L68.52,511.73 L68.64,512.52 L68.76,513.26 L68.88,513.94 L69.01,514.55 L69.15,515.11 L69.3,515.6 L69.36,516.01 L69.27,516.34 L69.14,516.6 L69.04,516.8 L69.07,516.96 L69.31,517.09 L69.86,517.2 L70.8,517.3 L72.27,517.39 L74.24,517.44 L76.55,517.46 L79.06,517.46 L81.61,517.43 L84.05,517.4 L86.23,517.35 L88,517.3 L89.36,517.25 L90.47,517.18 L91.37,517.1 L92.14,517.01 L92.82,516.91 L93.49,516.79 L94.19,516.65 L95,516.5 L95.88,516.32 L96.75,516.13 L97.62,515.91 L98.5,515.68 L99.38,515.44 L100.25,515.19 L101.12,514.95 L102,514.7 L102.88,514.45 L103.75,514.18 L104.62,513.9 L105.5,513.62 L106.38,513.34 L107.25,513.08 L108.12,512.83 L109,512.6 L109.87,512.39 L110.73,512.2 L111.58,512.02 L112.44,511.85 L113.3,511.69 L114.18,511.55 L115.08,511.42 L116,511.3 L116.9,511.2 L117.74,511.11 L118.58,511.04 L119.44,510.98 L120.37,510.92 L121.41,510.88 L122.61,510.84 L124,510.8 L125.04,510.77 L125.47,510.75 L125.72,510.73 L126.25,510.72 L127.5,510.72 L129.91,510.72 L133.93,510.71 L140,510.7 L148.96,510.69 L160.73,510.68 L174.42,510.67 L189.12,510.66 L203.94,510.65 L217.95,510.64 L230.28,510.62 L240,510.6 L247.2,510.58 L252.77,510.55 L257.04,510.53 L260.31,510.5 L262.92,510.47 L265.2,510.42 L267.45,510.37 L270,510.3 L272.59,510.22 L274.8,510.11 L276.72,510 L278.44,509.88 L280.03,509.76 L281.6,509.63 L283.23,509.51 L285,509.4 L286.83,509.29 L288.61,509.18 L290.36,509.07 L292.12,508.96 L293.94,508.85 L295.83,508.76 L297.84,508.67 L300,508.6 L302.48,508.54 L305.32,508.5 L308.36,508.47 L311.44,508.45 L314.4,508.43 L317.09,508.42 L319.34,508.41 L321,508.4" fill="none" stroke="#ee2028" stroke-width="1.5" stroke-linejoin="round" />
<path d="M57,453.8 L57.37,453.8 L57.88,453.79 L58.5,453.78 L59.17,453.78 L59.85,453.78 L60.49,453.82 L61.06,453.89 L61.5,454 L61.82,454.14 L62.06,454.3 L62.24,454.49 L62.38,454.7 L62.49,454.95 L62.59,455.25 L62.68,455.59 L62.8,456 L62.93,456.47 L63.04,456.99 L63.15,457.57 L63.24,458.19 L63.34,458.85 L63.43,459.54 L63.51,460.26 L63.6,461 L63.69,461.78 L63.77,462.61 L63.85,463.48 L63.93,464.38 L64,465.29 L64.07,466.2 L64.14,467.11 L64.2,468 L64.26,468.92 L64.32,469.91 L64.38,470.93 L64.44,471.94 L64.49,472.89 L64.53,473.74 L64.57,474.46 L64.6,475" fill="none" stroke="#ee2028" stroke-width="1.5" stroke-linejoin="round" />
<rect x="56.0" y="437.9" width="277.2" height="102.5" fill="none" stroke="#000" stroke-width="1.4"/>
<line x1="66" y1="540.4" x2="66" y2="536.4" stroke="#000" stroke-width="1" />
<line x1="66" y1="437.9" x2="66" y2="440.9" stroke="#000" stroke-width="1" />
<line x1="86.55" y1="540.4" x2="86.55" y2="537.9" stroke="#000" stroke-width="1" />
<line x1="86.55" y1="437.9" x2="86.55" y2="440.9" stroke="#000" stroke-width="1" />
<line x1="107.1" y1="540.4" x2="107.1" y2="536.4" stroke="#000" stroke-width="1" />
<line x1="107.1" y1="437.9" x2="107.1" y2="440.9" stroke="#000" stroke-width="1" />
<line x1="127.65" y1="540.4" x2="127.65" y2="537.9" stroke="#000" stroke-width="1" />
<line x1="127.65" y1="437.9" x2="127.65" y2="440.9" stroke="#000" stroke-width="1" />
<line x1="148.2" y1="540.4" x2="148.2" y2="536.4" stroke="#000" stroke-width="1" />
<line x1="148.2" y1="437.9" x2="148.2" y2="440.9" stroke="#000" stroke-width="1" />
<line x1="168.75" y1="540.4" x2="168.75" y2="537.9" stroke="#000" stroke-width="1" />
<line x1="168.75" y1="437.9" x2="168.75" y2="440.9" stroke="#000" stroke-width="1" />
<line x1="189.3" y1="540.4" x2="189.3" y2="536.4" stroke="#000" stroke-width="1" />
<line x1="189.3" y1="437.9" x2="189.3" y2="440.9" stroke="#000" stroke-width="1" />
<line x1="209.85" y1="540.4" x2="209.85" y2="537.9" stroke="#000" stroke-width="1" />
<line x1="209.85" y1="437.9" x2="209.85" y2="440.9" stroke="#000" stroke-width="1" />
<line x1="230.4" y1="540.4" x2="230.4" y2="536.4" stroke="#000" stroke-width="1" />
<line x1="230.4" y1="437.9" x2="230.4" y2="440.9" stroke="#000" stroke-width="1" />
<line x1="250.95" y1="540.4" x2="250.95" y2="537.9" stroke="#000" stroke-width="1" />
<line x1="250.95" y1="437.9" x2="250.95" y2="440.9" stroke="#000" stroke-width="1" />
<line x1="271.5" y1="540.4" x2="271.5" y2="536.4" stroke="#000" stroke-width="1" />
<line x1="271.5" y1="437.9" x2="271.5" y2="440.9" stroke="#000" stroke-width="1" />
<line x1="292.05" y1="540.4" x2="292.05" y2="537.9" stroke="#000" stroke-width="1" />
<line x1="292.05" y1="437.9" x2="292.05" y2="440.9" stroke="#000" stroke-width="1" />
<line x1="312.6" y1="540.4" x2="312.6" y2="536.4" stroke="#000" stroke-width="1" />
<line x1="312.6" y1="437.9" x2="312.6" y2="440.9" stroke="#000" stroke-width="1" />
<line x1="333.15" y1="540.4" x2="333.15" y2="537.9" stroke="#000" stroke-width="1" />
<line x1="333.15" y1="437.9" x2="333.15" y2="440.9" stroke="#000" stroke-width="1" />
<line x1="56" y1="453.3" x2="60.5" y2="453.3" stroke="#000" stroke-width="1" />
<line x1="333.2" y1="453.3" x2="328.7" y2="453.3" stroke="#000" stroke-width="1" />
<line x1="56" y1="462.9" x2="58.5" y2="462.9" stroke="#000" stroke-width="1" />
<line x1="333.2" y1="462.9" x2="330.7" y2="462.9" stroke="#000" stroke-width="1" />
<line x1="56" y1="493.8" x2="58.5" y2="493.8" stroke="#000" stroke-width="1" />
<line x1="333.2" y1="493.8" x2="330.7" y2="493.8" stroke="#000" stroke-width="1" />
<line x1="56" y1="509.3" x2="60.5" y2="509.3" stroke="#000" stroke-width="1" />
<line x1="333.2" y1="509.3" x2="328.7" y2="509.3" stroke="#000" stroke-width="1" />
<line x1="56" y1="524.8" x2="58.5" y2="524.8" stroke="#000" stroke-width="1" />
<line x1="333.2" y1="524.8" x2="330.7" y2="524.8" stroke="#000" stroke-width="1" />
<polygon points="54.4,480.7 57.6,479.5 57.6,486.5 54.4,487.7" fill="#fff"/>
<line x1="48.8" y1="482.4" x2="62.8" y2="477.2" stroke="#000" stroke-width="1.2" />
<line x1="48.8" y1="489.4" x2="62.8" y2="484.2" stroke="#000" stroke-width="1.2" />
<polygon points="331.6,480.7 334.8,479.5 334.8,486.5 331.6,487.7" fill="#fff"/>
<line x1="326" y1="482.4" x2="340" y2="477.2" stroke="#000" stroke-width="1.2" />
<line x1="326" y1="489.4" x2="340" y2="484.2" stroke="#000" stroke-width="1.2" />
<text transform="translate(1,448.6) scale(1,1.08)" font-size="13.5" font-weight="bold">(c)</text>
<text x="51.6" y="458" font-size="12.5" text-anchor="end" font-weight="normal" fill="#000" >0.55</text>
<text x="51.6" y="513.8" font-size="12.5" text-anchor="end" font-weight="normal" fill="#000" >0.30</text>
<text x="51.6" y="544.8" font-size="12.5" text-anchor="end" font-weight="normal" fill="#000" >0.25</text>
<text transform="translate(15.3,489) rotate(-90)" font-size="15" text-anchor="middle">SLD</text>
<text x="66.5" y="557.8" font-size="12.5" text-anchor="middle" font-weight="normal" fill="#000" >0</text>
<text x="107.6" y="557.8" font-size="12.5" text-anchor="middle" font-weight="normal" fill="#000" >200</text>
<text x="148.7" y="557.8" font-size="12.5" text-anchor="middle" font-weight="normal" fill="#000" >400</text>
<text x="189.8" y="557.8" font-size="12.5" text-anchor="middle" font-weight="normal" fill="#000" >600</text>
<text x="230.9" y="557.8" font-size="12.5" text-anchor="middle" font-weight="normal" fill="#000" >800</text>
<text x="272" y="557.8" font-size="12.5" text-anchor="middle" font-weight="normal" fill="#000" >1000</text>
<text x="313.1" y="557.8" font-size="12.5" text-anchor="middle" font-weight="normal" fill="#000" >1200</text>
<text x="195.3" y="576.2" font-size="14" text-anchor="middle" font-weight="normal" fill="#000" >Film thickness (Å)</text>
<text x="69.5" y="461.9" font-size="10.8" text-anchor="start" font-weight="normal" fill="#000" >Bi<tspan font-size="7.5" dy="3">2</tspan><tspan dy="-3">Se</tspan><tspan font-size="7.5" dy="3">3</tspan></text>
<text x="160.2" y="462.5" font-size="10.8" text-anchor="start" font-weight="normal" fill="#000" >Cr-doped Bi<tspan font-size="7.5" dy="3">2</tspan><tspan dy="-3">Se</tspan><tspan font-size="7.5" dy="3">3</tspan></text>
<text x="277" y="462" font-size="10.8" text-anchor="start" font-weight="normal" fill="#000" >Cr<tspan font-size="7.5" dy="3">x</tspan></text>
<text x="302" y="462" font-size="10.8" text-anchor="start" font-weight="normal" fill="#000" >Cr<tspan font-size="7.5" dy="3">y</tspan></text>
<line x1="205" y1="486.5" x2="230.3" y2="486.5" stroke="#2b3398" stroke-width="1.4" />
<line x1="205" y1="499.7" x2="230.3" y2="499.7" stroke="#ee2028" stroke-width="1.4" />
<text x="233.3" y="490.2" font-size="10.8" text-anchor="start" font-weight="normal" fill="#000" >5K SLD +</text>
<text x="233.3" y="503.4" font-size="10.8" text-anchor="start" font-weight="normal" fill="#000" >5K SLD -</text>
<path d="M56,694.8 L333,694.8" fill="none" stroke="#1e1e1e" stroke-width="1.25" stroke-linejoin="round" />
<path d="M56,694.7 L56.35,694.7 L56.7,694.7 L57.04,694.7 L57.38,694.7 L57.73,694.7 L58.07,694.7 L58.4,694.7 L58.74,694.7 L59.08,694.7 L59.41,694.7 L59.74,694.7 L60.07,694.7 L60.41,694.7 L60.74,694.7 L61.06,694.7 L61.39,694.7 L61.72,694.7 L62.05,694.7 L62.37,694.7 L62.7,694.7 L63.02,694.7 L63.35,694.7 L63.67,694.7 L64,694.7 L64.33,694.7 L64.65,694.7 L64.98,694.7 L65.3,694.7 L65.63,694.7 L65.95,694.7 L66.28,694.7 L66.61,694.7 L66.94,694.7 L67.26,694.7 L67.59,694.7 L67.93,694.7 L68.26,694.7 L68.59,694.7 L68.92,694.7 L69.26,694.7 L69.6,694.7 L69.93,694.7 L70.27,694.7 L70.62,694.7 L70.96,694.7 L71.3,694.7 L71.65,694.7 L72,694.7 L72.35,694.7 L72.7,694.71 L73.04,694.72 L73.39,694.74 L73.73,694.77 L74.07,694.8 L74.41,694.83 L74.74,694.87 L75.08,694.91 L75.41,694.95 L75.75,695 L76.08,695.05 L76.41,695.1 L76.74,695.16 L77.07,695.22 L77.4,695.28 L77.73,695.35 L78.06,695.41 L78.38,695.48 L78.71,695.55 L79.04,695.62 L79.36,695.69 L79.69,695.77 L80.01,695.84 L80.34,695.91 L80.66,695.99 L80.99,696.06 L81.31,696.13 L81.64,696.21 L81.96,696.28 L82.29,696.35 L82.62,696.42 L82.94,696.49 L83.27,696.55 L83.6,696.62 L83.93,696.68 L84.26,696.74 L84.59,696.8 L84.92,696.85 L85.25,696.9 L85.59,696.95 L85.92,696.99 L86.26,697.03 L86.59,697.07 L86.93,697.1 L87.27,697.13 L87.61,697.16 L87.96,697.18 L88.3,697.19 L88.65,697.2 L89,697.2 L89.35,697.2 L89.7,697.19 L90.05,697.18 L90.39,697.17 L90.74,697.15 L91.08,697.13 L91.43,697.1 L91.77,697.07 L92.11,697.04 L92.45,697 L92.79,696.96 L93.13,696.92 L93.47,696.87 L93.81,696.82 L94.15,696.77 L94.48,696.71 L94.82,696.65 L95.15,696.59 L95.49,696.53 L95.82,696.46 L96.15,696.39 L96.49,696.32 L96.82,696.25 L97.15,696.17 L97.48,696.09 L97.81,696.01 L98.14,695.93 L98.47,695.84 L98.8,695.76 L99.13,695.67 L99.46,695.58 L99.79,695.49 L100.11,695.4 L100.44,695.3 L100.77,695.21 L101.09,695.11 L101.42,695.01 L101.75,694.92 L102.07,694.82 L102.4,694.72 L102.72,694.62 L103.05,694.52 L103.37,694.41 L103.7,694.31 L104.02,694.21 L104.35,694.11 L104.67,694 L105,693.9 L105.33,693.8 L105.65,693.69 L105.98,693.59 L106.3,693.49 L106.63,693.39 L106.95,693.28 L107.28,693.18 L107.6,693.08 L107.93,692.98 L108.25,692.88 L108.58,692.79 L108.91,692.69 L109.23,692.59 L109.56,692.5 L109.89,692.4 L110.21,692.31 L110.54,692.22 L110.87,692.13 L111.2,692.04 L111.53,691.96 L111.86,691.87 L112.19,691.79 L112.52,691.71 L112.85,691.63 L113.18,691.55 L113.51,691.48 L113.85,691.41 L114.18,691.34 L114.51,691.27 L114.85,691.21 L115.18,691.15 L115.52,691.09 L115.85,691.03 L116.19,690.98 L116.53,690.93 L116.87,690.88 L117.21,690.84 L117.55,690.8 L117.89,690.76 L118.23,690.73 L118.57,690.7 L118.92,690.67 L119.26,690.65 L119.61,690.63 L119.95,690.62 L120.3,690.61 L120.65,690.6 L121,690.6 L121.35,690.61 L121.7,690.66 L122.05,690.72 L122.4,690.82 L122.74,690.93 L123.08,691.07 L123.42,691.23 L123.76,691.4 L124.1,691.6 L124.44,691.8 L124.77,692.02 L125.1,692.26 L125.43,692.5 L125.77,692.75 L126.1,693.01 L126.43,693.28 L126.76,693.54 L127.09,693.81 L127.41,694.09 L127.74,694.36 L128.07,694.62 L128.4,694.89 L128.73,695.15 L129.07,695.4 L129.4,695.64 L129.73,695.88 L130.06,696.1 L130.4,696.3 L130.74,696.5 L131.08,696.67 L131.42,696.83 L131.76,696.97 L132.1,697.08 L132.45,697.18 L132.8,697.24 L133.15,697.29 L133.5,697.3 L133.85,697.3 L134.2,697.29 L134.55,697.29 L134.9,697.28 L135.25,697.26 L135.59,697.25 L135.94,697.23 L136.28,697.21 L136.63,697.19 L136.97,697.16 L137.31,697.13 L137.66,697.1 L138,697.07 L138.34,697.04 L138.68,697 L139.02,696.96 L139.36,696.92 L139.69,696.88 L140.03,696.83 L140.37,696.79 L140.7,696.74 L141.04,696.69 L141.37,696.64 L141.71,696.58 L142.04,696.53 L142.37,696.47 L142.71,696.41 L143.04,696.35 L143.37,696.29 L143.7,696.23 L144.03,696.16 L144.37,696.1 L144.7,696.03 L145.03,695.97 L145.36,695.9 L145.68,695.83 L146.01,695.76 L146.34,695.69 L146.67,695.61 L147,695.54 L147.33,695.47 L147.65,695.39 L147.98,695.32 L148.31,695.24 L148.64,695.17 L148.96,695.09 L149.29,695.01 L149.62,694.94 L149.94,694.86 L150.27,694.78 L150.6,694.71 L150.92,694.63 L151.25,694.55 L151.58,694.47 L151.9,694.39 L152.23,694.32 L152.56,694.24 L152.88,694.16 L153.21,694.09 L153.54,694.01 L153.86,693.93 L154.19,693.86 L154.52,693.78 L154.85,693.71 L155.17,693.63 L155.5,693.56 L155.83,693.49 L156.16,693.41 L156.49,693.34 L156.82,693.27 L157.14,693.2 L157.47,693.13 L157.8,693.07 L158.13,693 L158.47,692.94 L158.8,692.87 L159.13,692.81 L159.46,692.75 L159.79,692.69 L160.13,692.63 L160.46,692.57 L160.79,692.52 L161.13,692.46 L161.46,692.41 L161.8,692.36 L162.13,692.31 L162.47,692.27 L162.81,692.22 L163.14,692.18 L163.48,692.14 L163.82,692.1 L164.16,692.06 L164.5,692.03 L164.84,692 L165.19,691.97 L165.53,691.94 L165.87,691.91 L166.22,691.89 L166.56,691.87 L166.91,691.85 L167.25,691.84 L167.6,691.82 L167.95,691.81 L168.3,691.81 L168.65,691.8 L169,691.8 L169.35,691.81 L169.7,691.84 L170.04,691.88 L170.38,691.94 L170.72,692.01 L171.06,692.1 L171.4,692.2 L171.73,692.31 L172.07,692.44 L172.4,692.57 L172.73,692.72 L173.06,692.87 L173.39,693.03 L173.72,693.2 L174.05,693.37 L174.37,693.55 L174.7,693.74 L175.02,693.93 L175.35,694.12 L175.67,694.31 L176,694.5 L176.33,694.69 L176.65,694.88 L176.98,695.07 L177.3,695.26 L177.63,695.45 L177.95,695.63 L178.28,695.8 L178.61,695.97 L178.94,696.13 L179.27,696.28 L179.6,696.43 L179.93,696.56 L180.27,696.69 L180.6,696.8 L180.94,696.9 L181.28,696.99 L181.62,697.06 L181.96,697.12 L182.3,697.16 L182.65,697.19 L183,697.2 L183.35,697.2 L183.7,697.2 L184.05,697.19 L184.39,697.18 L184.74,697.17 L185.08,697.16 L185.43,697.15 L185.77,697.13 L186.11,697.11 L186.46,697.09 L186.8,697.07 L187.14,697.05 L187.48,697.02 L187.81,697 L188.15,696.97 L188.49,696.94 L188.83,696.91 L189.16,696.87 L189.5,696.84 L189.83,696.8 L190.17,696.76 L190.5,696.72 L190.83,696.68 L191.17,696.64 L191.5,696.6 L191.83,696.55 L192.16,696.51 L192.49,696.46 L192.82,696.42 L193.15,696.37 L193.48,696.32 L193.81,696.27 L194.14,696.22 L194.47,696.16 L194.8,696.11 L195.12,696.06 L195.45,696 L195.78,695.95 L196.11,695.89 L196.43,695.84 L196.76,695.78 L197.08,695.72 L197.41,695.66 L197.74,695.61 L198.06,695.55 L198.39,695.49 L198.71,695.43 L199.04,695.37 L199.36,695.31 L199.69,695.25 L200.01,695.19 L200.34,695.13 L200.66,695.07 L200.99,695.01 L201.31,694.95 L201.64,694.89 L201.96,694.83 L202.29,694.77 L202.61,694.71 L202.94,694.65 L203.26,694.59 L203.59,694.54 L203.92,694.48 L204.24,694.42 L204.57,694.36 L204.89,694.31 L205.22,694.25 L205.55,694.2 L205.88,694.14 L206.2,694.09 L206.53,694.04 L206.86,693.98 L207.19,693.93 L207.52,693.88 L207.85,693.83 L208.18,693.78 L208.51,693.74 L208.84,693.69 L209.17,693.65 L209.5,693.6 L209.83,693.56 L210.17,693.52 L210.5,693.48 L210.83,693.44 L211.17,693.4 L211.5,693.36 L211.84,693.33 L212.17,693.29 L212.51,693.26 L212.85,693.23 L213.19,693.2 L213.52,693.18 L213.86,693.15 L214.2,693.13 L214.54,693.11 L214.89,693.09 L215.23,693.07 L215.57,693.05 L215.92,693.04 L216.26,693.03 L216.61,693.02 L216.95,693.01 L217.3,693 L217.65,693 L218,693 L218.35,693 L218.7,693.02 L219.04,693.04 L219.38,693.07 L219.73,693.11 L220.07,693.15 L220.4,693.21 L220.74,693.27 L221.08,693.33 L221.41,693.4 L221.74,693.48 L222.08,693.56 L222.41,693.65 L222.74,693.74 L223.06,693.83 L223.39,693.93 L223.72,694.03 L224.05,694.14 L224.37,694.25 L224.7,694.35 L225.02,694.46 L225.35,694.58 L225.67,694.69 L226,694.8 L226.33,694.91 L226.65,695.02 L226.98,695.14 L227.3,695.25 L227.63,695.35 L227.95,695.46 L228.28,695.57 L228.61,695.67 L228.94,695.77 L229.26,695.86 L229.59,695.95 L229.93,696.04 L230.26,696.12 L230.59,696.2 L230.92,696.27 L231.26,696.33 L231.6,696.39 L231.93,696.45 L232.27,696.49 L232.62,696.53 L232.96,696.56 L233.3,696.58 L233.65,696.6 L234,696.6 L234.35,696.6 L234.7,696.6 L235.05,696.59 L235.39,696.59 L235.74,696.58 L236.08,696.57 L236.43,696.56 L236.77,696.55 L237.11,696.54 L237.46,696.52 L237.8,696.51 L238.14,696.49 L238.48,696.47 L238.81,696.45 L239.15,696.43 L239.49,696.41 L239.83,696.39 L240.16,696.37 L240.5,696.34 L240.83,696.31 L241.17,696.29 L241.5,696.26 L241.83,696.23 L242.17,696.2 L242.5,696.17 L242.83,696.14 L243.16,696.11 L243.49,696.07 L243.82,696.04 L244.15,696.01 L244.48,695.97 L244.81,695.93 L245.14,695.9 L245.47,695.86 L245.8,695.82 L246.12,695.78 L246.45,695.74 L246.78,695.71 L247.11,695.67 L247.43,695.63 L247.76,695.58 L248.08,695.54 L248.41,695.5 L248.74,695.46 L249.06,695.42 L249.39,695.38 L249.71,695.33 L250.04,695.29 L250.36,695.25 L250.69,695.21 L251.01,695.16 L251.34,695.12 L251.66,695.08 L251.99,695.04 L252.31,694.99 L252.64,694.95 L252.96,694.91 L253.29,694.87 L253.61,694.82 L253.94,694.78 L254.26,694.74 L254.59,694.7 L254.92,694.66 L255.24,694.62 L255.57,694.57 L255.89,694.53 L256.22,694.49 L256.55,694.46 L256.88,694.42 L257.2,694.38 L257.53,694.34 L257.86,694.3 L258.19,694.27 L258.52,694.23 L258.85,694.19 L259.18,694.16 L259.51,694.13 L259.84,694.09 L260.17,694.06 L260.5,694.03 L260.83,694 L261.17,693.97 L261.5,693.94 L261.83,693.91 L262.17,693.89 L262.5,693.86 L262.84,693.83 L263.17,693.81 L263.51,693.79 L263.85,693.77 L264.19,693.75 L264.52,693.73 L264.86,693.71 L265.2,693.69 L265.54,693.68 L265.89,693.66 L266.23,693.65 L266.57,693.64 L266.92,693.63 L267.26,693.62 L267.61,693.61 L267.95,693.61 L268.3,693.6 L268.65,693.6 L269,693.6 L269.35,693.6 L269.7,693.61 L270.04,693.62 L270.39,693.64 L270.73,693.66 L271.07,693.68 L271.41,693.71 L271.75,693.74 L272.08,693.78 L272.42,693.82 L272.75,693.86 L273.09,693.9 L273.42,693.95 L273.75,694 L274.08,694.05 L274.41,694.11 L274.74,694.16 L275.07,694.22 L275.39,694.28 L275.72,694.34 L276.05,694.41 L276.37,694.47 L276.7,694.54 L277.02,694.6 L277.35,694.67 L277.67,694.73 L278,694.8 L278.33,694.87 L278.65,694.93 L278.98,695 L279.3,695.06 L279.63,695.13 L279.95,695.19 L280.28,695.26 L280.61,695.32 L280.93,695.38 L281.26,695.44 L281.59,695.49 L281.92,695.55 L282.25,695.6 L282.58,695.65 L282.91,695.7 L283.25,695.74 L283.58,695.78 L283.92,695.82 L284.25,695.86 L284.59,695.89 L284.93,695.92 L285.27,695.94 L285.61,695.96 L285.96,695.98 L286.3,695.99 L286.65,696 L287,696 L287.35,696 L287.7,696 L288.05,695.99 L288.39,695.99 L288.74,695.99 L289.08,695.98 L289.43,695.97 L289.77,695.97 L290.11,695.96 L290.45,695.95 L290.79,695.94 L291.13,695.92 L291.47,695.91 L291.81,695.9 L292.15,695.88 L292.49,695.87 L292.82,695.85 L293.16,695.84 L293.5,695.82 L293.83,695.8 L294.16,695.78 L294.5,695.76 L294.83,695.74 L295.16,695.72 L295.49,695.7 L295.82,695.68 L296.16,695.65 L296.49,695.63 L296.82,695.61 L297.15,695.58 L297.47,695.56 L297.8,695.53 L298.13,695.51 L298.46,695.48 L298.79,695.46 L299.11,695.43 L299.44,695.4 L299.77,695.37 L300.09,695.35 L300.42,695.32 L300.75,695.29 L301.07,695.26 L301.4,695.23 L301.72,695.2 L302.05,695.18 L302.37,695.15 L302.7,695.12 L303.02,695.09 L303.35,695.06 L303.67,695.03 L304,695 L304.33,694.97 L304.65,694.94 L304.98,694.91 L305.3,694.88 L305.63,694.85 L305.95,694.82 L306.28,694.8 L306.6,694.77 L306.93,694.74 L307.25,694.71 L307.58,694.68 L307.91,694.65 L308.23,694.63 L308.56,694.6 L308.89,694.57 L309.21,694.54 L309.54,694.52 L309.87,694.49 L310.2,694.47 L310.53,694.44 L310.85,694.42 L311.18,694.39 L311.51,694.37 L311.84,694.35 L312.18,694.32 L312.51,694.3 L312.84,694.28 L313.17,694.26 L313.5,694.24 L313.84,694.22 L314.17,694.2 L314.5,694.18 L314.84,694.16 L315.18,694.15 L315.51,694.13 L315.85,694.12 L316.19,694.1 L316.53,694.09 L316.87,694.08 L317.21,694.06 L317.55,694.05 L317.89,694.04 L318.23,694.03 L318.57,694.03 L318.92,694.02 L319.26,694.01 L319.61,694.01 L319.95,694.01 L320.3,694 L320.65,694 L321,694 L321.35,694 L321.69,694.01 L322.04,694.02 L322.38,694.04 L322.72,694.06 L323.06,694.09 L323.39,694.12 L323.72,694.15 L324.06,694.19 L324.39,694.23 L324.72,694.27 L325.04,694.31 L325.37,694.36 L325.7,694.4 L326.02,694.45 L326.35,694.5 L326.67,694.55 L327,694.6 L327.33,694.65 L327.65,694.7 L327.98,694.75 L328.3,694.8 L328.63,694.84 L328.96,694.89 L329.28,694.93 L329.61,694.97 L329.94,695.01 L330.28,695.05 L330.61,695.08 L330.94,695.11 L331.28,695.14 L331.62,695.16 L331.96,695.18 L332.31,695.19 L332.65,695.2 L333,695.2" fill="none" stroke="#1fa85a" stroke-width="1.4" stroke-linejoin="round" />
<path d="M56,694.7 L56.31,694.7 L56.63,694.7 L56.95,694.7 L57.28,694.7 L57.62,694.7 L57.96,694.7 L58.3,694.7 L58.65,694.7 L59.01,694.7 L59.36,694.7 L59.71,694.7 L60.07,694.7 L60.43,694.7 L60.79,694.7 L61.14,694.7 L61.49,694.7 L61.85,694.7 L62.2,694.7 L62.54,694.7 L62.88,694.7 L63.22,694.7 L63.55,694.7 L63.87,694.7 L64.19,694.7 L64.5,694.7 L65,694.67 L65.49,694.59 L65.96,694.47 L66.42,694.29 L66.86,694.07 L67.3,693.81 L67.72,693.51 L68.13,693.18 L68.53,692.81 L68.92,692.41 L69.3,691.98 L69.67,691.53 L70.04,691.05 L70.39,690.55 L70.74,690.04 L71.07,689.5 L71.4,688.96 L71.73,688.4 L72.05,687.84 L72.36,687.27 L72.66,686.7 L72.97,686.13 L73.26,685.56 L73.56,685 L73.85,684.44 L74.14,683.9 L74.42,683.36 L74.7,682.85 L74.98,682.35 L75.26,681.87 L75.54,681.42 L75.82,680.99 L76.1,680.59 L76.38,680.22 L76.66,679.89 L76.94,679.59 L77.23,679.33 L77.52,679.11 L77.81,678.93 L78.1,678.81 L78.4,678.73 L78.7,678.7 L78.93,678.87 L79.18,679.37 L79.45,680.18 L79.73,681.28 L80.03,682.64 L80.35,684.24 L80.67,686.07 L81.01,688.1 L81.36,690.31 L81.72,692.68 L82.09,695.19 L82.46,697.81 L82.84,700.53 L83.23,703.33 L83.62,706.18 L84.01,709.05 L84.39,711.95 L84.78,714.82 L85.17,717.67 L85.56,720.47 L85.94,723.19 L86.31,725.81 L86.68,728.32 L87.04,730.69 L87.39,732.9 L87.73,734.93 L88.05,736.76 L88.37,738.36 L88.67,739.72 L88.95,740.82 L89.22,741.63 L89.47,742.13 L89.7,742.3 L89.93,742.25 L90.16,742.1 L90.4,741.85 L90.64,741.51 L90.9,741.07 L91.16,740.54 L91.42,739.93 L91.7,739.23 L91.97,738.44 L92.26,737.57 L92.55,736.62 L92.84,735.59 L93.14,734.49 L93.45,733.31 L93.76,732.06 L94.08,730.74 L94.4,729.36 L94.72,727.91 L95.05,726.39 L95.39,724.82 L95.73,723.19 L96.07,721.5 L96.42,719.75 L96.77,717.96 L97.12,716.11 L97.48,714.22 L97.84,712.28 L98.2,710.3 L98.57,708.28 L98.94,706.22 L99.31,704.12 L99.69,701.99 L100.06,699.82 L100.44,697.62 L100.82,695.4 L101.21,693.15 L101.59,690.87 L101.98,688.58 L102.37,686.26 L102.76,683.93 L103.15,681.58 L103.54,679.22 L103.93,676.85 L104.32,674.47 L104.71,672.08 L105.11,669.69 L105.5,667.3 L105.89,664.91 L106.29,662.52 L106.68,660.13 L107.07,657.75 L107.46,655.38 L107.85,653.02 L108.24,650.67 L108.63,648.34 L109.02,646.02 L109.41,643.73 L109.79,641.45 L110.18,639.2 L110.56,636.98 L110.94,634.78 L111.31,632.61 L111.69,630.48 L112.06,628.38 L112.43,626.32 L112.8,624.3 L113.16,622.32 L113.52,620.38 L113.88,618.49 L114.23,616.64 L114.58,614.85 L114.93,613.1 L115.27,611.41 L115.61,609.78 L115.95,608.21 L116.28,606.69 L116.6,605.24 L116.92,603.86 L117.24,602.54 L117.55,601.29 L117.86,600.11 L118.16,599.01 L118.45,597.98 L118.74,597.03 L119.03,596.16 L119.3,595.37 L119.58,594.67 L119.84,594.06 L120.1,593.53 L120.36,593.09 L120.6,592.75 L120.84,592.5 L121.07,592.35 L121.3,592.3 L121.53,592.62 L121.78,593.57 L122.04,595.1 L122.32,597.18 L122.62,599.78 L122.92,602.86 L123.24,606.38 L123.58,610.32 L123.92,614.62 L124.27,619.27 L124.63,624.21 L125,629.42 L125.37,634.87 L125.75,640.51 L126.13,646.31 L126.52,652.23 L126.91,658.24 L127.3,664.31 L127.7,670.39 L128.09,676.46 L128.48,682.47 L128.87,688.39 L129.25,694.19 L129.63,699.83 L130,705.28 L130.37,710.49 L130.73,715.43 L131.08,720.08 L131.42,724.38 L131.76,728.32 L132.08,731.84 L132.38,734.92 L132.68,737.52 L132.96,739.6 L133.22,741.13 L133.47,742.08 L133.7,742.4 L133.92,742.36 L134.15,742.25 L134.39,742.07 L134.63,741.81 L134.88,741.49 L135.14,741.1 L135.4,740.64 L135.66,740.11 L135.94,739.53 L136.21,738.87 L136.49,738.16 L136.78,737.39 L137.07,736.56 L137.37,735.68 L137.67,734.73 L137.98,733.74 L138.29,732.69 L138.6,731.59 L138.92,730.44 L139.25,729.24 L139.58,728 L139.91,726.71 L140.24,725.38 L140.58,724 L140.92,722.58 L141.27,721.13 L141.62,719.63 L141.97,718.1 L142.33,716.53 L142.68,714.93 L143.05,713.3 L143.41,711.63 L143.78,709.93 L144.14,708.21 L144.52,706.46 L144.89,704.68 L145.26,702.88 L145.64,701.06 L146.02,699.21 L146.4,697.35 L146.78,695.47 L147.17,693.57 L147.55,691.65 L147.94,689.72 L148.33,687.78 L148.71,685.83 L149.1,683.86 L149.49,681.89 L149.88,679.91 L150.28,677.93 L150.67,675.94 L151.06,673.94 L151.45,671.95 L151.84,669.96 L152.23,667.96 L152.62,665.97 L153.02,663.99 L153.41,662.01 L153.8,660.04 L154.19,658.07 L154.57,656.12 L154.96,654.18 L155.35,652.25 L155.73,650.33 L156.12,648.43 L156.5,646.55 L156.88,644.69 L157.26,642.84 L157.64,641.02 L158.01,639.22 L158.38,637.44 L158.76,635.69 L159.12,633.97 L159.49,632.27 L159.85,630.6 L160.22,628.97 L160.57,627.37 L160.93,625.8 L161.28,624.27 L161.63,622.77 L161.98,621.32 L162.32,619.9 L162.66,618.52 L162.99,617.19 L163.32,615.9 L163.65,614.66 L163.98,613.46 L164.3,612.31 L164.61,611.21 L164.92,610.16 L165.23,609.17 L165.53,608.22 L165.83,607.34 L166.12,606.51 L166.41,605.74 L166.69,605.03 L166.96,604.37 L167.24,603.79 L167.5,603.26 L167.76,602.8 L168.02,602.41 L168.27,602.09 L168.51,601.83 L168.75,601.65 L168.98,601.54 L169.2,601.5 L169.43,601.72 L169.68,602.38 L169.94,603.45 L170.22,604.91 L170.5,606.74 L170.81,608.91 L171.12,611.41 L171.44,614.21 L171.78,617.3 L172.12,620.64 L172.47,624.23 L172.83,628.03 L173.2,632.02 L173.58,636.19 L173.95,640.51 L174.34,644.96 L174.73,649.52 L175.12,654.16 L175.51,658.87 L175.9,663.63 L176.3,668.4 L176.7,673.17 L177.09,677.93 L177.48,682.64 L177.87,687.28 L178.26,691.84 L178.65,696.29 L179.02,700.61 L179.4,704.78 L179.77,708.77 L180.13,712.57 L180.48,716.16 L180.82,719.5 L181.16,722.59 L181.48,725.39 L181.79,727.89 L182.1,730.06 L182.38,731.89 L182.66,733.35 L182.92,734.42 L183.17,735.08 L183.4,735.3 L183.62,735.27 L183.85,735.19 L184.09,735.05 L184.33,734.85 L184.58,734.61 L184.83,734.31 L185.09,733.96 L185.36,733.56 L185.63,733.11 L185.9,732.62 L186.18,732.08 L186.47,731.49 L186.76,730.86 L187.05,730.19 L187.35,729.47 L187.66,728.71 L187.97,727.91 L188.28,727.08 L188.6,726.2 L188.92,725.29 L189.24,724.34 L189.57,723.36 L189.91,722.34 L190.24,721.3 L190.58,720.22 L190.93,719.11 L191.27,717.97 L191.62,716.8 L191.98,715.6 L192.33,714.38 L192.69,713.13 L193.05,711.86 L193.42,710.57 L193.78,709.25 L194.15,707.92 L194.52,706.56 L194.9,705.19 L195.27,703.79 L195.65,702.38 L196.03,700.96 L196.41,699.52 L196.79,698.07 L197.17,696.6 L197.56,695.13 L197.94,693.64 L198.33,692.15 L198.72,690.64 L199.11,689.13 L199.5,687.62 L199.88,686.1 L200.27,684.57 L200.66,683.04 L201.05,681.51 L201.45,679.99 L201.84,678.46 L202.23,676.93 L202.62,675.4 L203,673.88 L203.39,672.37 L203.78,670.86 L204.17,669.35 L204.56,667.86 L204.94,666.37 L205.33,664.9 L205.71,663.43 L206.09,661.98 L206.47,660.54 L206.85,659.12 L207.23,657.71 L207.6,656.31 L207.98,654.94 L208.35,653.58 L208.72,652.25 L209.08,650.93 L209.45,649.64 L209.81,648.37 L210.17,647.12 L210.52,645.9 L210.88,644.7 L211.23,643.53 L211.57,642.39 L211.92,641.28 L212.26,640.2 L212.59,639.16 L212.93,638.14 L213.26,637.16 L213.58,636.21 L213.9,635.3 L214.22,634.42 L214.53,633.59 L214.84,632.79 L215.15,632.03 L215.45,631.31 L215.74,630.64 L216.03,630.01 L216.32,629.42 L216.6,628.88 L216.87,628.39 L217.14,627.94 L217.41,627.54 L217.67,627.19 L217.92,626.89 L218.17,626.65 L218.41,626.45 L218.65,626.31 L218.88,626.23 L219.1,626.2 L219.33,626.33 L219.58,626.72 L219.83,627.36 L220.1,628.24 L220.39,629.34 L220.68,630.65 L220.99,632.16 L221.3,633.86 L221.63,635.74 L221.96,637.78 L222.31,639.99 L222.66,642.33 L223.01,644.81 L223.38,647.4 L223.75,650.11 L224.13,652.92 L224.51,655.81 L224.89,658.77 L225.28,661.8 L225.67,664.88 L226.06,668 L226.46,671.15 L226.85,674.31 L227.25,677.49 L227.64,680.65 L228.04,683.8 L228.43,686.92 L228.82,690 L229.21,693.03 L229.59,695.99 L229.97,698.88 L230.35,701.69 L230.72,704.4 L231.09,706.99 L231.44,709.47 L231.79,711.81 L232.14,714.02 L232.47,716.06 L232.8,717.94 L233.11,719.64 L233.42,721.15 L233.71,722.46 L234,723.56 L234.27,724.44 L234.52,725.08 L234.77,725.47 L235,725.6 L235.22,725.58 L235.46,725.52 L235.69,725.42 L235.94,725.29 L236.19,725.12 L236.44,724.91 L236.7,724.66 L236.97,724.38 L237.24,724.07 L237.52,723.72 L237.8,723.34 L238.09,722.93 L238.38,722.49 L238.68,722.02 L238.98,721.52 L239.29,720.99 L239.6,720.43 L239.92,719.85 L240.24,719.23 L240.56,718.6 L240.89,717.94 L241.22,717.25 L241.56,716.54 L241.9,715.81 L242.24,715.05 L242.59,714.28 L242.94,713.48 L243.29,712.67 L243.65,711.83 L244.01,710.98 L244.37,710.11 L244.74,709.22 L245.1,708.32 L245.47,707.4 L245.85,706.47 L246.22,705.52 L246.6,704.57 L246.97,703.59 L247.35,702.61 L247.74,701.62 L248.12,700.62 L248.5,699.61 L248.89,698.59 L249.28,697.56 L249.67,696.53 L250.06,695.49 L250.45,694.44 L250.84,693.39 L251.23,692.34 L251.62,691.28 L252.01,690.22 L252.41,689.16 L252.8,688.1 L253.19,687.04 L253.59,685.98 L253.98,684.92 L254.37,683.86 L254.76,682.81 L255.15,681.76 L255.54,680.71 L255.93,679.67 L256.32,678.64 L256.71,677.61 L257.1,676.59 L257.48,675.58 L257.86,674.58 L258.25,673.59 L258.63,672.61 L259,671.63 L259.38,670.68 L259.75,669.73 L260.13,668.8 L260.5,667.88 L260.86,666.98 L261.23,666.09 L261.59,665.22 L261.95,664.37 L262.31,663.53 L262.66,662.72 L263.01,661.92 L263.36,661.15 L263.7,660.39 L264.04,659.66 L264.38,658.95 L264.71,658.26 L265.04,657.6 L265.36,656.97 L265.68,656.35 L266,655.77 L266.31,655.21 L266.62,654.68 L266.92,654.18 L267.22,653.71 L267.51,653.27 L267.8,652.86 L268.08,652.48 L268.36,652.13 L268.63,651.82 L268.9,651.54 L269.16,651.29 L269.41,651.08 L269.66,650.91 L269.91,650.78 L270.14,650.68 L270.38,650.62 L270.6,650.6 L270.83,650.67 L271.07,650.88 L271.32,651.22 L271.59,651.68 L271.86,652.26 L272.15,652.96 L272.45,653.77 L272.75,654.68 L273.07,655.69 L273.4,656.79 L273.73,657.97 L274.07,659.24 L274.42,660.58 L274.77,662 L275.13,663.47 L275.5,665.01 L275.87,666.6 L276.24,668.23 L276.62,669.91 L277.01,671.62 L277.39,673.37 L277.78,675.14 L278.17,676.93 L278.56,678.73 L278.95,680.54 L279.35,682.36 L279.74,684.17 L280.13,685.97 L280.52,687.76 L280.91,689.53 L281.29,691.28 L281.68,692.99 L282.06,694.67 L282.43,696.3 L282.8,697.89 L283.17,699.43 L283.53,700.9 L283.88,702.32 L284.23,703.66 L284.57,704.93 L284.9,706.11 L285.23,707.21 L285.55,708.22 L285.85,709.13 L286.15,709.94 L286.44,710.64 L286.71,711.22 L286.98,711.68 L287.23,712.02 L287.47,712.23 L287.7,712.3 L287.92,712.29 L288.16,712.25 L288.39,712.19 L288.64,712.1 L288.89,711.99 L289.14,711.86 L289.4,711.7 L289.67,711.52 L289.94,711.32 L290.22,711.1 L290.5,710.86 L290.79,710.6 L291.08,710.31 L291.38,710.01 L291.68,709.69 L291.99,709.35 L292.3,709 L292.62,708.62 L292.94,708.23 L293.26,707.82 L293.59,707.4 L293.92,706.96 L294.26,706.51 L294.6,706.04 L294.94,705.56 L295.29,705.07 L295.64,704.56 L295.99,704.04 L296.35,703.51 L296.71,702.96 L297.07,702.41 L297.44,701.84 L297.8,701.27 L298.17,700.68 L298.55,700.09 L298.92,699.49 L299.3,698.88 L299.68,698.26 L300.06,697.63 L300.44,697 L300.82,696.36 L301.21,695.72 L301.59,695.07 L301.98,694.42 L302.37,693.76 L302.76,693.1 L303.15,692.44 L303.54,691.77 L303.93,691.1 L304.32,690.43 L304.71,689.76 L305.1,689.09 L305.5,688.41 L305.89,687.74 L306.28,687.07 L306.67,686.4 L307.06,685.73 L307.45,685.06 L307.84,684.4 L308.23,683.74 L308.62,683.08 L309.01,682.43 L309.39,681.78 L309.78,681.14 L310.16,680.5 L310.54,679.87 L310.92,679.24 L311.3,678.62 L311.68,678.01 L312.05,677.41 L312.43,676.82 L312.8,676.23 L313.16,675.66 L313.53,675.09 L313.89,674.54 L314.25,673.99 L314.61,673.46 L314.96,672.94 L315.31,672.43 L315.66,671.94 L316,671.46 L316.34,670.99 L316.68,670.54 L317.01,670.1 L317.34,669.68 L317.66,669.27 L317.98,668.88 L318.3,668.5 L318.61,668.15 L318.92,667.81 L319.22,667.49 L319.52,667.19 L319.81,666.9 L320.1,666.64 L320.38,666.4 L320.66,666.18 L320.93,665.98 L321.2,665.8 L321.46,665.64 L321.71,665.51 L321.96,665.4 L322.21,665.31 L322.44,665.25 L322.68,665.21 L322.9,665.2 L323.13,665.26 L323.39,665.42 L323.66,665.69 L323.96,666.05 L324.27,666.5 L324.59,667.02 L324.93,667.61 L325.28,668.27 L325.64,668.98 L326.01,669.74 L326.39,670.53 L326.78,671.36 L327.16,672.21 L327.56,673.08 L327.95,673.95 L328.34,674.82 L328.74,675.69 L329.12,676.54 L329.51,677.37 L329.89,678.16 L330.26,678.92 L330.62,679.63 L330.97,680.29 L331.31,680.88 L331.63,681.4 L331.94,681.85 L332.24,682.21 L332.51,682.48 L332.77,682.64 L333,682.7" fill="none" stroke="#2a2a9c" stroke-width="1.4" stroke-linejoin="round" />
<path d="M56,694.7 L56.31,694.7 L56.63,694.7 L56.95,694.7 L57.28,694.7 L57.62,694.7 L57.96,694.7 L58.3,694.7 L58.65,694.7 L59.01,694.7 L59.36,694.7 L59.71,694.7 L60.07,694.7 L60.43,694.7 L60.79,694.7 L61.14,694.7 L61.49,694.7 L61.85,694.7 L62.2,694.7 L62.54,694.7 L62.88,694.7 L63.22,694.7 L63.55,694.7 L63.87,694.7 L64.19,694.7 L64.5,694.7 L65,694.68 L65.49,694.63 L65.96,694.55 L66.43,694.44 L66.88,694.31 L67.31,694.14 L67.74,693.95 L68.16,693.74 L68.56,693.51 L68.96,693.25 L69.34,692.98 L69.72,692.69 L70.09,692.39 L70.45,692.07 L70.8,691.74 L71.14,691.39 L71.48,691.04 L71.81,690.68 L72.13,690.32 L72.45,689.95 L72.76,689.57 L73.07,689.2 L73.37,688.83 L73.67,688.45 L73.96,688.08 L74.25,687.72 L74.54,687.36 L74.83,687.01 L75.11,686.66 L75.39,686.33 L75.67,686.01 L75.95,685.71 L76.23,685.42 L76.51,685.15 L76.79,684.89 L77.07,684.66 L77.36,684.45 L77.64,684.26 L77.93,684.09 L78.21,683.96 L78.5,683.85 L78.8,683.77 L79.1,683.72 L79.4,683.7 L79.64,683.85 L79.9,684.27 L80.18,684.95 L80.48,685.88 L80.79,687.02 L81.12,688.36 L81.47,689.88 L81.83,691.56 L82.2,693.38 L82.57,695.31 L82.96,697.35 L83.35,699.47 L83.75,701.65 L84.15,703.86 L84.55,706.1 L84.95,708.34 L85.35,710.55 L85.75,712.73 L86.14,714.85 L86.53,716.89 L86.9,718.82 L87.27,720.64 L87.63,722.32 L87.98,723.84 L88.31,725.18 L88.62,726.32 L88.92,727.25 L89.2,727.93 L89.46,728.35 L89.7,728.5 L89.93,728.47 L90.16,728.36 L90.4,728.19 L90.64,727.96 L90.9,727.66 L91.16,727.31 L91.42,726.89 L91.7,726.41 L91.98,725.88 L92.26,725.28 L92.55,724.64 L92.85,723.94 L93.15,723.19 L93.46,722.4 L93.77,721.55 L94.09,720.65 L94.41,719.72 L94.74,718.73 L95.07,717.71 L95.41,716.64 L95.75,715.54 L96.09,714.4 L96.44,713.22 L96.79,712.01 L97.15,710.76 L97.51,709.48 L97.87,708.17 L98.23,706.84 L98.6,705.47 L98.97,704.08 L99.35,702.67 L99.72,701.23 L100.1,699.78 L100.48,698.3 L100.86,696.81 L101.25,695.29 L101.63,693.77 L102.02,692.23 L102.41,690.68 L102.8,689.11 L103.19,687.54 L103.58,685.96 L103.97,684.38 L104.36,682.79 L104.76,681.19 L105.15,679.6 L105.54,678.01 L105.94,676.41 L106.33,674.82 L106.72,673.24 L107.11,671.66 L107.5,670.09 L107.89,668.52 L108.28,666.97 L108.67,665.43 L109.05,663.91 L109.44,662.39 L109.82,660.9 L110.2,659.42 L110.58,657.97 L110.95,656.53 L111.33,655.12 L111.7,653.73 L112.07,652.36 L112.43,651.03 L112.79,649.72 L113.15,648.44 L113.51,647.19 L113.86,645.98 L114.21,644.8 L114.55,643.66 L114.89,642.56 L115.23,641.49 L115.56,640.47 L115.89,639.48 L116.21,638.55 L116.53,637.65 L116.84,636.8 L117.15,636.01 L117.45,635.26 L117.75,634.56 L118.04,633.92 L118.32,633.32 L118.6,632.79 L118.88,632.31 L119.14,631.89 L119.4,631.54 L119.66,631.24 L119.9,631.01 L120.14,630.84 L120.37,630.73 L120.6,630.7 L120.83,630.92 L121.08,631.56 L121.35,632.6 L121.63,634.01 L121.93,635.76 L122.24,637.85 L122.56,640.23 L122.89,642.9 L123.24,645.81 L123.59,648.95 L123.96,652.3 L124.33,655.83 L124.7,659.51 L125.09,663.33 L125.47,667.26 L125.86,671.27 L126.26,675.34 L126.65,679.44 L127.05,683.56 L127.44,687.66 L127.84,691.73 L128.23,695.74 L128.61,699.67 L129,703.49 L129.37,707.17 L129.74,710.7 L130.11,714.05 L130.46,717.19 L130.81,720.1 L131.14,722.77 L131.46,725.15 L131.77,727.24 L132.07,728.99 L132.35,730.4 L132.62,731.44 L132.87,732.08 L133.1,732.3 L133.32,732.27 L133.56,732.2 L133.79,732.08 L134.04,731.91 L134.29,731.69 L134.54,731.42 L134.8,731.12 L135.07,730.76 L135.35,730.37 L135.62,729.93 L135.91,729.46 L136.2,728.94 L136.49,728.38 L136.79,727.79 L137.1,727.16 L137.41,726.5 L137.72,725.8 L138.04,725.06 L138.36,724.3 L138.69,723.5 L139.02,722.67 L139.36,721.81 L139.7,720.93 L140.04,720.01 L140.39,719.07 L140.74,718.1 L141.09,717.11 L141.44,716.1 L141.8,715.06 L142.17,714 L142.53,712.92 L142.9,711.82 L143.27,710.71 L143.64,709.57 L144.01,708.42 L144.39,707.25 L144.77,706.07 L145.15,704.88 L145.53,703.67 L145.91,702.45 L146.3,701.22 L146.69,699.98 L147.07,698.73 L147.46,697.48 L147.85,696.21 L148.24,694.95 L148.63,693.67 L149.02,692.4 L149.41,691.12 L149.8,689.84 L150.2,688.56 L150.59,687.28 L150.98,686 L151.37,684.73 L151.76,683.45 L152.15,682.19 L152.54,680.92 L152.93,679.67 L153.31,678.42 L153.7,677.18 L154.09,675.95 L154.47,674.73 L154.85,673.52 L155.23,672.33 L155.61,671.15 L155.99,669.98 L156.36,668.83 L156.73,667.69 L157.1,666.58 L157.47,665.48 L157.83,664.4 L158.2,663.34 L158.56,662.3 L158.91,661.29 L159.26,660.3 L159.61,659.33 L159.96,658.39 L160.3,657.47 L160.64,656.59 L160.98,655.73 L161.31,654.9 L161.64,654.1 L161.96,653.34 L162.28,652.6 L162.59,651.9 L162.9,651.24 L163.21,650.61 L163.51,650.02 L163.8,649.46 L164.09,648.94 L164.38,648.47 L164.65,648.03 L164.93,647.64 L165.2,647.28 L165.46,646.98 L165.71,646.71 L165.96,646.49 L166.21,646.32 L166.44,646.2 L166.68,646.13 L166.9,646.1 L167.13,646.24 L167.37,646.65 L167.63,647.32 L167.9,648.23 L168.19,649.38 L168.48,650.74 L168.79,652.3 L169.11,654.05 L169.44,655.98 L169.78,658.08 L170.13,660.32 L170.48,662.69 L170.85,665.19 L171.21,667.8 L171.59,670.5 L171.97,673.29 L172.35,676.14 L172.73,679.04 L173.12,681.99 L173.51,684.96 L173.9,687.95 L174.29,690.94 L174.68,693.91 L175.07,696.86 L175.45,699.76 L175.83,702.61 L176.21,705.4 L176.59,708.1 L176.95,710.71 L177.32,713.21 L177.67,715.58 L178.02,717.82 L178.36,719.92 L178.69,721.85 L179.01,723.6 L179.32,725.16 L179.61,726.52 L179.9,727.67 L180.17,728.58 L180.43,729.25 L180.67,729.66 L180.9,729.8 L181.12,729.78 L181.36,729.73 L181.59,729.65 L181.84,729.53 L182.09,729.38 L182.34,729.19 L182.6,728.98 L182.87,728.74 L183.14,728.46 L183.42,728.16 L183.7,727.83 L183.99,727.47 L184.28,727.08 L184.58,726.67 L184.88,726.23 L185.19,725.77 L185.5,725.28 L185.82,724.77 L186.14,724.23 L186.46,723.68 L186.79,723.1 L187.12,722.5 L187.46,721.87 L187.8,721.23 L188.14,720.57 L188.49,719.9 L188.84,719.2 L189.19,718.49 L189.55,717.76 L189.91,717.01 L190.27,716.25 L190.64,715.47 L191,714.68 L191.37,713.88 L191.75,713.07 L192.12,712.24 L192.5,711.4 L192.87,710.55 L193.25,709.69 L193.64,708.83 L194.02,707.95 L194.4,707.06 L194.79,706.17 L195.18,705.27 L195.57,704.37 L195.96,703.46 L196.35,702.55 L196.74,701.63 L197.13,700.71 L197.52,699.78 L197.91,698.86 L198.31,697.93 L198.7,697 L199.09,696.07 L199.49,695.14 L199.88,694.22 L200.27,693.29 L200.66,692.37 L201.05,691.45 L201.44,690.54 L201.83,689.63 L202.22,688.73 L202.61,687.83 L203,686.94 L203.38,686.05 L203.76,685.17 L204.15,684.31 L204.53,683.45 L204.9,682.6 L205.28,681.76 L205.65,680.93 L206.03,680.12 L206.4,679.32 L206.76,678.53 L207.13,677.75 L207.49,676.99 L207.85,676.24 L208.21,675.51 L208.56,674.8 L208.91,674.1 L209.26,673.43 L209.6,672.77 L209.94,672.13 L210.28,671.5 L210.61,670.9 L210.94,670.32 L211.26,669.77 L211.58,669.23 L211.9,668.72 L212.21,668.23 L212.52,667.77 L212.82,667.33 L213.12,666.92 L213.41,666.53 L213.7,666.17 L213.98,665.84 L214.26,665.54 L214.53,665.26 L214.8,665.02 L215.06,664.81 L215.31,664.62 L215.56,664.47 L215.81,664.35 L216.04,664.27 L216.28,664.22 L216.5,664.2 L216.73,664.28 L216.97,664.5 L217.22,664.86 L217.49,665.35 L217.76,665.98 L218.05,666.72 L218.35,667.58 L218.66,668.55 L218.98,669.62 L219.31,670.78 L219.65,672.04 L219.99,673.37 L220.34,674.78 L220.7,676.27 L221.06,677.81 L221.43,679.42 L221.8,681.07 L222.18,682.77 L222.56,684.51 L222.95,686.28 L223.33,688.08 L223.72,689.89 L224.11,691.72 L224.5,693.55 L224.89,695.38 L225.28,697.21 L225.67,699.02 L226.05,700.82 L226.44,702.59 L226.82,704.33 L227.2,706.03 L227.57,707.68 L227.94,709.29 L228.3,710.83 L228.66,712.32 L229.01,713.73 L229.35,715.06 L229.69,716.32 L230.02,717.48 L230.34,718.55 L230.65,719.52 L230.95,720.38 L231.24,721.12 L231.51,721.75 L231.78,722.24 L232.03,722.6 L232.27,722.82 L232.5,722.9 L232.72,722.89 L232.95,722.85 L233.19,722.8 L233.43,722.71 L233.68,722.61 L233.94,722.49 L234.2,722.34 L234.46,722.18 L234.74,721.99 L235.01,721.79 L235.29,721.56 L235.58,721.32 L235.87,721.06 L236.17,720.78 L236.47,720.48 L236.78,720.16 L237.09,719.83 L237.4,719.49 L237.72,719.12 L238.05,718.75 L238.38,718.35 L238.71,717.95 L239.04,717.52 L239.38,717.09 L239.72,716.64 L240.07,716.18 L240.42,715.71 L240.77,715.23 L241.13,714.73 L241.48,714.22 L241.85,713.71 L242.21,713.18 L242.58,712.65 L242.94,712.1 L243.32,711.55 L243.69,710.99 L244.06,710.42 L244.44,709.84 L244.82,709.26 L245.2,708.67 L245.58,708.08 L245.97,707.48 L246.35,706.87 L246.74,706.26 L247.13,705.65 L247.51,705.03 L247.9,704.41 L248.29,703.79 L248.68,703.16 L249.08,702.54 L249.47,701.91 L249.86,701.28 L250.25,700.65 L250.64,700.02 L251.03,699.39 L251.42,698.76 L251.82,698.14 L252.21,697.51 L252.6,696.89 L252.99,696.27 L253.37,695.65 L253.76,695.04 L254.15,694.43 L254.53,693.82 L254.92,693.22 L255.3,692.63 L255.68,692.04 L256.06,691.46 L256.44,690.88 L256.81,690.31 L257.18,689.75 L257.56,689.2 L257.92,688.65 L258.29,688.12 L258.65,687.59 L259.02,687.08 L259.37,686.57 L259.73,686.07 L260.08,685.59 L260.43,685.12 L260.78,684.66 L261.12,684.21 L261.46,683.78 L261.79,683.35 L262.12,682.95 L262.45,682.55 L262.78,682.18 L263.1,681.81 L263.41,681.47 L263.72,681.14 L264.03,680.82 L264.33,680.52 L264.63,680.24 L264.92,679.98 L265.21,679.74 L265.49,679.51 L265.76,679.31 L266.04,679.12 L266.3,678.96 L266.56,678.81 L266.82,678.69 L267.07,678.59 L267.31,678.5 L267.55,678.45 L267.78,678.41 L268,678.4 L268.23,678.43 L268.47,678.53 L268.72,678.69 L268.98,678.91 L269.25,679.19 L269.53,679.52 L269.82,679.91 L270.12,680.34 L270.43,680.83 L270.75,681.35 L271.08,681.93 L271.41,682.54 L271.75,683.19 L272.1,683.87 L272.45,684.59 L272.81,685.34 L273.18,686.11 L273.55,686.92 L273.92,687.74 L274.3,688.59 L274.68,689.45 L275.06,690.33 L275.45,691.23 L275.83,692.13 L276.22,693.05 L276.61,693.96 L277,694.89 L277.4,695.81 L277.79,696.74 L278.18,697.65 L278.57,698.57 L278.95,699.47 L279.34,700.37 L279.72,701.25 L280.1,702.11 L280.48,702.96 L280.85,703.78 L281.22,704.59 L281.59,705.36 L281.95,706.11 L282.3,706.83 L282.65,707.51 L282.99,708.16 L283.32,708.77 L283.65,709.35 L283.97,709.87 L284.28,710.36 L284.58,710.79 L284.87,711.18 L285.15,711.51 L285.42,711.79 L285.68,712.01 L285.93,712.17 L286.17,712.27 L286.4,712.3 L286.62,712.29 L286.86,712.27 L287.09,712.23 L287.34,712.18 L287.59,712.11 L287.84,712.02 L288.11,711.93 L288.38,711.82 L288.65,711.69 L288.93,711.56 L289.22,711.41 L289.51,711.24 L289.8,711.07 L290.1,710.88 L290.41,710.68 L290.72,710.48 L291.03,710.26 L291.35,710.02 L291.68,709.78 L292.01,709.53 L292.34,709.27 L292.68,709 L293.02,708.73 L293.36,708.44 L293.71,708.14 L294.06,707.84 L294.41,707.53 L294.77,707.21 L295.13,706.89 L295.49,706.55 L295.86,706.22 L296.23,705.87 L296.6,705.52 L296.97,705.17 L297.35,704.81 L297.73,704.44 L298.1,704.07 L298.49,703.7 L298.87,703.32 L299.25,702.94 L299.64,702.55 L300.03,702.16 L300.41,701.77 L300.8,701.38 L301.19,700.99 L301.58,700.59 L301.97,700.2 L302.37,699.8 L302.76,699.4 L303.15,699 L303.54,698.6 L303.93,698.2 L304.33,697.8 L304.72,697.41 L305.11,697.01 L305.5,696.62 L305.89,696.23 L306.27,695.84 L306.66,695.45 L307.05,695.06 L307.43,694.68 L307.81,694.3 L308.2,693.93 L308.57,693.56 L308.95,693.19 L309.33,692.83 L309.7,692.48 L310.07,692.13 L310.44,691.78 L310.81,691.45 L311.17,691.11 L311.53,690.79 L311.89,690.47 L312.24,690.16 L312.59,689.86 L312.94,689.56 L313.28,689.27 L313.62,689 L313.96,688.73 L314.29,688.47 L314.62,688.22 L314.95,687.98 L315.27,687.74 L315.58,687.52 L315.89,687.32 L316.2,687.12 L316.5,686.93 L316.79,686.76 L317.08,686.59 L317.37,686.44 L317.65,686.31 L317.92,686.18 L318.19,686.07 L318.46,685.98 L318.71,685.89 L318.96,685.82 L319.21,685.77 L319.44,685.73 L319.68,685.71 L319.9,685.7 L320.13,685.73 L320.38,685.81 L320.64,685.95 L320.92,686.14 L321.21,686.38 L321.51,686.66 L321.83,686.98 L322.16,687.33 L322.5,687.73 L322.85,688.15 L323.2,688.61 L323.57,689.09 L323.94,689.59 L324.31,690.11 L324.7,690.65 L325.08,691.2 L325.47,691.77 L325.86,692.34 L326.25,692.91 L326.65,693.49 L327.04,694.06 L327.43,694.63 L327.82,695.2 L328.2,695.75 L328.59,696.29 L328.96,696.81 L329.33,697.31 L329.7,697.79 L330.05,698.25 L330.4,698.67 L330.74,699.07 L331.07,699.42 L331.39,699.74 L331.69,700.02 L331.98,700.26 L332.26,700.45 L332.52,700.59 L332.77,700.67 L333,700.7" fill="none" stroke="#ee2a2a" stroke-width="1.4" stroke-linejoin="round" />
<rect x="56.0" y="589.4" width="277.2" height="159.20000000000005" fill="none" stroke="#000" stroke-width="1.4"/>
<line x1="56" y1="748.6" x2="56" y2="744.6" stroke="#000" stroke-width="1" />
<line x1="56" y1="589.4" x2="56" y2="593.4" stroke="#000" stroke-width="1" />
<line x1="83.72" y1="748.6" x2="83.72" y2="746.1" stroke="#000" stroke-width="1" />
<line x1="83.72" y1="589.4" x2="83.72" y2="591.9" stroke="#000" stroke-width="1" />
<line x1="111.44" y1="748.6" x2="111.44" y2="744.6" stroke="#000" stroke-width="1" />
<line x1="111.44" y1="589.4" x2="111.44" y2="593.4" stroke="#000" stroke-width="1" />
<line x1="139.16" y1="748.6" x2="139.16" y2="746.1" stroke="#000" stroke-width="1" />
<line x1="139.16" y1="589.4" x2="139.16" y2="591.9" stroke="#000" stroke-width="1" />
<line x1="166.88" y1="748.6" x2="166.88" y2="744.6" stroke="#000" stroke-width="1" />
<line x1="166.88" y1="589.4" x2="166.88" y2="593.4" stroke="#000" stroke-width="1" />
<line x1="194.6" y1="748.6" x2="194.6" y2="746.1" stroke="#000" stroke-width="1" />
<line x1="194.6" y1="589.4" x2="194.6" y2="591.9" stroke="#000" stroke-width="1" />
<line x1="222.32" y1="748.6" x2="222.32" y2="744.6" stroke="#000" stroke-width="1" />
<line x1="222.32" y1="589.4" x2="222.32" y2="593.4" stroke="#000" stroke-width="1" />
<line x1="250.04" y1="748.6" x2="250.04" y2="746.1" stroke="#000" stroke-width="1" />
<line x1="250.04" y1="589.4" x2="250.04" y2="591.9" stroke="#000" stroke-width="1" />
<line x1="277.76" y1="748.6" x2="277.76" y2="744.6" stroke="#000" stroke-width="1" />
<line x1="277.76" y1="589.4" x2="277.76" y2="593.4" stroke="#000" stroke-width="1" />
<line x1="305.48" y1="748.6" x2="305.48" y2="746.1" stroke="#000" stroke-width="1" />
<line x1="305.48" y1="589.4" x2="305.48" y2="591.9" stroke="#000" stroke-width="1" />
<line x1="333.2" y1="748.6" x2="333.2" y2="744.6" stroke="#000" stroke-width="1" />
<line x1="333.2" y1="589.4" x2="333.2" y2="593.4" stroke="#000" stroke-width="1" />
<line x1="56" y1="731.3" x2="60.5" y2="731.3" stroke="#000" stroke-width="1" />
<line x1="333.2" y1="731.3" x2="328.7" y2="731.3" stroke="#000" stroke-width="1" />
<line x1="56" y1="713" x2="58.5" y2="713" stroke="#000" stroke-width="1" />
<line x1="333.2" y1="713" x2="330.7" y2="713" stroke="#000" stroke-width="1" />
<line x1="56" y1="694.7" x2="60.5" y2="694.7" stroke="#000" stroke-width="1" />
<line x1="333.2" y1="694.7" x2="328.7" y2="694.7" stroke="#000" stroke-width="1" />
<line x1="56" y1="676.4" x2="58.5" y2="676.4" stroke="#000" stroke-width="1" />
<line x1="333.2" y1="676.4" x2="330.7" y2="676.4" stroke="#000" stroke-width="1" />
<line x1="56" y1="658.1" x2="60.5" y2="658.1" stroke="#000" stroke-width="1" />
<line x1="333.2" y1="658.1" x2="328.7" y2="658.1" stroke="#000" stroke-width="1" />
<line x1="56" y1="639.8" x2="58.5" y2="639.8" stroke="#000" stroke-width="1" />
<line x1="333.2" y1="639.8" x2="330.7" y2="639.8" stroke="#000" stroke-width="1" />
<line x1="56" y1="621.5" x2="60.5" y2="621.5" stroke="#000" stroke-width="1" />
<line x1="333.2" y1="621.5" x2="328.7" y2="621.5" stroke="#000" stroke-width="1" />
<line x1="56" y1="603.2" x2="58.5" y2="603.2" stroke="#000" stroke-width="1" />
<line x1="333.2" y1="603.2" x2="330.7" y2="603.2" stroke="#000" stroke-width="1" />
<text transform="translate(1,596.5) scale(1,1.08)" font-size="13.5" font-weight="bold">(d)</text>
<text x="52" y="626.2" font-size="12.5" text-anchor="end" font-weight="normal" fill="#000" >0.10</text>
<text x="52" y="662.8" font-size="12.5" text-anchor="end" font-weight="normal" fill="#000" >0.05</text>
<text x="52" y="699.4" font-size="12.5" text-anchor="end" font-weight="normal" fill="#000" >0.00</text>
<text x="52" y="736" font-size="12.5" text-anchor="end" font-weight="normal" fill="#000" >-0.05</text>
<text x="57.2" y="765" font-size="12.5" text-anchor="middle" font-weight="normal" fill="#000" >0.015</text>
<text x="112.64" y="765" font-size="12.5" text-anchor="middle" font-weight="normal" fill="#000" >0.020</text>
<text x="168.08" y="765" font-size="12.5" text-anchor="middle" font-weight="normal" fill="#000" >0.025</text>
<text x="223.52" y="765" font-size="12.5" text-anchor="middle" font-weight="normal" fill="#000" >0.030</text>
<text x="278.96" y="765" font-size="12.5" text-anchor="middle" font-weight="normal" fill="#000" >0.035</text>
<text x="334.4" y="765" font-size="12.5" text-anchor="middle" font-weight="normal" fill="#000" >0.040</text>
<text transform="translate(13,668.4) rotate(-90)" font-size="14" text-anchor="middle">Spin asymmetry</text>
<text x="195.2" y="782.7" font-size="14" text-anchor="middle" font-weight="normal" fill="#000" >Q (1/Å)</text>
<line x1="259.1" y1="608.4" x2="284.2" y2="608.4" stroke="#2a2a9c" stroke-width="1.4" />
<text x="313" y="612.5" font-size="11" text-anchor="end" font-weight="normal" fill="#000" >5 K</text>
<line x1="259.1" y1="621.7" x2="284.2" y2="621.7" stroke="#ee2a2a" stroke-width="1.4" />
<text x="313" y="625.8" font-size="11" text-anchor="end" font-weight="normal" fill="#000" >15 K</text>
<line x1="259.1" y1="635" x2="284.2" y2="635" stroke="#1fa85a" stroke-width="1.4" />
<text x="313" y="639.1" font-size="11" text-anchor="end" font-weight="normal" fill="#000" >50 K</text>
</svg>
</body></html>
